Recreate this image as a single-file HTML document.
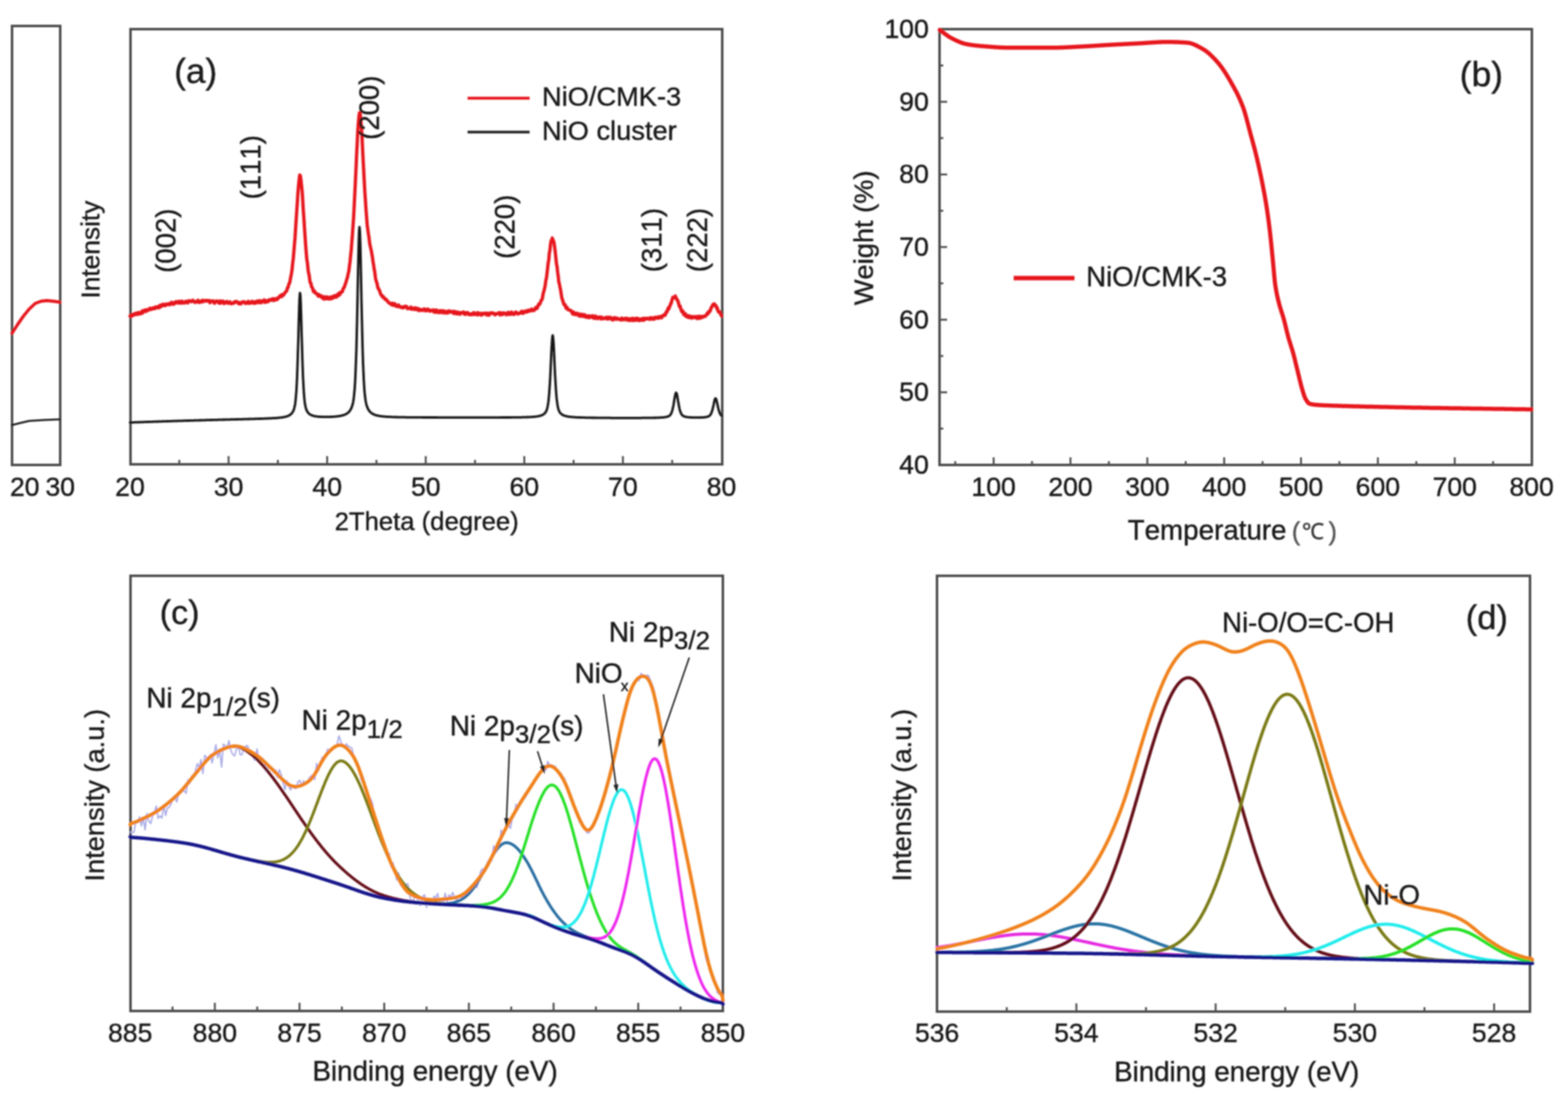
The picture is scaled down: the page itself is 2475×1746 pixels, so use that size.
<!DOCTYPE html>
<html><head><meta charset="utf-8"><style>
html,body{margin:0;padding:0;background:#fff;}
svg{display:block;}
text{font-family:"Liberation Sans", Arial, sans-serif;font-kerning:none;}
</style></head><body>
<svg width="2475" height="1746" viewBox="0 0 2475 1746">
<defs><filter id="soft" filterUnits="userSpaceOnUse" x="0" y="0" width="2475" height="1746"><feGaussianBlur stdDeviation="0.8"/></filter></defs>
<rect width="2475" height="1746" fill="#fff"/>
<g filter="url(#soft)">
<rect x="19" y="41" width="76" height="693" fill="none" stroke="#4e4e4e" stroke-width="4"/>
<path d="M19.0,526.0L28.0,512.0L37.0,499.0L46.0,488.0L55.6,479.0L65.0,475.5L74.0,474.5L84.0,475.5L94.5,477.0" fill="none" stroke="#e6141e" stroke-width="5" stroke-linejoin="round" stroke-linecap="round"/>
<path d="M19.0,671.0L33.0,667.5L46.0,664.5L70.0,663.0L94.5,662.0" fill="none" stroke="#1a1a1a" stroke-width="3.2" stroke-linejoin="round" stroke-linecap="round"/>
<text x="39.0" y="783.0" font-size="42" text-anchor="middle" fill="#1a1a1a" stroke="#1a1a1a" stroke-width="0.6">20</text>
<text x="95.0" y="783.0" font-size="42" text-anchor="middle" fill="#1a1a1a" stroke="#1a1a1a" stroke-width="0.6">30</text>
<rect x="206" y="46" width="934" height="687" fill="none" stroke="#4e4e4e" stroke-width="4"/>
<line x1="283.0" y1="733.0" x2="283.0" y2="726.0" stroke="#4e4e4e" stroke-width="3"/>
<line x1="360.8" y1="733.0" x2="360.8" y2="720.0" stroke="#4e4e4e" stroke-width="3"/>
<line x1="438.6" y1="733.0" x2="438.6" y2="726.0" stroke="#4e4e4e" stroke-width="3"/>
<line x1="516.4" y1="733.0" x2="516.4" y2="720.0" stroke="#4e4e4e" stroke-width="3"/>
<line x1="594.2" y1="733.0" x2="594.2" y2="726.0" stroke="#4e4e4e" stroke-width="3"/>
<line x1="672.0" y1="733.0" x2="672.0" y2="720.0" stroke="#4e4e4e" stroke-width="3"/>
<line x1="749.8" y1="733.0" x2="749.8" y2="726.0" stroke="#4e4e4e" stroke-width="3"/>
<line x1="827.6" y1="733.0" x2="827.6" y2="720.0" stroke="#4e4e4e" stroke-width="3"/>
<line x1="905.4" y1="733.0" x2="905.4" y2="726.0" stroke="#4e4e4e" stroke-width="3"/>
<line x1="983.2" y1="733.0" x2="983.2" y2="720.0" stroke="#4e4e4e" stroke-width="3"/>
<line x1="1061.0" y1="733.0" x2="1061.0" y2="726.0" stroke="#4e4e4e" stroke-width="3"/>
<text x="205.2" y="783.0" font-size="42" text-anchor="middle" fill="#1a1a1a" stroke="#1a1a1a" stroke-width="0.6">20</text>
<text x="360.8" y="783.0" font-size="42" text-anchor="middle" fill="#1a1a1a" stroke="#1a1a1a" stroke-width="0.6">30</text>
<text x="516.4" y="783.0" font-size="42" text-anchor="middle" fill="#1a1a1a" stroke="#1a1a1a" stroke-width="0.6">40</text>
<text x="672.0" y="783.0" font-size="42" text-anchor="middle" fill="#1a1a1a" stroke="#1a1a1a" stroke-width="0.6">50</text>
<text x="827.6" y="783.0" font-size="42" text-anchor="middle" fill="#1a1a1a" stroke="#1a1a1a" stroke-width="0.6">60</text>
<text x="983.2" y="783.0" font-size="42" text-anchor="middle" fill="#1a1a1a" stroke="#1a1a1a" stroke-width="0.6">70</text>
<text x="1138.8" y="783.0" font-size="42" text-anchor="middle" fill="#1a1a1a" stroke="#1a1a1a" stroke-width="0.6">80</text>
<text x="673.5" y="837.0" font-size="40.5" text-anchor="middle" fill="#1a1a1a" stroke="#1a1a1a" stroke-width="0.6">2Theta (degree)</text>
<text x="157.0" y="394.0" font-size="41.5" text-anchor="middle" fill="#1a1a1a" stroke="#1a1a1a" stroke-width="0.6" transform="rotate(-90 157 394)">Intensity</text>
<path d="M205.2,667.0L205.8,666.9L206.4,666.9L207.1,666.9L207.7,666.9L208.3,666.9L208.9,666.8L209.6,666.8L210.2,666.8L210.8,666.8L211.4,666.8L212.0,666.7L212.7,666.7L213.3,666.7L213.9,666.7L214.5,666.6L215.2,666.6L215.8,666.6L216.4,666.6L217.0,666.6L217.6,666.5L218.3,666.5L218.9,666.5L219.5,666.5L220.1,666.5L220.8,666.4L221.4,666.4L222.0,666.4L222.6,666.4L223.2,666.4L223.9,666.3L224.5,666.3L225.1,666.3L225.7,666.3L226.4,666.3L227.0,666.2L227.6,666.2L228.2,666.2L228.9,666.2L229.5,666.1L230.1,666.1L230.7,666.1L231.3,666.1L232.0,666.1L232.6,666.0L233.2,666.0L233.8,666.0L234.5,666.0L235.1,666.0L235.7,665.9L236.3,665.9L236.9,665.9L237.6,665.9L238.2,665.9L238.8,665.8L239.4,665.8L240.1,665.8L240.7,665.8L241.3,665.8L241.9,665.7L242.5,665.7L243.2,665.7L243.8,665.7L244.4,665.6L245.0,665.6L245.7,665.6L246.3,665.6L246.9,665.6L247.5,665.5L248.1,665.5L248.8,665.5L249.4,665.5L250.0,665.5L250.6,665.4L251.3,665.4L251.9,665.4L252.5,665.4L253.1,665.4L253.7,665.3L254.4,665.3L255.0,665.3L255.6,665.3L256.2,665.3L256.9,665.2L257.5,665.2L258.1,665.2L258.7,665.2L259.3,665.2L260.0,665.1L260.6,665.1L261.2,665.1L261.8,665.1L262.5,665.1L263.1,665.0L263.7,665.0L264.3,665.0L265.0,665.0L265.6,665.0L266.2,664.9L266.8,664.9L267.4,664.9L268.1,664.9L268.7,664.9L269.3,664.8L269.9,664.8L270.6,664.8L271.2,664.8L271.8,664.8L272.4,664.7L273.0,664.7L273.7,664.7L274.3,664.7L274.9,664.7L275.5,664.6L276.2,664.6L276.8,664.6L277.4,664.6L278.0,664.6L278.6,664.6L279.3,664.5L279.9,664.5L280.5,664.5L281.1,664.5L281.8,664.5L282.4,664.4L283.0,664.4L283.6,664.4L284.2,664.4L284.9,664.4L285.5,664.3L286.1,664.3L286.7,664.3L287.4,664.3L288.0,664.3L288.6,664.3L289.2,664.2L289.8,664.2L290.5,664.2L291.1,664.2L291.7,664.2L292.3,664.2L293.0,664.1L293.6,664.1L294.2,664.1L294.8,664.1L295.4,664.1L296.1,664.0L296.7,664.0L297.3,664.0L297.9,664.0L298.6,664.0L299.2,664.0L299.8,663.9L300.4,663.9L301.0,663.9L301.7,663.9L302.3,663.9L302.9,663.8L303.5,663.8L304.2,663.8L304.8,663.8L305.4,663.8L306.0,663.8L306.7,663.7L307.3,663.7L307.9,663.7L308.5,663.7L309.1,663.7L309.8,663.7L310.4,663.6L311.0,663.6L311.6,663.6L312.3,663.6L312.9,663.6L313.5,663.6L314.1,663.5L314.7,663.5L315.4,663.5L316.0,663.5L316.6,663.5L317.2,663.5L317.9,663.4L318.5,663.4L319.1,663.4L319.7,663.4L320.3,663.4L321.0,663.3L321.6,663.3L322.2,663.3L322.8,663.3L323.5,663.3L324.1,663.3L324.7,663.2L325.3,663.2L325.9,663.2L326.6,663.2L327.2,663.2L327.8,663.2L328.4,663.1L329.1,663.1L329.7,663.1L330.3,663.1L330.9,663.1L331.5,663.1L332.2,663.0L332.8,663.0L333.4,663.0L334.0,663.0L334.7,663.0L335.3,663.0L335.9,662.9L336.5,662.9L337.1,662.9L337.8,662.9L338.4,662.9L339.0,662.9L339.6,662.9L340.3,662.8L340.9,662.8L341.5,662.8L342.1,662.8L342.8,662.8L343.4,662.8L344.0,662.7L344.6,662.7L345.2,662.7L345.9,662.7L346.5,662.7L347.1,662.7L347.7,662.6L348.4,662.6L349.0,662.6L349.6,662.6L350.2,662.6L350.8,662.6L351.5,662.5L352.1,662.5L352.7,662.5L353.3,662.5L354.0,662.5L354.6,662.5L355.2,662.5L355.8,662.4L356.4,662.4L357.1,662.4L357.7,662.4L358.3,662.4L358.9,662.4L359.6,662.3L360.2,662.3L360.8,662.3L361.4,662.3L362.0,662.3L362.7,662.3L363.3,662.3L363.9,662.2L364.5,662.2L365.2,662.2L365.8,662.2L366.4,662.2L367.0,662.2L367.6,662.1L368.3,662.1L368.9,662.1L369.5,662.1L370.1,662.1L370.8,662.1L371.4,662.1L372.0,662.0L372.6,662.0L373.2,662.0L373.9,662.0L374.5,662.0L375.1,662.0L375.7,661.9L376.4,661.9L377.0,661.9L377.6,661.9L378.2,661.9L378.8,661.9L379.5,661.8L380.1,661.8L380.7,661.8L381.3,661.8L382.0,661.8L382.6,661.8L383.2,661.8L383.8,661.7L384.5,661.7L385.1,661.7L385.7,661.7L386.3,661.7L386.9,661.7L387.6,661.6L388.2,661.6L388.8,661.6L389.4,661.6L390.1,661.6L390.7,661.6L391.3,661.5L391.9,661.5L392.5,661.5L393.2,661.5L393.8,661.5L394.4,661.5L395.0,661.4L395.7,661.4L396.3,661.4L396.9,661.4L397.5,661.4L398.1,661.4L398.8,661.3L399.4,661.3L400.0,661.3L400.6,661.3L401.3,661.3L401.9,661.3L402.5,661.2L403.1,661.2L403.7,661.2L404.4,661.2L405.0,661.2L405.6,661.1L406.2,661.1L406.9,661.1L407.5,661.1L408.1,661.1L408.7,661.1L409.3,661.0L410.0,661.0L410.6,661.0L411.2,661.0L411.8,661.0L412.5,660.9L413.1,660.9L413.7,660.9L414.3,660.9L414.9,660.9L415.6,660.8L416.2,660.8L416.8,660.8L417.4,660.8L418.1,660.7L418.7,660.7L419.3,660.7L419.9,660.7L420.6,660.6L421.2,660.6L421.8,660.6L422.4,660.6L423.0,660.5L423.7,660.5L424.3,660.5L424.9,660.5L425.5,660.4L426.2,660.4L426.8,660.4L427.4,660.4L428.0,660.3L428.6,660.3L429.3,660.3L429.9,660.2L430.5,660.2L431.1,660.2L431.8,660.1L432.4,660.1L433.0,660.1L433.6,660.0L434.2,660.0L434.9,659.9L435.5,659.9L436.1,659.8L436.7,659.8L437.4,659.8L438.0,659.7L438.6,659.7L439.2,659.6L439.8,659.5L440.5,659.5L441.1,659.4L441.7,659.4L442.3,659.3L443.0,659.2L443.6,659.1L444.2,659.1L444.8,659.0L445.4,658.9L446.1,658.8L446.7,658.7L447.3,658.6L447.9,658.5L448.6,658.4L449.2,658.2L449.8,658.1L450.4,658.0L451.0,657.8L451.7,657.6L452.3,657.5L452.9,657.3L453.5,657.0L454.2,656.8L454.8,656.6L455.4,656.3L456.0,656.0L456.6,655.6L457.3,655.3L457.9,654.8L458.5,654.4L459.1,653.9L459.8,653.3L460.4,652.6L461.0,651.9L461.6,651.0L462.3,650.0L462.9,648.8L463.5,647.4L464.1,645.6L464.7,643.4L465.4,640.5L466.0,636.7L466.6,631.6L467.2,624.9L467.9,616.0L468.5,604.7L469.1,590.6L469.7,573.4L470.3,553.4L471.0,531.3L471.6,508.3L472.2,486.9L472.8,470.4L473.5,462.5L474.1,465.2L474.7,477.8L475.3,497.1L475.9,519.7L476.6,542.4L477.2,563.6L477.8,582.2L478.4,597.8L479.1,610.5L479.7,620.5L480.3,628.2L480.9,634.0L481.5,638.4L482.2,641.7L482.8,644.2L483.4,646.2L484.0,647.7L484.7,649.0L485.3,650.1L485.9,651.0L486.5,651.7L487.1,652.4L487.8,653.0L488.4,653.5L489.0,654.0L489.6,654.4L490.3,654.8L490.9,655.1L491.5,655.4L492.1,655.6L492.7,655.9L493.4,656.1L494.0,656.3L494.6,656.5L495.2,656.6L495.9,656.8L496.5,656.9L497.1,657.0L497.7,657.1L498.4,657.2L499.0,657.3L499.6,657.4L500.2,657.5L500.8,657.6L501.5,657.6L502.1,657.7L502.7,657.8L503.3,657.8L504.0,657.9L504.6,657.9L505.2,657.9L505.8,658.0L506.4,658.0L507.1,658.0L507.7,658.1L508.3,658.1L508.9,658.1L509.6,658.1L510.2,658.1L510.8,658.1L511.4,658.1L512.0,658.2L512.7,658.2L513.3,658.2L513.9,658.2L514.5,658.2L515.2,658.2L515.8,658.2L516.4,658.2L517.0,658.1L517.6,658.1L518.3,658.1L518.9,658.1L519.5,658.1L520.1,658.1L520.8,658.1L521.4,658.0L522.0,658.0L522.6,658.0L523.2,658.0L523.9,657.9L524.5,657.9L525.1,657.9L525.7,657.8L526.4,657.8L527.0,657.8L527.6,657.7L528.2,657.7L528.8,657.6L529.5,657.6L530.1,657.5L530.7,657.4L531.3,657.4L532.0,657.3L532.6,657.2L533.2,657.2L533.8,657.1L534.4,657.0L535.1,656.9L535.7,656.8L536.3,656.7L536.9,656.6L537.6,656.5L538.2,656.3L538.8,656.2L539.4,656.1L540.1,655.9L540.7,655.8L541.3,655.6L541.9,655.4L542.5,655.2L543.2,655.0L543.8,654.7L544.4,654.5L545.0,654.2L545.7,653.9L546.3,653.6L546.9,653.3L547.5,652.9L548.1,652.5L548.8,652.0L549.4,651.5L550.0,650.9L550.6,650.3L551.3,649.6L551.9,648.9L552.5,648.0L553.1,647.1L553.7,646.0L554.4,644.8L555.0,643.3L555.6,641.7L556.2,639.7L556.9,637.3L557.5,634.3L558.1,630.6L558.7,625.8L559.3,619.6L560.0,611.6L560.6,601.4L561.2,588.3L561.8,572.1L562.5,552.4L563.1,528.9L563.7,501.9L564.3,472.1L564.9,440.7L565.6,410.1L566.2,383.5L566.8,365.1L567.4,358.5L568.1,365.1L568.7,383.5L569.3,410.1L569.9,440.7L570.5,472.1L571.2,501.9L571.8,528.9L572.4,552.3L573.0,572.1L573.7,588.3L574.3,601.3L574.9,611.6L575.5,619.5L576.2,625.7L576.8,630.5L577.4,634.3L578.0,637.2L578.6,639.6L579.3,641.6L579.9,643.3L580.5,644.7L581.1,645.9L581.8,647.0L582.4,648.0L583.0,648.8L583.6,649.6L584.2,650.2L584.9,650.9L585.5,651.4L586.1,651.9L586.7,652.4L587.4,652.8L588.0,653.2L588.6,653.5L589.2,653.8L589.8,654.1L590.5,654.4L591.1,654.6L591.7,654.9L592.3,655.1L593.0,655.3L593.6,655.5L594.2,655.7L594.8,655.8L595.4,656.0L596.1,656.1L596.7,656.2L597.3,656.4L597.9,656.5L598.6,656.6L599.2,656.7L599.8,656.8L600.4,656.9L601.0,657.0L601.7,657.1L602.3,657.1L602.9,657.2L603.5,657.3L604.2,657.4L604.8,657.4L605.4,657.5L606.0,657.5L606.6,657.6L607.3,657.6L607.9,657.7L608.5,657.7L609.1,657.8L609.8,657.8L610.4,657.9L611.0,657.9L611.6,657.9L612.2,658.0L612.9,658.0L613.5,658.1L614.1,658.1L614.7,658.1L615.4,658.1L616.0,658.2L616.6,658.2L617.2,658.2L617.9,658.2L618.5,658.3L619.1,658.3L619.7,658.3L620.3,658.3L621.0,658.4L621.6,658.4L622.2,658.4L622.8,658.4L623.5,658.4L624.1,658.5L624.7,658.5L625.3,658.5L625.9,658.5L626.6,658.5L627.2,658.5L627.8,658.5L628.4,658.6L629.1,658.6L629.7,658.6L630.3,658.6L630.9,658.6L631.5,658.6L632.2,658.6L632.8,658.6L633.4,658.7L634.0,658.7L634.7,658.7L635.3,658.7L635.9,658.7L636.5,658.7L637.1,658.7L637.8,658.7L638.4,658.7L639.0,658.7L639.6,658.7L640.3,658.7L640.9,658.8L641.5,658.8L642.1,658.8L642.7,658.8L643.4,658.8L644.0,658.8L644.6,658.8L645.2,658.8L645.9,658.8L646.5,658.8L647.1,658.8L647.7,658.8L648.3,658.8L649.0,658.8L649.6,658.8L650.2,658.8L650.8,658.9L651.5,658.9L652.1,658.9L652.7,658.9L653.3,658.9L654.0,658.9L654.6,658.9L655.2,658.9L655.8,658.9L656.4,658.9L657.1,658.9L657.7,658.9L658.3,658.9L658.9,658.9L659.6,658.9L660.2,658.9L660.8,658.9L661.4,658.9L662.0,658.9L662.7,658.9L663.3,658.9L663.9,658.9L664.5,658.9L665.2,658.9L665.8,658.9L666.4,659.0L667.0,659.0L667.6,659.0L668.3,659.0L668.9,659.0L669.5,659.0L670.1,659.0L670.8,659.0L671.4,659.0L672.0,659.0L672.6,659.0L673.2,659.0L673.9,659.0L674.5,659.0L675.1,659.0L675.7,659.0L676.4,659.0L677.0,659.0L677.6,659.0L678.2,659.0L678.8,659.0L679.5,659.0L680.1,659.0L680.7,659.0L681.3,659.0L682.0,659.0L682.6,659.0L683.2,659.0L683.8,659.0L684.4,659.0L685.1,659.0L685.7,659.0L686.3,659.0L686.9,659.0L687.6,659.0L688.2,659.0L688.8,659.0L689.4,659.0L690.0,659.0L690.7,659.0L691.3,659.1L691.9,659.1L692.5,659.1L693.2,659.1L693.8,659.1L694.4,659.1L695.0,659.1L695.7,659.1L696.3,659.1L696.9,659.1L697.5,659.1L698.1,659.1L698.8,659.1L699.4,659.1L700.0,659.1L700.6,659.1L701.3,659.1L701.9,659.1L702.5,659.1L703.1,659.1L703.7,659.1L704.4,659.1L705.0,659.1L705.6,659.1L706.2,659.1L706.9,659.1L707.5,659.1L708.1,659.1L708.7,659.1L709.3,659.1L710.0,659.1L710.6,659.1L711.2,659.1L711.8,659.1L712.5,659.1L713.1,659.1L713.7,659.1L714.3,659.1L714.9,659.1L715.6,659.1L716.2,659.1L716.8,659.1L717.4,659.1L718.1,659.1L718.7,659.1L719.3,659.1L719.9,659.1L720.5,659.1L721.2,659.1L721.8,659.1L722.4,659.1L723.0,659.1L723.7,659.1L724.3,659.1L724.9,659.1L725.5,659.1L726.1,659.1L726.8,659.1L727.4,659.1L728.0,659.1L728.6,659.1L729.3,659.1L729.9,659.1L730.5,659.1L731.1,659.1L731.8,659.1L732.4,659.1L733.0,659.1L733.6,659.1L734.2,659.1L734.9,659.1L735.5,659.1L736.1,659.1L736.7,659.1L737.4,659.1L738.0,659.1L738.6,659.1L739.2,659.1L739.8,659.1L740.5,659.1L741.1,659.1L741.7,659.1L742.3,659.1L743.0,659.1L743.6,659.1L744.2,659.1L744.8,659.1L745.4,659.1L746.1,659.1L746.7,659.1L747.3,659.1L747.9,659.1L748.6,659.1L749.2,659.1L749.8,659.1L750.4,659.1L751.0,659.1L751.7,659.1L752.3,659.1L752.9,659.1L753.5,659.1L754.2,659.1L754.8,659.1L755.4,659.1L756.0,659.1L756.6,659.1L757.3,659.1L757.9,659.1L758.5,659.1L759.1,659.1L759.8,659.1L760.4,659.1L761.0,659.1L761.6,659.1L762.2,659.1L762.9,659.1L763.5,659.1L764.1,659.1L764.7,659.1L765.4,659.1L766.0,659.1L766.6,659.1L767.2,659.1L767.8,659.1L768.5,659.1L769.1,659.1L769.7,659.1L770.3,659.1L771.0,659.1L771.6,659.1L772.2,659.1L772.8,659.1L773.5,659.1L774.1,659.1L774.7,659.1L775.3,659.1L775.9,659.1L776.6,659.1L777.2,659.1L777.8,659.1L778.4,659.1L779.1,659.1L779.7,659.1L780.3,659.1L780.9,659.1L781.5,659.1L782.2,659.1L782.8,659.1L783.4,659.1L784.0,659.1L784.7,659.1L785.3,659.1L785.9,659.1L786.5,659.1L787.1,659.1L787.8,659.1L788.4,659.1L789.0,659.1L789.6,659.0L790.3,659.0L790.9,659.0L791.5,659.0L792.1,659.0L792.7,659.0L793.4,659.0L794.0,659.0L794.6,659.0L795.2,659.0L795.9,659.0L796.5,659.0L797.1,659.0L797.7,659.0L798.3,659.0L799.0,659.0L799.6,659.0L800.2,659.0L800.8,659.0L801.5,659.0L802.1,659.0L802.7,659.0L803.3,659.0L803.9,659.0L804.6,659.0L805.2,659.0L805.8,659.0L806.4,659.0L807.1,659.0L807.7,658.9L808.3,658.9L808.9,658.9L809.6,658.9L810.2,658.9L810.8,658.9L811.4,658.9L812.0,658.9L812.7,658.9L813.3,658.9L813.9,658.9L814.5,658.9L815.2,658.9L815.8,658.9L816.4,658.9L817.0,658.9L817.6,658.8L818.3,658.8L818.9,658.8L819.5,658.8L820.1,658.8L820.8,658.8L821.4,658.8L822.0,658.8L822.6,658.8L823.2,658.8L823.9,658.7L824.5,658.7L825.1,658.7L825.7,658.7L826.4,658.7L827.0,658.7L827.6,658.7L828.2,658.6L828.8,658.6L829.5,658.6L830.1,658.6L830.7,658.6L831.3,658.5L832.0,658.5L832.6,658.5L833.2,658.5L833.8,658.5L834.4,658.4L835.1,658.4L835.7,658.4L836.3,658.3L836.9,658.3L837.6,658.3L838.2,658.3L838.8,658.2L839.4,658.2L840.0,658.1L840.7,658.1L841.3,658.1L841.9,658.0L842.5,658.0L843.2,657.9L843.8,657.8L844.4,657.8L845.0,657.7L845.6,657.7L846.3,657.6L846.9,657.5L847.5,657.4L848.1,657.3L848.8,657.2L849.4,657.1L850.0,657.0L850.6,656.9L851.3,656.7L851.9,656.6L852.5,656.4L853.1,656.2L853.7,656.1L854.4,655.8L855.0,655.6L855.6,655.3L856.2,655.0L856.9,654.7L857.5,654.4L858.1,653.9L858.7,653.5L859.3,653.0L860.0,652.3L860.6,651.6L861.2,650.8L861.8,649.7L862.5,648.5L863.1,646.8L863.7,644.8L864.3,642.1L864.9,638.7L865.6,634.2L866.2,628.6L866.8,621.6L867.4,613.1L868.1,603.0L868.7,591.3L869.3,578.4L869.9,564.9L870.5,551.7L871.2,540.2L871.8,532.2L872.4,529.4L873.0,532.3L873.7,540.2L874.3,551.7L874.9,564.9L875.5,578.5L876.1,591.4L876.8,603.0L877.4,613.1L878.0,621.7L878.6,628.7L879.3,634.3L879.9,638.7L880.5,642.2L881.1,644.9L881.7,646.9L882.4,648.6L883.0,649.9L883.6,650.9L884.2,651.8L884.9,652.5L885.5,653.1L886.1,653.6L886.7,654.1L887.4,654.5L888.0,654.9L888.6,655.2L889.2,655.5L889.8,655.8L890.5,656.0L891.1,656.3L891.7,656.5L892.3,656.6L893.0,656.8L893.6,657.0L894.2,657.1L894.8,657.2L895.4,657.4L896.1,657.5L896.7,657.6L897.3,657.7L897.9,657.8L898.6,657.9L899.2,657.9L899.8,658.0L900.4,658.1L901.0,658.2L901.7,658.2L902.3,658.3L902.9,658.3L903.5,658.4L904.2,658.4L904.8,658.5L905.4,658.5L906.0,658.6L906.6,658.6L907.3,658.6L907.9,658.7L908.5,658.7L909.1,658.8L909.8,658.8L910.4,658.8L911.0,658.8L911.6,658.9L912.2,658.9L912.9,658.9L913.5,659.0L914.1,659.0L914.7,659.0L915.4,659.0L916.0,659.0L916.6,659.1L917.2,659.1L917.8,659.1L918.5,659.1L919.1,659.1L919.7,659.2L920.3,659.2L921.0,659.2L921.6,659.2L922.2,659.2L922.8,659.2L923.4,659.3L924.1,659.3L924.7,659.3L925.3,659.3L925.9,659.3L926.6,659.3L927.2,659.3L927.8,659.4L928.4,659.4L929.1,659.4L929.7,659.4L930.3,659.4L930.9,659.4L931.5,659.4L932.2,659.4L932.8,659.4L933.4,659.5L934.0,659.5L934.7,659.5L935.3,659.5L935.9,659.5L936.5,659.5L937.1,659.5L937.8,659.5L938.4,659.5L939.0,659.5L939.6,659.5L940.3,659.6L940.9,659.6L941.5,659.6L942.1,659.6L942.7,659.6L943.4,659.6L944.0,659.6L944.6,659.6L945.2,659.6L945.9,659.6L946.5,659.6L947.1,659.6L947.7,659.6L948.3,659.6L949.0,659.6L949.6,659.7L950.2,659.7L950.8,659.7L951.5,659.7L952.1,659.7L952.7,659.7L953.3,659.7L953.9,659.7L954.6,659.7L955.2,659.7L955.8,659.7L956.4,659.7L957.1,659.7L957.7,659.7L958.3,659.7L958.9,659.7L959.5,659.7L960.2,659.7L960.8,659.7L961.4,659.7L962.0,659.7L962.7,659.7L963.3,659.7L963.9,659.8L964.5,659.8L965.2,659.8L965.8,659.8L966.4,659.8L967.0,659.8L967.6,659.8L968.3,659.8L968.9,659.8L969.5,659.8L970.1,659.8L970.8,659.8L971.4,659.8L972.0,659.8L972.6,659.8L973.2,659.8L973.9,659.8L974.5,659.8L975.1,659.8L975.7,659.8L976.4,659.8L977.0,659.8L977.6,659.8L978.2,659.8L978.8,659.8L979.5,659.8L980.1,659.8L980.7,659.8L981.3,659.8L982.0,659.8L982.6,659.8L983.2,659.8L983.8,659.8L984.4,659.8L985.1,659.8L985.7,659.8L986.3,659.8L986.9,659.8L987.6,659.8L988.2,659.8L988.8,659.8L989.4,659.8L990.0,659.8L990.7,659.8L991.3,659.8L991.9,659.8L992.5,659.8L993.2,659.8L993.8,659.8L994.4,659.8L995.0,659.8L995.6,659.8L996.3,659.8L996.9,659.8L997.5,659.8L998.1,659.8L998.8,659.8L999.4,659.8L1000.0,659.8L1000.6,659.8L1001.2,659.8L1001.9,659.8L1002.5,659.8L1003.1,659.8L1003.7,659.8L1004.4,659.8L1005.0,659.8L1005.6,659.8L1006.2,659.8L1006.9,659.8L1007.5,659.8L1008.1,659.8L1008.7,659.8L1009.3,659.8L1010.0,659.8L1010.6,659.8L1011.2,659.8L1011.8,659.8L1012.5,659.8L1013.1,659.7L1013.7,659.7L1014.3,659.7L1014.9,659.7L1015.6,659.7L1016.2,659.7L1016.8,659.7L1017.4,659.7L1018.1,659.7L1018.7,659.7L1019.3,659.7L1019.9,659.7L1020.5,659.7L1021.2,659.7L1021.8,659.7L1022.4,659.7L1023.0,659.7L1023.7,659.7L1024.3,659.7L1024.9,659.7L1025.5,659.7L1026.1,659.6L1026.8,659.6L1027.4,659.6L1028.0,659.6L1028.6,659.6L1029.3,659.6L1029.9,659.6L1030.5,659.6L1031.1,659.6L1031.7,659.6L1032.4,659.5L1033.0,659.5L1033.6,659.5L1034.2,659.5L1034.9,659.5L1035.5,659.5L1036.1,659.5L1036.7,659.4L1037.3,659.4L1038.0,659.4L1038.6,659.4L1039.2,659.4L1039.8,659.3L1040.5,659.3L1041.1,659.3L1041.7,659.2L1042.3,659.2L1043.0,659.2L1043.6,659.1L1044.2,659.1L1044.8,659.1L1045.4,659.0L1046.1,659.0L1046.7,658.9L1047.3,658.8L1047.9,658.8L1048.6,658.7L1049.2,658.6L1049.8,658.5L1050.4,658.4L1051.0,658.3L1051.7,658.2L1052.3,658.1L1052.9,657.9L1053.5,657.7L1054.2,657.5L1054.8,657.3L1055.4,657.0L1056.0,656.7L1056.6,656.3L1057.3,655.8L1057.9,655.1L1058.5,654.3L1059.1,653.3L1059.8,652.0L1060.4,650.4L1061.0,648.5L1061.6,646.2L1062.2,643.4L1062.9,640.3L1063.5,636.8L1064.1,633.1L1064.7,629.3L1065.4,625.7L1066.0,622.7L1066.6,620.6L1067.2,619.9L1067.8,620.6L1068.5,622.6L1069.1,625.7L1069.7,629.3L1070.3,633.1L1071.0,636.8L1071.6,640.3L1072.2,643.4L1072.8,646.1L1073.4,648.5L1074.1,650.4L1074.7,652.0L1075.3,653.3L1075.9,654.3L1076.6,655.1L1077.2,655.7L1077.8,656.2L1078.4,656.6L1079.0,657.0L1079.7,657.2L1080.3,657.5L1080.9,657.7L1081.5,657.8L1082.2,658.0L1082.8,658.1L1083.4,658.2L1084.0,658.3L1084.7,658.4L1085.3,658.5L1085.9,658.6L1086.5,658.7L1087.1,658.7L1087.8,658.8L1088.4,658.8L1089.0,658.9L1089.6,658.9L1090.3,658.9L1090.9,659.0L1091.5,659.0L1092.1,659.0L1092.7,659.1L1093.4,659.1L1094.0,659.1L1094.6,659.1L1095.2,659.1L1095.9,659.1L1096.5,659.2L1097.1,659.2L1097.7,659.2L1098.3,659.2L1099.0,659.2L1099.6,659.2L1100.2,659.2L1100.8,659.2L1101.5,659.2L1102.1,659.2L1102.7,659.2L1103.3,659.1L1103.9,659.1L1104.6,659.1L1105.2,659.1L1105.8,659.1L1106.4,659.1L1107.1,659.0L1107.7,659.0L1108.3,659.0L1108.9,658.9L1109.5,658.9L1110.2,658.9L1110.8,658.8L1111.4,658.8L1112.0,658.7L1112.7,658.6L1113.3,658.5L1113.9,658.5L1114.5,658.4L1115.1,658.2L1115.8,658.1L1116.4,658.0L1117.0,657.8L1117.6,657.6L1118.3,657.3L1118.9,657.0L1119.5,656.6L1120.1,656.1L1120.8,655.5L1121.4,654.7L1122.0,653.7L1122.6,652.5L1123.2,651.0L1123.9,649.2L1124.5,647.1L1125.1,644.7L1125.7,642.0L1126.4,639.1L1127.0,636.1L1127.6,633.4L1128.2,631.0L1128.8,629.4L1129.5,628.9L1130.1,629.4L1130.7,631.0L1131.3,633.4L1132.0,636.2L1132.6,639.1L1133.2,642.0L1133.8,644.7L1134.4,647.1L1135.1,649.2L1135.7,651.0L1136.3,652.6L1136.9,653.8L1137.6,654.8L1138.2,655.6L1138.8,656.2" fill="none" stroke="#151515" stroke-width="3.8" stroke-linejoin="round" stroke-linecap="round"/>
<path d="M205.2,499.0L206.1,498.0L207.1,499.6L208.0,497.0L208.9,498.5L209.9,497.5L210.8,495.9L211.7,497.3L212.7,495.1L213.6,496.4L214.5,494.6L215.5,494.3L216.4,495.3L217.3,496.5L218.3,493.4L219.2,493.4L220.1,494.7L221.1,495.6L222.0,493.8L222.9,492.8L223.9,494.7L224.8,490.7L225.7,493.6L226.7,491.0L227.6,490.1L228.5,489.6L229.5,490.1L230.4,491.8L231.3,488.9L232.3,490.2L233.2,490.2L234.1,488.8L235.1,489.2L236.0,487.0L236.9,486.7L237.9,487.0L238.8,488.6L239.7,487.2L240.7,486.5L241.6,487.3L242.5,486.4L243.5,485.5L244.4,487.2L245.3,486.5L246.3,484.4L247.2,485.4L248.1,484.9L249.1,486.0L250.0,485.1L250.9,483.1L251.9,485.5L252.8,481.8L253.7,482.7L254.7,483.8L255.6,481.1L256.5,482.1L257.5,480.1L258.4,482.3L259.3,482.5L260.3,481.4L261.2,482.4L262.1,479.9L263.1,481.2L264.0,480.6L265.0,480.3L265.9,479.6L266.8,481.0L267.8,481.2L268.7,479.1L269.6,479.7L270.6,477.2L271.5,479.6L272.4,479.2L273.4,480.5L274.3,479.7L275.2,477.5L276.2,477.8L277.1,478.8L278.0,476.1L279.0,477.7L279.9,476.5L280.8,476.2L281.8,475.8L282.7,478.6L283.6,475.9L284.6,476.3L285.5,476.8L286.4,478.6L287.4,475.4L288.3,476.7L289.2,477.1L290.2,478.3L291.1,478.0L292.0,478.1L293.0,475.7L293.9,476.1L294.8,475.8L295.8,477.9L296.7,478.1L297.6,474.8L298.6,474.9L299.5,475.0L300.4,475.0L301.4,476.0L302.3,476.3L303.2,475.0L304.2,473.9L305.1,475.6L306.0,475.3L307.0,476.1L307.9,477.6L308.8,476.6L309.8,475.9L310.7,476.3L311.6,476.5L312.6,474.0L313.5,477.4L314.4,476.9L315.4,477.3L316.3,477.0L317.2,475.4L318.2,475.5L319.1,474.3L320.0,476.5L321.0,474.2L321.9,474.3L322.8,474.9L323.8,474.7L324.7,475.5L325.6,474.4L326.6,474.2L327.5,474.8L328.4,474.7L329.4,475.8L330.3,474.5L331.2,477.9L332.2,476.9L333.1,475.1L334.0,475.5L335.0,476.0L335.9,476.1L336.8,475.1L337.8,478.1L338.7,478.7L339.6,476.6L340.6,476.7L341.5,475.2L342.4,475.3L343.4,476.3L344.3,476.0L345.2,478.3L346.2,475.6L347.1,475.1L348.0,478.8L349.0,477.2L349.9,475.7L350.8,477.3L351.8,475.3L352.7,477.3L353.6,479.2L354.6,478.7L355.5,478.1L356.4,476.4L357.4,476.8L358.3,476.1L359.2,478.5L360.2,477.6L361.1,478.6L362.0,476.9L363.0,476.5L363.9,478.8L364.8,479.6L365.8,479.1L366.7,478.9L367.6,479.0L368.6,478.7L369.5,476.6L370.4,477.8L371.4,477.2L372.3,475.9L373.2,475.9L374.2,476.9L375.1,476.8L376.0,478.6L377.0,479.6L377.9,477.6L378.8,479.5L379.8,479.7L380.7,479.5L381.7,477.2L382.6,476.6L383.5,476.6L384.5,476.4L385.4,476.4L386.3,478.0L387.3,479.1L388.2,478.8L389.1,477.4L390.1,478.0L391.0,478.6L391.9,475.7L392.9,477.9L393.8,478.9L394.7,478.3L395.7,478.2L396.6,477.0L397.5,475.8L398.5,478.2L399.4,476.3L400.3,478.1L401.3,478.7L402.2,476.4L403.1,476.3L404.1,478.5L405.0,477.5L405.9,475.2L406.9,475.0L407.8,475.0L408.7,477.9L409.7,477.5L410.6,474.7L411.5,477.4L412.5,477.9L413.4,476.5L414.3,475.2L415.3,475.9L416.2,474.1L417.1,473.5L418.1,477.3L419.0,475.9L419.9,475.2L420.9,476.7L421.8,474.6L422.7,476.2L423.7,475.9L424.6,473.3L425.5,473.2L426.5,473.2L427.4,472.8L428.3,474.0L429.3,472.5L430.2,473.0L431.1,471.6L432.1,474.5L433.0,472.0L433.9,472.1L434.9,472.3L435.8,473.3L436.7,471.0L437.7,472.7L438.6,470.6L439.5,470.3L440.5,469.9L441.4,467.4L442.3,468.5L443.3,467.0L444.2,465.6L445.1,468.1L446.1,464.9L447.0,465.3L447.9,465.4L448.9,463.7L449.8,461.7L450.7,461.2L451.7,460.0L452.6,459.2L453.5,454.7L454.5,454.3L455.4,450.5L456.3,447.7L457.3,446.2L458.2,441.1L459.1,436.5L460.1,431.7L461.0,425.7L461.9,416.3L462.9,408.3L463.8,397.9L464.7,386.8L465.7,375.2L466.6,360.8L467.5,346.7L468.5,331.6L469.4,318.6L470.3,303.7L471.3,292.4L472.2,283.8L473.1,276.3L474.1,277.5L475.0,283.8L475.9,292.3L476.9,301.4L477.8,315.3L478.7,331.4L479.7,344.9L480.6,359.9L481.5,372.7L482.5,387.5L483.4,399.1L484.3,409.4L485.3,415.1L486.2,424.9L487.1,431.2L488.1,434.8L489.0,442.5L489.9,446.9L490.9,447.4L491.8,453.2L492.7,453.5L493.7,456.0L494.6,459.9L495.5,460.8L496.5,459.5L497.4,461.8L498.4,463.2L499.3,463.4L500.2,463.7L501.2,464.9L502.1,467.2L503.0,465.0L504.0,467.7L504.9,467.7L505.8,466.4L506.8,468.1L507.7,469.6L508.6,469.4L509.6,467.9L510.5,471.8L511.4,471.2L512.4,472.1L513.3,468.8L514.2,469.5L515.2,468.7L516.1,471.7L517.0,469.6L518.0,469.1L518.9,470.2L519.8,472.1L520.8,471.6L521.7,469.3L522.6,468.7L523.6,471.6L524.5,470.0L525.4,470.3L526.4,467.6L527.3,467.1L528.2,469.3L529.2,467.9L530.1,466.1L531.0,469.1L532.0,467.3L532.9,467.4L533.8,464.0L534.8,466.4L535.7,462.4L536.6,464.8L537.6,462.2L538.5,460.8L539.4,460.5L540.4,460.7L541.3,456.7L542.2,454.6L543.2,454.4L544.1,451.3L545.0,448.5L546.0,446.1L546.9,442.7L547.8,439.8L548.8,436.3L549.7,431.6L550.6,428.1L551.6,419.9L552.5,413.6L553.4,404.0L554.4,395.1L555.3,382.9L556.2,371.5L557.2,356.7L558.1,344.2L559.0,326.5L560.0,306.7L560.9,288.4L561.8,269.9L562.8,246.0L563.7,229.0L564.6,209.4L565.6,194.6L566.5,185.3L567.4,178.2L568.4,179.1L569.3,186.1L570.2,198.6L571.2,211.1L572.1,230.6L573.0,248.9L574.0,267.6L574.9,285.0L575.8,301.9L576.8,316.3L577.7,330.4L578.6,342.2L579.6,355.2L580.5,361.9L581.4,368.7L582.4,374.5L583.3,382.8L584.2,387.9L585.2,392.0L586.1,395.7L587.0,401.1L588.0,407.2L588.9,413.9L589.8,418.8L590.8,425.8L591.7,430.6L592.6,438.5L593.6,443.2L594.5,445.7L595.4,448.3L596.4,454.6L597.3,454.9L598.2,457.7L599.2,458.6L600.1,462.2L601.0,464.4L602.0,466.1L602.9,466.4L603.8,468.9L604.8,468.0L605.7,470.1L606.6,470.3L607.6,472.4L608.5,471.8L609.4,472.5L610.4,474.3L611.3,474.6L612.2,476.6L613.2,477.0L614.1,478.4L615.1,478.5L616.0,479.2L616.9,480.3L617.9,478.8L618.8,478.9L619.7,481.9L620.7,479.0L621.6,481.6L622.5,481.6L623.5,479.5L624.4,483.0L625.3,483.5L626.3,482.7L627.2,483.4L628.1,484.0L629.1,481.5L630.0,483.3L630.9,483.5L631.9,485.0L632.8,485.1L633.7,485.4L634.7,484.6L635.6,486.1L636.5,485.4L637.5,485.6L638.4,484.0L639.3,483.3L640.3,483.9L641.2,485.0L642.1,484.1L643.1,487.2L644.0,486.3L644.9,486.7L645.9,486.9L646.8,487.2L647.7,486.6L648.7,484.8L649.6,488.1L650.5,488.1L651.5,487.2L652.4,487.5L653.3,488.1L654.3,485.9L655.2,488.7L656.1,486.8L657.1,486.3L658.0,487.1L658.9,489.1L659.9,487.1L660.8,489.4L661.7,490.4L662.7,488.6L663.6,488.3L664.5,488.8L665.5,489.7L666.4,490.2L667.3,489.7L668.3,489.9L669.2,487.7L670.1,488.1L671.1,488.6L672.0,490.7L672.9,489.0L673.9,490.2L674.8,488.0L675.7,488.3L676.7,489.2L677.6,490.9L678.5,491.1L679.5,491.1L680.4,489.7L681.3,490.7L682.3,490.6L683.2,490.7L684.1,489.3L685.1,492.5L686.0,489.8L686.9,493.0L687.9,492.9L688.8,489.3L689.7,491.2L690.7,492.7L691.6,493.4L692.5,491.4L693.5,490.7L694.4,490.6L695.3,493.6L696.3,490.7L697.2,492.3L698.1,490.6L699.1,492.2L700.0,494.0L700.9,490.8L701.9,493.6L702.8,492.4L703.7,494.0L704.7,493.3L705.6,491.5L706.5,494.2L707.5,492.6L708.4,490.9L709.3,490.8L710.3,492.9L711.2,492.8L712.1,492.2L713.1,491.7L714.0,492.6L714.9,492.5L715.9,494.7L716.8,491.4L717.7,494.5L718.7,494.9L719.6,492.1L720.5,495.4L721.5,494.6L722.4,495.4L723.3,493.0L724.3,493.4L725.2,493.6L726.1,496.1L727.1,494.5L728.0,493.6L728.9,494.0L729.9,493.4L730.8,492.6L731.8,492.8L732.7,495.8L733.6,493.7L734.6,496.4L735.5,493.7L736.4,493.8L737.4,494.8L738.3,493.6L739.2,494.4L740.2,496.8L741.1,496.5L742.0,496.3L743.0,495.6L743.9,496.8L744.8,496.9L745.8,495.4L746.7,496.1L747.6,493.5L748.6,496.3L749.5,495.2L750.4,496.4L751.4,496.0L752.3,494.6L753.2,493.7L754.2,497.2L755.1,494.0L756.0,495.4L757.0,495.0L757.9,494.8L758.8,496.6L759.8,497.5L760.7,494.7L761.6,496.3L762.6,494.8L763.5,495.9L764.4,495.2L765.4,494.3L766.3,494.3L767.2,494.4L768.2,497.2L769.1,495.6L770.0,494.5L771.0,497.2L771.9,497.6L772.8,495.4L773.8,494.1L774.7,494.3L775.6,493.9L776.6,494.9L777.5,493.9L778.4,494.5L779.4,494.5L780.3,495.7L781.2,497.0L782.2,496.4L783.1,495.1L784.0,495.1L785.0,495.5L785.9,494.9L786.8,494.7L787.8,493.6L788.7,494.4L789.6,497.2L790.6,493.8L791.5,495.3L792.4,495.7L793.4,496.6L794.3,494.0L795.2,494.2L796.2,494.1L797.1,494.7L798.0,494.8L799.0,496.8L799.9,496.4L800.8,496.4L801.8,493.0L802.7,493.0L803.6,495.7L804.6,496.4L805.5,494.6L806.4,495.0L807.4,492.6L808.3,494.2L809.2,496.2L810.2,495.8L811.1,495.8L812.0,496.2L813.0,493.3L813.9,492.7L814.8,492.8L815.8,494.2L816.7,494.7L817.6,495.7L818.6,494.7L819.5,494.3L820.4,494.7L821.4,493.4L822.3,493.6L823.2,491.5L824.2,494.3L825.1,492.0L826.0,494.6L827.0,493.4L827.9,491.8L828.8,491.0L829.8,491.3L830.7,492.7L831.6,492.7L832.6,490.2L833.5,489.8L834.4,491.4L835.4,491.4L836.3,490.3L837.2,489.4L838.2,490.6L839.1,487.9L840.0,488.7L841.0,489.0L841.9,490.6L842.8,488.9L843.8,489.3L844.7,487.1L845.6,485.5L846.6,484.9L847.5,487.0L848.5,485.0L849.4,482.4L850.3,480.1L851.3,480.7L852.2,479.9L853.1,477.1L854.1,474.4L855.0,473.7L855.9,472.0L856.9,466.1L857.8,461.8L858.7,458.9L859.7,454.7L860.6,450.6L861.5,443.0L862.5,439.1L863.4,432.1L864.3,423.9L865.3,415.0L866.2,410.2L867.1,399.8L868.1,394.5L869.0,385.6L869.9,380.3L870.9,378.9L871.8,375.7L872.7,379.1L873.7,380.2L874.6,383.8L875.5,390.3L876.5,398.3L877.4,407.1L878.3,416.3L879.3,420.9L880.2,429.5L881.1,435.8L882.1,445.5L883.0,448.1L883.9,453.2L884.9,458.1L885.8,463.8L886.7,469.7L887.7,473.0L888.6,475.3L889.5,479.0L890.5,481.0L891.4,480.5L892.3,481.7L893.3,486.2L894.2,486.8L895.1,485.1L896.1,488.6L897.0,488.4L897.9,489.2L898.9,489.8L899.8,489.8L900.7,489.8L901.7,491.4L902.6,492.3L903.5,495.2L904.5,492.3L905.4,496.1L906.3,493.4L907.3,494.4L908.2,496.6L909.1,496.9L910.1,495.6L911.0,494.4L911.9,496.4L912.9,496.2L913.8,498.6L914.7,496.0L915.7,496.9L916.6,499.2L917.5,495.9L918.5,497.6L919.4,499.4L920.3,499.4L921.3,496.7L922.2,496.8L923.1,497.1L924.1,500.6L925.0,498.1L925.9,500.2L926.9,500.9L927.8,498.8L928.7,498.7L929.7,501.5L930.6,500.3L931.5,499.0L932.5,500.9L933.4,499.4L934.3,499.4L935.3,498.4L936.2,501.5L937.1,502.2L938.1,501.2L939.0,502.5L939.9,498.9L940.9,499.9L941.8,500.9L942.7,502.9L943.7,503.0L944.6,500.8L945.5,500.4L946.5,501.2L947.4,501.5L948.3,503.3L949.3,500.4L950.2,503.0L951.1,502.8L952.1,503.2L953.0,503.1L953.9,502.5L954.9,501.4L955.8,501.5L956.7,501.7L957.7,503.4L958.6,500.7L959.5,501.2L960.5,503.5L961.4,501.6L962.3,500.9L963.3,500.8L964.2,503.0L965.2,502.1L966.1,504.8L967.0,504.4L968.0,504.9L968.9,502.1L969.8,501.4L970.8,501.5L971.7,503.2L972.6,504.1L973.6,503.1L974.5,502.3L975.4,503.0L976.4,503.9L977.3,504.2L978.2,504.5L979.2,504.9L980.1,504.2L981.0,502.1L982.0,505.0L982.9,502.9L983.8,504.0L984.8,503.3L985.7,504.7L986.6,502.6L987.6,502.8L988.5,502.9L989.4,502.5L990.4,505.5L991.3,504.3L992.2,503.3L993.2,503.6L994.1,506.0L995.0,504.1L996.0,503.0L996.9,505.3L997.8,504.7L998.8,506.1L999.7,502.5L1000.6,504.0L1001.6,505.4L1002.5,505.5L1003.4,505.8L1004.4,502.3L1005.3,503.3L1006.2,502.6L1007.2,502.9L1008.1,506.0L1009.0,504.4L1010.0,505.8L1010.9,503.6L1011.8,505.5L1012.8,503.8L1013.7,503.1L1014.6,505.1L1015.6,505.7L1016.5,502.4L1017.4,504.3L1018.4,504.3L1019.3,502.7L1020.2,503.3L1021.2,502.3L1022.1,502.5L1023.0,502.7L1024.0,504.0L1024.9,504.1L1025.8,502.3L1026.8,501.4L1027.7,502.6L1028.6,503.9L1029.6,501.9L1030.5,502.3L1031.4,501.8L1032.4,504.0L1033.3,502.9L1034.2,500.8L1035.2,500.9L1036.1,501.9L1037.0,502.3L1038.0,502.5L1038.9,500.1L1039.8,500.1L1040.8,502.0L1041.7,500.6L1042.6,499.7L1043.6,499.5L1044.5,501.6L1045.4,498.6L1046.4,499.0L1047.3,497.5L1048.2,497.0L1049.2,497.9L1050.1,497.5L1051.0,493.8L1052.0,491.9L1052.9,492.6L1053.8,488.9L1054.8,486.3L1055.7,488.0L1056.6,484.0L1057.6,483.3L1058.5,479.4L1059.4,478.9L1060.4,474.9L1061.3,471.6L1062.2,469.1L1063.2,469.9L1064.1,469.4L1065.0,470.2L1066.0,467.3L1066.9,470.5L1067.8,471.0L1068.8,473.5L1069.7,474.3L1070.6,477.1L1071.6,480.4L1072.5,484.2L1073.4,483.1L1074.4,486.7L1075.3,489.8L1076.2,492.1L1077.2,490.5L1078.1,491.6L1079.0,496.0L1080.0,497.2L1080.9,496.1L1081.9,495.2L1082.8,499.4L1083.7,497.8L1084.7,500.4L1085.6,499.7L1086.5,500.9L1087.5,498.5L1088.4,501.3L1089.3,499.3L1090.3,500.2L1091.2,502.1L1092.1,502.2L1093.1,499.7L1094.0,500.0L1094.9,500.8L1095.9,501.3L1096.8,500.9L1097.7,499.8L1098.7,500.4L1099.6,502.3L1100.5,503.0L1101.5,499.5L1102.4,501.6L1103.3,502.3L1104.3,499.3L1105.2,502.5L1106.1,499.5L1107.1,501.2L1108.0,500.9L1108.9,501.0L1109.9,499.4L1110.8,499.6L1111.7,499.8L1112.7,498.7L1113.6,499.1L1114.5,497.6L1115.5,496.8L1116.4,494.2L1117.3,495.6L1118.3,493.9L1119.2,491.5L1120.1,492.2L1121.1,490.6L1122.0,487.6L1122.9,484.8L1123.9,484.4L1124.8,481.5L1125.7,480.5L1126.7,481.2L1127.6,479.8L1128.5,481.8L1129.5,483.1L1130.4,482.7L1131.3,486.7L1132.3,486.2L1133.2,490.5L1134.1,492.3L1135.1,492.7L1136.0,492.2L1136.9,495.2L1137.9,495.7L1138.8,498.9" fill="none" stroke="#e6141e" stroke-width="5.2" stroke-linejoin="round" stroke-linecap="round"/>
<line x1="738.0" y1="155.0" x2="836.0" y2="155.0" stroke="#e6141e" stroke-width="4.5"/>
<line x1="738.0" y1="208.5" x2="836.0" y2="208.5" stroke="#1a1a1a" stroke-width="3.8"/>
<text x="855.5" y="167.0" font-size="43" text-anchor="start" fill="#1a1a1a" stroke="#1a1a1a" stroke-width="0.6">NiO/CMK-3</text>
<text x="855.5" y="221.0" font-size="43" text-anchor="start" fill="#1a1a1a" stroke="#1a1a1a" stroke-width="0.6">NiO cluster</text>
<text x="275.0" y="131.0" font-size="55.5" text-anchor="start" fill="#1a1a1a" stroke="#1a1a1a" stroke-width="0.6">(a)</text>
<text x="277.0" y="380.0" font-size="43.5" text-anchor="middle" fill="#1a1a1a" stroke="#1a1a1a" stroke-width="0.6" transform="rotate(-90 277 380)">(002)</text>
<text x="411.0" y="264.0" font-size="43.5" text-anchor="middle" fill="#1a1a1a" stroke="#1a1a1a" stroke-width="0.6" transform="rotate(-90 411 264)">(111)</text>
<text x="598.0" y="170.0" font-size="43.5" text-anchor="middle" fill="#1a1a1a" stroke="#1a1a1a" stroke-width="0.6" transform="rotate(-90 598 170)">(200)</text>
<text x="812.0" y="358.0" font-size="43.5" text-anchor="middle" fill="#1a1a1a" stroke="#1a1a1a" stroke-width="0.6" transform="rotate(-90 812 358)">(220)</text>
<text x="1044.0" y="379.0" font-size="43.5" text-anchor="middle" fill="#1a1a1a" stroke="#1a1a1a" stroke-width="0.6" transform="rotate(-90 1044 379)">(311)</text>
<text x="1116.0" y="379.0" font-size="43.5" text-anchor="middle" fill="#1a1a1a" stroke="#1a1a1a" stroke-width="0.6" transform="rotate(-90 1116 379)">(222)</text>
<rect x="1483" y="46" width="935" height="688" fill="none" stroke="#4e4e4e" stroke-width="4"/>
<line x1="1507.8" y1="734.0" x2="1507.8" y2="728.0" stroke="#4e4e4e" stroke-width="3"/>
<line x1="1568.4" y1="734.0" x2="1568.4" y2="722.0" stroke="#4e4e4e" stroke-width="3"/>
<line x1="1629.0" y1="734.0" x2="1629.0" y2="728.0" stroke="#4e4e4e" stroke-width="3"/>
<line x1="1689.7" y1="734.0" x2="1689.7" y2="722.0" stroke="#4e4e4e" stroke-width="3"/>
<line x1="1750.3" y1="734.0" x2="1750.3" y2="728.0" stroke="#4e4e4e" stroke-width="3"/>
<line x1="1811.0" y1="734.0" x2="1811.0" y2="722.0" stroke="#4e4e4e" stroke-width="3"/>
<line x1="1871.6" y1="734.0" x2="1871.6" y2="728.0" stroke="#4e4e4e" stroke-width="3"/>
<line x1="1932.3" y1="734.0" x2="1932.3" y2="722.0" stroke="#4e4e4e" stroke-width="3"/>
<line x1="1992.9" y1="734.0" x2="1992.9" y2="728.0" stroke="#4e4e4e" stroke-width="3"/>
<line x1="2053.6" y1="734.0" x2="2053.6" y2="722.0" stroke="#4e4e4e" stroke-width="3"/>
<line x1="2114.2" y1="734.0" x2="2114.2" y2="728.0" stroke="#4e4e4e" stroke-width="3"/>
<line x1="2174.9" y1="734.0" x2="2174.9" y2="722.0" stroke="#4e4e4e" stroke-width="3"/>
<line x1="2235.6" y1="734.0" x2="2235.6" y2="728.0" stroke="#4e4e4e" stroke-width="3"/>
<line x1="2296.2" y1="734.0" x2="2296.2" y2="722.0" stroke="#4e4e4e" stroke-width="3"/>
<line x1="2356.8" y1="734.0" x2="2356.8" y2="728.0" stroke="#4e4e4e" stroke-width="3"/>
<line x1="1483.0" y1="676.6" x2="1489.0" y2="676.6" stroke="#4e4e4e" stroke-width="3"/>
<line x1="1483.0" y1="619.3" x2="1495.0" y2="619.3" stroke="#4e4e4e" stroke-width="3"/>
<line x1="1483.0" y1="562.0" x2="1489.0" y2="562.0" stroke="#4e4e4e" stroke-width="3"/>
<line x1="1483.0" y1="504.7" x2="1495.0" y2="504.7" stroke="#4e4e4e" stroke-width="3"/>
<line x1="1483.0" y1="447.3" x2="1489.0" y2="447.3" stroke="#4e4e4e" stroke-width="3"/>
<line x1="1483.0" y1="390.0" x2="1495.0" y2="390.0" stroke="#4e4e4e" stroke-width="3"/>
<line x1="1483.0" y1="332.7" x2="1489.0" y2="332.7" stroke="#4e4e4e" stroke-width="3"/>
<line x1="1483.0" y1="275.4" x2="1495.0" y2="275.4" stroke="#4e4e4e" stroke-width="3"/>
<line x1="1483.0" y1="218.0" x2="1489.0" y2="218.0" stroke="#4e4e4e" stroke-width="3"/>
<line x1="1483.0" y1="160.7" x2="1495.0" y2="160.7" stroke="#4e4e4e" stroke-width="3"/>
<line x1="1483.0" y1="103.4" x2="1489.0" y2="103.4" stroke="#4e4e4e" stroke-width="3"/>
<text x="1568.4" y="783.0" font-size="42" text-anchor="middle" fill="#1a1a1a" stroke="#1a1a1a" stroke-width="0.6">100</text>
<text x="1689.7" y="783.0" font-size="42" text-anchor="middle" fill="#1a1a1a" stroke="#1a1a1a" stroke-width="0.6">200</text>
<text x="1811.0" y="783.0" font-size="42" text-anchor="middle" fill="#1a1a1a" stroke="#1a1a1a" stroke-width="0.6">300</text>
<text x="1932.3" y="783.0" font-size="42" text-anchor="middle" fill="#1a1a1a" stroke="#1a1a1a" stroke-width="0.6">400</text>
<text x="2053.6" y="783.0" font-size="42" text-anchor="middle" fill="#1a1a1a" stroke="#1a1a1a" stroke-width="0.6">500</text>
<text x="2174.9" y="783.0" font-size="42" text-anchor="middle" fill="#1a1a1a" stroke="#1a1a1a" stroke-width="0.6">600</text>
<text x="2296.2" y="783.0" font-size="42" text-anchor="middle" fill="#1a1a1a" stroke="#1a1a1a" stroke-width="0.6">700</text>
<text x="2417.5" y="783.0" font-size="42" text-anchor="middle" fill="#1a1a1a" stroke="#1a1a1a" stroke-width="0.6">800</text>
<text x="1466.0" y="747.9" font-size="42" text-anchor="end" fill="#1a1a1a" stroke="#1a1a1a" stroke-width="0.6">40</text>
<text x="1466.0" y="633.3" font-size="42" text-anchor="end" fill="#1a1a1a" stroke="#1a1a1a" stroke-width="0.6">50</text>
<text x="1466.0" y="518.7" font-size="42" text-anchor="end" fill="#1a1a1a" stroke="#1a1a1a" stroke-width="0.6">60</text>
<text x="1466.0" y="404.0" font-size="42" text-anchor="end" fill="#1a1a1a" stroke="#1a1a1a" stroke-width="0.6">70</text>
<text x="1466.0" y="289.4" font-size="42" text-anchor="end" fill="#1a1a1a" stroke="#1a1a1a" stroke-width="0.6">80</text>
<text x="1466.0" y="174.7" font-size="42" text-anchor="end" fill="#1a1a1a" stroke="#1a1a1a" stroke-width="0.6">90</text>
<text x="1466.0" y="60.0" font-size="42" text-anchor="end" fill="#1a1a1a" stroke="#1a1a1a" stroke-width="0.6">100</text>
<text x="1780.0" y="851.5" font-size="43.8" text-anchor="start" fill="#1a1a1a" stroke="#1a1a1a" stroke-width="0.6">Temperature</text>
<text x="2039.0" y="853.0" font-size="40" text-anchor="start" fill="#555555" stroke="#555555" stroke-width="0.6" font-weight="300">(</text>
<text x="2055.0" y="851.0" font-size="35" text-anchor="start" fill="#3a3a3a" stroke="#3a3a3a" stroke-width="0.6" style="font-family:"Liberation Sans", "Noto Sans CJK SC", sans-serif">℃</text>
<text x="2097.0" y="853.0" font-size="40" text-anchor="start" fill="#555555" stroke="#555555" stroke-width="0.6" font-weight="300">)</text>
<text x="1378.0" y="375.5" font-size="43" text-anchor="middle" fill="#1a1a1a" stroke="#1a1a1a" stroke-width="0.6" transform="rotate(-90 1378 375.5)">Weight (%)</text>
<text x="2304.0" y="136.0" font-size="56" text-anchor="start" fill="#1a1a1a" stroke="#1a1a1a" stroke-width="0.6">(b)</text>
<line x1="1600.0" y1="439.0" x2="1696.0" y2="439.0" stroke="#e6141e" stroke-width="7"/>
<text x="1714.5" y="452.0" font-size="43.5" text-anchor="start" fill="#1a1a1a" stroke="#1a1a1a" stroke-width="0.6">NiO/CMK-3</text>
<path d="M1483.4,47.5L1483.9,47.8L1484.4,48.2L1484.9,48.5L1485.4,48.9L1485.9,49.3L1486.4,49.6L1486.9,50.0L1487.4,50.3L1487.9,50.7L1488.4,51.1L1488.9,51.5L1489.4,51.8L1489.9,52.2L1490.4,52.6L1490.9,52.9L1491.4,53.3L1491.9,53.7L1492.4,54.0L1492.9,54.4L1493.4,54.8L1493.9,55.1L1494.4,55.5L1494.9,55.8L1495.4,56.2L1495.9,56.5L1496.4,56.9L1496.9,57.2L1497.4,57.5L1497.9,57.9L1498.4,58.2L1498.9,58.5L1499.4,58.8L1499.9,59.1L1500.4,59.4L1500.9,59.7L1501.4,60.0L1501.9,60.2L1502.4,60.5L1502.9,60.8L1503.4,61.0L1503.9,61.3L1504.4,61.5L1504.9,61.8L1505.4,62.0L1505.9,62.3L1506.4,62.5L1506.9,62.7L1507.4,63.0L1507.9,63.2L1508.4,63.5L1508.9,63.7L1509.4,64.0L1509.9,64.2L1510.4,64.4L1510.9,64.6L1511.4,64.9L1511.9,65.1L1512.4,65.3L1512.9,65.5L1513.4,65.8L1513.9,66.0L1514.4,66.2L1514.9,66.4L1515.4,66.6L1515.9,66.8L1516.4,67.0L1516.9,67.2L1517.4,67.3L1517.9,67.5L1518.4,67.7L1518.9,67.9L1519.4,68.0L1519.9,68.2L1520.4,68.4L1520.9,68.5L1521.4,68.7L1521.9,68.8L1522.4,68.9L1522.9,69.1L1523.4,69.2L1523.9,69.3L1524.4,69.4L1524.9,69.5L1525.4,69.6L1525.9,69.7L1526.4,69.8L1526.9,69.9L1527.4,70.0L1527.9,70.1L1528.4,70.2L1528.9,70.3L1529.4,70.3L1529.9,70.4L1530.4,70.5L1530.9,70.6L1531.4,70.7L1531.9,70.7L1532.4,70.8L1532.9,70.9L1533.4,71.0L1533.9,71.0L1534.4,71.1L1534.9,71.2L1535.4,71.2L1535.9,71.3L1536.4,71.4L1536.9,71.4L1537.4,71.5L1537.9,71.6L1538.4,71.6L1538.9,71.7L1539.4,71.7L1539.9,71.8L1540.4,71.9L1540.9,71.9L1541.4,72.0L1541.9,72.0L1542.4,72.1L1542.9,72.1L1543.4,72.2L1543.9,72.2L1544.4,72.3L1544.9,72.3L1545.4,72.4L1545.9,72.4L1546.4,72.5L1546.9,72.5L1547.4,72.6L1547.9,72.6L1548.4,72.7L1548.9,72.7L1549.4,72.7L1549.9,72.8L1550.4,72.8L1550.9,72.9L1551.4,72.9L1551.9,73.0L1552.4,73.0L1552.9,73.0L1553.4,73.1L1553.9,73.1L1554.4,73.2L1554.9,73.2L1555.4,73.2L1555.9,73.3L1556.4,73.3L1556.9,73.4L1557.4,73.4L1557.9,73.4L1558.4,73.5L1558.9,73.5L1559.4,73.6L1559.9,73.6L1560.4,73.6L1560.9,73.7L1561.4,73.7L1561.9,73.8L1562.4,73.8L1562.9,73.8L1563.4,73.9L1563.9,73.9L1564.4,74.0L1564.9,74.0L1565.4,74.0L1565.9,74.1L1566.4,74.1L1566.9,74.1L1567.4,74.2L1567.9,74.2L1568.4,74.3L1568.9,74.3L1569.4,74.3L1569.9,74.4L1570.4,74.4L1570.9,74.4L1571.4,74.5L1571.9,74.5L1572.4,74.5L1572.9,74.6L1573.4,74.6L1573.9,74.6L1574.4,74.7L1574.9,74.7L1575.4,74.7L1575.9,74.7L1576.4,74.8L1576.9,74.8L1577.4,74.8L1577.9,74.9L1578.4,74.9L1578.9,74.9L1579.4,74.9L1579.9,75.0L1580.4,75.0L1580.9,75.0L1581.4,75.0L1581.9,75.0L1582.4,75.1L1582.9,75.1L1583.4,75.1L1583.9,75.1L1584.4,75.1L1584.9,75.2L1585.4,75.2L1585.9,75.2L1586.4,75.2L1586.9,75.2L1587.4,75.2L1587.9,75.2L1588.4,75.3L1588.9,75.3L1589.4,75.3L1589.9,75.3L1590.4,75.3L1590.9,75.3L1591.4,75.3L1591.9,75.3L1592.4,75.3L1592.9,75.3L1593.4,75.3L1593.9,75.3L1594.4,75.3L1594.9,75.3L1595.4,75.3L1595.9,75.3L1596.4,75.3L1596.9,75.3L1597.4,75.3L1597.9,75.3L1598.4,75.3L1598.9,75.3L1599.4,75.3L1599.9,75.3L1600.4,75.3L1600.9,75.3L1601.4,75.3L1601.9,75.3L1602.4,75.3L1602.9,75.3L1603.4,75.3L1603.9,75.3L1604.4,75.3L1604.9,75.3L1605.4,75.3L1605.9,75.3L1606.4,75.3L1606.9,75.3L1607.4,75.3L1607.9,75.3L1608.4,75.3L1608.9,75.3L1609.4,75.3L1609.9,75.3L1610.4,75.3L1610.9,75.3L1611.4,75.3L1611.9,75.3L1612.4,75.3L1612.9,75.3L1613.4,75.3L1613.9,75.3L1614.4,75.3L1614.9,75.3L1615.4,75.3L1615.9,75.3L1616.4,75.3L1616.9,75.3L1617.4,75.3L1617.9,75.3L1618.4,75.3L1618.9,75.3L1619.4,75.3L1619.9,75.3L1620.4,75.3L1620.9,75.3L1621.4,75.3L1621.9,75.3L1622.4,75.3L1622.9,75.3L1623.4,75.3L1623.9,75.3L1624.4,75.3L1624.9,75.3L1625.4,75.3L1625.9,75.3L1626.4,75.3L1626.9,75.3L1627.4,75.3L1627.9,75.3L1628.4,75.3L1628.9,75.3L1629.4,75.3L1629.9,75.3L1630.4,75.3L1630.9,75.3L1631.4,75.3L1631.9,75.3L1632.4,75.3L1632.9,75.3L1633.4,75.3L1633.9,75.3L1634.4,75.3L1634.9,75.3L1635.4,75.3L1635.9,75.3L1636.4,75.3L1636.9,75.3L1637.4,75.3L1637.9,75.3L1638.4,75.3L1638.9,75.3L1639.4,75.3L1639.9,75.3L1640.4,75.3L1640.9,75.3L1641.4,75.3L1641.9,75.3L1642.4,75.3L1642.9,75.3L1643.4,75.3L1643.9,75.3L1644.4,75.3L1644.9,75.3L1645.4,75.3L1645.9,75.3L1646.4,75.3L1646.9,75.3L1647.4,75.3L1647.9,75.3L1648.4,75.3L1648.9,75.3L1649.4,75.3L1649.9,75.3L1650.4,75.3L1650.9,75.3L1651.4,75.3L1651.9,75.3L1652.4,75.3L1652.9,75.3L1653.4,75.3L1653.9,75.3L1654.4,75.3L1654.9,75.3L1655.4,75.3L1655.9,75.3L1656.4,75.3L1656.9,75.3L1657.4,75.3L1657.9,75.3L1658.4,75.3L1658.9,75.3L1659.4,75.3L1659.9,75.3L1660.4,75.3L1660.9,75.3L1661.4,75.3L1661.9,75.3L1662.4,75.3L1662.9,75.3L1663.4,75.3L1663.9,75.3L1664.4,75.3L1664.9,75.3L1665.4,75.3L1665.9,75.3L1666.4,75.3L1666.9,75.3L1667.4,75.2L1667.9,75.2L1668.4,75.2L1668.9,75.2L1669.4,75.2L1669.9,75.2L1670.4,75.2L1670.9,75.2L1671.4,75.2L1671.9,75.1L1672.4,75.1L1672.9,75.1L1673.4,75.1L1673.9,75.1L1674.4,75.1L1674.9,75.0L1675.4,75.0L1675.9,75.0L1676.4,75.0L1676.9,75.0L1677.4,75.0L1677.9,74.9L1678.4,74.9L1678.9,74.9L1679.4,74.9L1679.9,74.8L1680.4,74.8L1680.9,74.8L1681.4,74.8L1681.9,74.8L1682.4,74.7L1682.9,74.7L1683.4,74.7L1683.9,74.7L1684.4,74.6L1684.9,74.6L1685.4,74.6L1685.9,74.6L1686.4,74.5L1686.9,74.5L1687.4,74.5L1687.9,74.5L1688.4,74.4L1688.9,74.4L1689.4,74.4L1689.9,74.4L1690.4,74.3L1690.9,74.3L1691.4,74.3L1691.9,74.3L1692.4,74.2L1692.9,74.2L1693.4,74.2L1693.9,74.2L1694.4,74.1L1694.9,74.1L1695.4,74.1L1695.9,74.0L1696.4,74.0L1696.9,74.0L1697.4,74.0L1697.9,73.9L1698.4,73.9L1698.9,73.9L1699.4,73.9L1699.9,73.8L1700.4,73.8L1700.9,73.8L1701.4,73.8L1701.9,73.7L1702.4,73.7L1702.9,73.7L1703.4,73.7L1703.9,73.6L1704.4,73.6L1704.9,73.6L1705.4,73.6L1705.9,73.5L1706.4,73.5L1706.9,73.5L1707.4,73.5L1707.9,73.4L1708.4,73.4L1708.9,73.4L1709.4,73.4L1709.9,73.3L1710.4,73.3L1710.9,73.3L1711.4,73.3L1711.9,73.2L1712.4,73.2L1712.9,73.2L1713.4,73.1L1713.9,73.1L1714.4,73.1L1714.9,73.1L1715.4,73.0L1715.9,73.0L1716.4,73.0L1716.9,72.9L1717.4,72.9L1717.9,72.9L1718.4,72.9L1718.9,72.8L1719.4,72.8L1719.9,72.8L1720.4,72.7L1720.9,72.7L1721.4,72.7L1721.9,72.6L1722.4,72.6L1722.9,72.6L1723.4,72.6L1723.9,72.5L1724.4,72.5L1724.9,72.5L1725.4,72.4L1725.9,72.4L1726.4,72.4L1726.9,72.3L1727.4,72.3L1727.9,72.3L1728.4,72.2L1728.9,72.2L1729.4,72.2L1729.9,72.1L1730.4,72.1L1730.9,72.1L1731.4,72.0L1731.9,72.0L1732.4,72.0L1732.9,71.9L1733.4,71.9L1733.9,71.9L1734.4,71.9L1734.9,71.8L1735.4,71.8L1735.9,71.8L1736.4,71.7L1736.9,71.7L1737.4,71.7L1737.9,71.6L1738.4,71.6L1738.9,71.6L1739.4,71.5L1739.9,71.5L1740.4,71.5L1740.9,71.4L1741.4,71.4L1741.9,71.4L1742.4,71.3L1742.9,71.3L1743.4,71.3L1743.9,71.3L1744.4,71.2L1744.9,71.2L1745.4,71.2L1745.9,71.1L1746.4,71.1L1746.9,71.1L1747.4,71.0L1747.9,71.0L1748.4,71.0L1748.9,71.0L1749.4,70.9L1749.9,70.9L1750.4,70.9L1750.9,70.8L1751.4,70.8L1751.9,70.8L1752.4,70.8L1752.9,70.7L1753.4,70.7L1753.9,70.7L1754.4,70.7L1754.9,70.6L1755.4,70.6L1755.9,70.6L1756.4,70.5L1756.9,70.5L1757.4,70.5L1757.9,70.5L1758.4,70.4L1758.9,70.4L1759.4,70.4L1759.9,70.4L1760.4,70.3L1760.9,70.3L1761.4,70.3L1761.9,70.3L1762.4,70.2L1762.9,70.2L1763.4,70.2L1763.9,70.2L1764.4,70.1L1764.9,70.1L1765.4,70.1L1765.9,70.1L1766.4,70.0L1766.9,70.0L1767.4,70.0L1767.9,70.0L1768.4,69.9L1768.9,69.9L1769.4,69.9L1769.9,69.9L1770.4,69.8L1770.9,69.8L1771.4,69.8L1771.9,69.8L1772.4,69.7L1772.9,69.7L1773.4,69.7L1773.9,69.7L1774.4,69.6L1774.9,69.6L1775.4,69.6L1775.9,69.6L1776.4,69.5L1776.9,69.5L1777.4,69.5L1777.9,69.5L1778.4,69.4L1778.9,69.4L1779.4,69.4L1779.9,69.4L1780.4,69.3L1780.9,69.3L1781.4,69.3L1781.9,69.3L1782.4,69.2L1782.9,69.2L1783.4,69.2L1783.9,69.2L1784.4,69.1L1784.9,69.1L1785.4,69.1L1785.9,69.1L1786.4,69.0L1786.9,69.0L1787.4,69.0L1787.9,69.0L1788.4,68.9L1788.9,68.9L1789.4,68.9L1789.9,68.9L1790.4,68.8L1790.9,68.8L1791.4,68.8L1791.9,68.8L1792.4,68.7L1792.9,68.7L1793.4,68.7L1793.9,68.7L1794.4,68.6L1794.9,68.6L1795.4,68.6L1795.9,68.6L1796.4,68.5L1796.9,68.5L1797.4,68.5L1797.9,68.5L1798.4,68.4L1798.9,68.4L1799.4,68.4L1799.9,68.3L1800.4,68.3L1800.9,68.3L1801.4,68.3L1801.9,68.2L1802.4,68.2L1802.9,68.2L1803.4,68.1L1803.9,68.1L1804.4,68.1L1804.9,68.0L1805.4,68.0L1805.9,68.0L1806.4,67.9L1806.9,67.9L1807.4,67.9L1807.9,67.8L1808.4,67.8L1808.9,67.8L1809.4,67.7L1809.9,67.7L1810.4,67.7L1810.9,67.6L1811.4,67.6L1811.9,67.6L1812.4,67.5L1812.9,67.5L1813.4,67.5L1813.9,67.4L1814.4,67.4L1814.9,67.4L1815.4,67.3L1815.9,67.3L1816.4,67.3L1816.9,67.2L1817.4,67.2L1817.9,67.2L1818.4,67.1L1818.9,67.1L1819.4,67.1L1819.9,67.1L1820.4,67.0L1820.9,67.0L1821.4,67.0L1821.9,66.9L1822.4,66.9L1822.9,66.9L1823.4,66.8L1823.9,66.8L1824.4,66.8L1824.9,66.8L1825.4,66.7L1825.9,66.7L1826.4,66.7L1826.9,66.6L1827.4,66.6L1827.9,66.6L1828.4,66.6L1828.9,66.5L1829.4,66.5L1829.9,66.5L1830.4,66.5L1830.9,66.5L1831.4,66.4L1831.9,66.4L1832.4,66.4L1832.9,66.4L1833.4,66.4L1833.9,66.3L1834.4,66.3L1834.9,66.3L1835.4,66.3L1835.9,66.3L1836.4,66.3L1836.9,66.3L1837.4,66.3L1837.9,66.2L1838.4,66.2L1838.9,66.2L1839.4,66.2L1839.9,66.2L1840.4,66.2L1840.9,66.2L1841.4,66.2L1841.9,66.2L1842.4,66.2L1842.9,66.2L1843.4,66.2L1843.9,66.2L1844.4,66.2L1844.9,66.2L1845.4,66.2L1845.9,66.2L1846.4,66.2L1846.9,66.2L1847.4,66.2L1847.9,66.2L1848.4,66.2L1848.9,66.3L1849.4,66.3L1849.9,66.3L1850.4,66.3L1850.9,66.3L1851.4,66.3L1851.9,66.3L1852.4,66.3L1852.9,66.3L1853.4,66.4L1853.9,66.4L1854.4,66.4L1854.9,66.4L1855.4,66.4L1855.9,66.4L1856.4,66.4L1856.9,66.5L1857.4,66.5L1857.9,66.5L1858.4,66.5L1858.9,66.5L1859.4,66.6L1859.9,66.6L1860.4,66.6L1860.9,66.6L1861.4,66.7L1861.9,66.7L1862.4,66.7L1862.9,66.7L1863.4,66.7L1863.9,66.8L1864.4,66.8L1864.9,66.8L1865.4,66.9L1865.9,66.9L1866.4,66.9L1866.9,66.9L1867.4,67.0L1867.9,67.0L1868.4,67.0L1868.9,67.1L1869.4,67.1L1869.9,67.1L1870.4,67.2L1870.9,67.2L1871.4,67.2L1871.9,67.2L1872.4,67.3L1872.9,67.3L1873.4,67.4L1873.9,67.4L1874.4,67.4L1874.9,67.5L1875.4,67.5L1875.9,67.6L1876.4,67.7L1876.9,67.8L1877.4,67.9L1877.9,68.0L1878.4,68.1L1878.9,68.2L1879.4,68.3L1879.9,68.5L1880.4,68.6L1880.9,68.8L1881.4,68.9L1881.9,69.1L1882.4,69.3L1882.9,69.5L1883.4,69.7L1883.9,69.8L1884.4,70.0L1884.9,70.3L1885.4,70.5L1885.9,70.7L1886.4,70.9L1886.9,71.1L1887.4,71.4L1887.9,71.6L1888.4,71.9L1888.9,72.1L1889.4,72.4L1889.9,72.6L1890.4,72.9L1890.9,73.1L1891.4,73.4L1891.9,73.7L1892.4,73.9L1892.9,74.2L1893.4,74.5L1893.9,74.8L1894.4,75.0L1894.9,75.3L1895.4,75.6L1895.9,75.9L1896.4,76.2L1896.9,76.4L1897.4,76.7L1897.9,77.0L1898.4,77.3L1898.9,77.6L1899.4,77.9L1899.9,78.2L1900.4,78.5L1900.9,78.8L1901.4,79.1L1901.9,79.4L1902.4,79.8L1902.9,80.1L1903.4,80.5L1903.9,80.8L1904.4,81.2L1904.9,81.6L1905.4,82.0L1905.9,82.4L1906.4,82.8L1906.9,83.2L1907.4,83.6L1907.9,84.1L1908.4,84.5L1908.9,84.9L1909.4,85.4L1909.9,85.8L1910.4,86.3L1910.9,86.8L1911.4,87.2L1911.9,87.7L1912.4,88.2L1912.9,88.7L1913.4,89.2L1913.9,89.7L1914.4,90.2L1914.9,90.7L1915.4,91.2L1915.9,91.7L1916.4,92.3L1916.9,92.8L1917.4,93.3L1917.9,93.9L1918.4,94.4L1918.9,94.9L1919.4,95.5L1919.9,96.0L1920.4,96.6L1920.9,97.2L1921.4,97.7L1921.9,98.3L1922.4,98.9L1922.9,99.4L1923.4,100.0L1923.9,100.6L1924.4,101.3L1924.9,101.9L1925.4,102.5L1925.9,103.2L1926.4,103.8L1926.9,104.5L1927.4,105.1L1927.9,105.8L1928.4,106.5L1928.9,107.2L1929.4,107.9L1929.9,108.6L1930.4,109.4L1930.9,110.1L1931.4,110.8L1931.9,111.6L1932.4,112.3L1932.9,113.1L1933.4,113.9L1933.9,114.6L1934.4,115.4L1934.9,116.2L1935.4,117.0L1935.9,117.8L1936.4,118.6L1936.9,119.4L1937.4,120.3L1937.9,121.1L1938.4,121.9L1938.9,122.8L1939.4,123.6L1939.9,124.4L1940.4,125.3L1940.9,126.1L1941.4,127.0L1941.9,127.9L1942.4,128.7L1942.9,129.6L1943.4,130.5L1943.9,131.4L1944.4,132.3L1944.9,133.2L1945.4,134.0L1945.9,134.9L1946.4,135.8L1946.9,136.7L1947.4,137.7L1947.9,138.6L1948.4,139.5L1948.9,140.4L1949.4,141.4L1949.9,142.3L1950.5,143.3L1951.0,144.3L1951.5,145.2L1952.0,146.2L1952.5,147.2L1953.0,148.2L1953.5,149.3L1954.0,150.3L1954.5,151.4L1955.0,152.4L1955.5,153.5L1956.0,154.6L1956.5,155.7L1957.0,156.9L1957.5,158.0L1958.0,159.2L1958.5,160.3L1959.0,161.6L1959.5,162.8L1960.0,164.0L1960.5,165.3L1961.0,166.6L1961.5,167.9L1962.0,169.2L1962.5,170.5L1963.0,171.9L1963.5,173.4L1964.0,174.9L1964.5,176.5L1965.0,178.2L1965.5,179.9L1966.0,181.6L1966.5,183.4L1967.0,185.2L1967.5,187.0L1968.0,188.9L1968.5,190.8L1969.0,192.7L1969.5,194.6L1970.0,196.5L1970.5,198.5L1971.0,200.4L1971.5,202.3L1972.0,204.2L1972.5,206.2L1973.0,208.0L1973.5,209.9L1974.0,211.8L1974.5,213.6L1975.0,215.4L1975.5,217.2L1976.0,219.1L1976.5,220.9L1977.0,222.7L1977.5,224.6L1978.0,226.4L1978.5,228.3L1979.0,230.1L1979.5,232.0L1980.0,233.9L1980.5,235.8L1981.0,237.8L1981.5,239.8L1982.0,241.8L1982.5,243.8L1983.0,245.8L1983.5,247.9L1984.0,250.0L1984.5,252.1L1985.0,254.3L1985.5,256.4L1986.0,258.6L1986.5,260.8L1987.0,263.0L1987.5,265.3L1988.0,267.6L1988.5,269.9L1989.0,272.2L1989.5,274.5L1990.0,276.9L1990.5,279.3L1991.0,281.7L1991.5,284.2L1992.0,286.7L1992.5,289.2L1993.0,291.7L1993.5,294.2L1994.0,296.8L1994.5,299.4L1995.0,302.1L1995.5,304.7L1996.0,307.5L1996.5,310.2L1997.0,313.1L1997.5,316.0L1998.0,318.9L1998.5,322.0L1999.0,325.1L1999.5,328.3L2000.0,331.5L2000.5,334.9L2001.0,338.4L2001.5,342.0L2002.0,345.7L2002.5,349.5L2003.0,353.4L2003.5,357.4L2004.0,361.5L2004.5,365.7L2005.0,370.0L2005.5,374.5L2006.0,379.3L2006.5,384.2L2007.0,389.3L2007.5,394.5L2008.0,399.6L2008.5,404.8L2009.0,409.9L2009.5,415.1L2010.0,420.7L2010.5,426.3L2011.0,431.9L2011.5,437.3L2012.0,442.3L2012.5,446.7L2013.0,450.4L2013.5,453.6L2014.0,456.6L2014.5,459.5L2015.0,462.1L2015.5,464.6L2016.0,466.9L2016.5,469.1L2017.0,471.3L2017.5,473.4L2018.0,475.4L2018.5,477.4L2019.0,479.4L2019.5,481.3L2020.0,483.1L2020.5,484.8L2021.0,486.5L2021.5,488.1L2022.0,489.7L2022.5,491.2L2023.0,492.8L2023.5,494.3L2024.0,495.9L2024.5,497.5L2025.0,499.1L2025.5,500.7L2026.0,502.5L2026.5,504.2L2027.0,506.1L2027.5,508.0L2028.0,510.0L2028.5,512.0L2029.0,514.1L2029.5,516.1L2030.0,518.2L2030.5,520.3L2031.0,522.4L2031.5,524.4L2032.0,526.4L2032.5,528.3L2033.0,530.2L2033.5,532.1L2034.0,533.8L2034.5,535.6L2035.0,537.2L2035.5,538.9L2036.0,540.5L2036.5,542.1L2037.0,543.7L2037.5,545.3L2038.0,546.8L2038.5,548.4L2039.0,550.0L2039.5,551.7L2040.0,553.3L2040.5,555.0L2041.0,556.8L2041.5,558.6L2042.0,560.4L2042.5,562.3L2043.0,564.3L2043.5,566.3L2044.0,568.3L2044.5,570.3L2045.0,572.4L2045.5,574.5L2046.0,576.6L2046.5,578.7L2047.0,580.7L2047.5,582.8L2048.0,584.8L2048.5,586.9L2049.0,588.9L2049.5,591.0L2050.0,593.1L2050.5,595.2L2051.0,597.3L2051.5,599.4L2052.0,601.4L2052.5,603.5L2053.0,605.5L2053.5,607.4L2054.0,609.3L2054.5,611.1L2055.0,612.9L2055.5,614.6L2056.0,616.3L2056.5,618.0L2057.0,619.7L2057.5,621.4L2058.0,622.9L2058.5,624.4L2059.0,625.8L2059.5,627.1L2060.0,628.3L2060.5,629.2L2061.0,630.1L2061.5,630.9L2062.0,631.8L2062.5,632.6L2063.0,633.3L2063.5,634.0L2064.0,634.7L2064.5,635.3L2065.0,635.9L2065.5,636.4L2066.0,636.8L2066.5,637.1L2067.0,637.3L2067.5,637.5L2068.0,637.6L2068.5,637.7L2069.0,637.9L2069.5,638.0L2070.0,638.1L2070.5,638.2L2071.0,638.3L2071.5,638.4L2072.0,638.4L2072.5,638.5L2073.0,638.6L2073.5,638.7L2074.0,638.7L2074.5,638.8L2075.0,638.9L2075.5,638.9L2076.0,639.0L2076.5,639.0L2077.0,639.1L2077.5,639.1L2078.0,639.1L2078.5,639.2L2079.0,639.2L2079.5,639.3L2080.0,639.3L2080.5,639.3L2081.0,639.4L2081.5,639.4L2082.0,639.4L2082.5,639.5L2083.0,639.5L2083.5,639.5L2084.0,639.6L2084.5,639.6L2085.0,639.6L2085.5,639.7L2086.0,639.7L2086.5,639.7L2087.0,639.7L2087.5,639.8L2088.0,639.8L2088.5,639.8L2089.0,639.8L2089.5,639.8L2090.0,639.9L2090.5,639.9L2091.0,639.9L2091.5,639.9L2092.0,640.0L2092.5,640.0L2093.0,640.0L2093.5,640.0L2094.0,640.0L2094.5,640.0L2095.0,640.1L2095.5,640.1L2096.0,640.1L2096.5,640.1L2097.0,640.1L2097.5,640.2L2098.0,640.2L2098.5,640.2L2099.0,640.2L2099.5,640.2L2100.0,640.3L2100.5,640.3L2101.0,640.3L2101.5,640.3L2102.0,640.3L2102.5,640.3L2103.0,640.4L2103.5,640.4L2104.0,640.4L2104.5,640.4L2105.0,640.4L2105.5,640.4L2106.0,640.5L2106.5,640.5L2107.0,640.5L2107.5,640.5L2108.0,640.5L2108.5,640.5L2109.0,640.6L2109.5,640.6L2110.0,640.6L2110.5,640.6L2111.0,640.6L2111.5,640.6L2112.0,640.7L2112.5,640.7L2113.0,640.7L2113.5,640.7L2114.0,640.7L2114.5,640.7L2115.0,640.8L2115.5,640.8L2116.0,640.8L2116.5,640.8L2117.0,640.8L2117.5,640.8L2118.0,640.9L2118.5,640.9L2119.0,640.9L2119.5,640.9L2120.0,640.9L2120.5,640.9L2121.0,640.9L2121.5,641.0L2122.0,641.0L2122.5,641.0L2123.0,641.0L2123.5,641.0L2124.0,641.0L2124.5,641.1L2125.0,641.1L2125.5,641.1L2126.0,641.1L2126.5,641.1L2127.0,641.1L2127.5,641.1L2128.0,641.2L2128.5,641.2L2129.0,641.2L2129.5,641.2L2130.0,641.2L2130.5,641.2L2131.0,641.2L2131.5,641.3L2132.0,641.3L2132.5,641.3L2133.0,641.3L2133.5,641.3L2134.0,641.3L2134.5,641.3L2135.0,641.3L2135.5,641.4L2136.0,641.4L2136.5,641.4L2137.0,641.4L2137.5,641.4L2138.0,641.4L2138.5,641.4L2139.0,641.5L2139.5,641.5L2140.0,641.5L2140.5,641.5L2141.0,641.5L2141.5,641.5L2142.0,641.5L2142.5,641.5L2143.0,641.6L2143.5,641.6L2144.0,641.6L2144.5,641.6L2145.0,641.6L2145.5,641.6L2146.0,641.6L2146.5,641.6L2147.0,641.7L2147.5,641.7L2148.0,641.7L2148.5,641.7L2149.0,641.7L2149.5,641.7L2150.0,641.7L2150.5,641.7L2151.0,641.8L2151.5,641.8L2152.0,641.8L2152.5,641.8L2153.0,641.8L2153.5,641.8L2154.0,641.8L2154.5,641.8L2155.0,641.9L2155.5,641.9L2156.0,641.9L2156.5,641.9L2157.0,641.9L2157.5,641.9L2158.0,641.9L2158.5,641.9L2159.0,641.9L2159.5,642.0L2160.0,642.0L2160.5,642.0L2161.0,642.0L2161.5,642.0L2162.0,642.0L2162.5,642.0L2163.0,642.0L2163.5,642.0L2164.0,642.1L2164.5,642.1L2165.0,642.1L2165.5,642.1L2166.0,642.1L2166.5,642.1L2167.0,642.1L2167.5,642.1L2168.0,642.1L2168.5,642.2L2169.0,642.2L2169.5,642.2L2170.0,642.2L2170.5,642.2L2171.0,642.2L2171.5,642.2L2172.0,642.2L2172.5,642.2L2173.0,642.3L2173.5,642.3L2174.0,642.3L2174.5,642.3L2175.0,642.3L2175.5,642.3L2176.0,642.3L2176.5,642.3L2177.0,642.3L2177.5,642.4L2178.0,642.4L2178.5,642.4L2179.0,642.4L2179.5,642.4L2180.0,642.4L2180.5,642.4L2181.0,642.4L2181.5,642.4L2182.0,642.4L2182.5,642.5L2183.0,642.5L2183.5,642.5L2184.0,642.5L2184.5,642.5L2185.0,642.5L2185.5,642.5L2186.0,642.5L2186.5,642.5L2187.0,642.6L2187.5,642.6L2188.0,642.6L2188.5,642.6L2189.0,642.6L2189.5,642.6L2190.0,642.6L2190.5,642.6L2191.0,642.6L2191.5,642.6L2192.0,642.7L2192.5,642.7L2193.0,642.7L2193.5,642.7L2194.0,642.7L2194.5,642.7L2195.0,642.7L2195.5,642.7L2196.0,642.7L2196.5,642.7L2197.0,642.8L2197.5,642.8L2198.0,642.8L2198.5,642.8L2199.0,642.8L2199.5,642.8L2200.0,642.8L2200.5,642.8L2201.0,642.8L2201.5,642.9L2202.0,642.9L2202.5,642.9L2203.0,642.9L2203.5,642.9L2204.0,642.9L2204.5,642.9L2205.0,642.9L2205.5,642.9L2206.0,642.9L2206.5,643.0L2207.0,643.0L2207.5,643.0L2208.0,643.0L2208.5,643.0L2209.0,643.0L2209.5,643.0L2210.0,643.0L2210.5,643.0L2211.0,643.0L2211.5,643.0L2212.0,643.1L2212.5,643.1L2213.0,643.1L2213.5,643.1L2214.0,643.1L2214.5,643.1L2215.0,643.1L2215.5,643.1L2216.0,643.1L2216.5,643.1L2217.0,643.2L2217.5,643.2L2218.0,643.2L2218.5,643.2L2219.0,643.2L2219.5,643.2L2220.0,643.2L2220.5,643.2L2221.0,643.2L2221.5,643.2L2222.0,643.3L2222.5,643.3L2223.0,643.3L2223.5,643.3L2224.0,643.3L2224.5,643.3L2225.0,643.3L2225.5,643.3L2226.0,643.3L2226.5,643.3L2227.0,643.3L2227.5,643.4L2228.0,643.4L2228.5,643.4L2229.0,643.4L2229.5,643.4L2230.0,643.4L2230.5,643.4L2231.0,643.4L2231.5,643.4L2232.0,643.4L2232.5,643.4L2233.0,643.5L2233.5,643.5L2234.0,643.5L2234.5,643.5L2235.0,643.5L2235.5,643.5L2236.0,643.5L2236.5,643.5L2237.0,643.5L2237.5,643.5L2238.0,643.5L2238.5,643.6L2239.0,643.6L2239.5,643.6L2240.0,643.6L2240.5,643.6L2241.0,643.6L2241.5,643.6L2242.0,643.6L2242.5,643.6L2243.0,643.6L2243.5,643.6L2244.0,643.6L2244.5,643.7L2245.0,643.7L2245.5,643.7L2246.0,643.7L2246.5,643.7L2247.0,643.7L2247.5,643.7L2248.0,643.7L2248.5,643.7L2249.0,643.7L2249.5,643.7L2250.0,643.8L2250.5,643.8L2251.0,643.8L2251.5,643.8L2252.0,643.8L2252.5,643.8L2253.0,643.8L2253.5,643.8L2254.0,643.8L2254.5,643.8L2255.0,643.8L2255.5,643.8L2256.0,643.9L2256.5,643.9L2257.0,643.9L2257.5,643.9L2258.0,643.9L2258.5,643.9L2259.0,643.9L2259.5,643.9L2260.0,643.9L2260.5,643.9L2261.0,643.9L2261.5,643.9L2262.0,644.0L2262.5,644.0L2263.0,644.0L2263.5,644.0L2264.0,644.0L2264.5,644.0L2265.0,644.0L2265.5,644.0L2266.0,644.0L2266.5,644.0L2267.0,644.0L2267.5,644.0L2268.0,644.1L2268.5,644.1L2269.0,644.1L2269.5,644.1L2270.0,644.1L2270.5,644.1L2271.0,644.1L2271.5,644.1L2272.0,644.1L2272.5,644.1L2273.0,644.1L2273.5,644.1L2274.0,644.1L2274.5,644.2L2275.0,644.2L2275.5,644.2L2276.0,644.2L2276.5,644.2L2277.0,644.2L2277.5,644.2L2278.0,644.2L2278.5,644.2L2279.0,644.2L2279.5,644.2L2280.0,644.2L2280.5,644.2L2281.0,644.3L2281.5,644.3L2282.0,644.3L2282.5,644.3L2283.0,644.3L2283.5,644.3L2284.0,644.3L2284.5,644.3L2285.0,644.3L2285.5,644.3L2286.0,644.3L2286.5,644.3L2287.0,644.4L2287.5,644.4L2288.0,644.4L2288.5,644.4L2289.0,644.4L2289.5,644.4L2290.0,644.4L2290.5,644.4L2291.0,644.4L2291.5,644.4L2292.0,644.4L2292.5,644.4L2293.0,644.4L2293.5,644.5L2294.0,644.5L2294.5,644.5L2295.0,644.5L2295.5,644.5L2296.0,644.5L2296.5,644.5L2297.0,644.5L2297.5,644.5L2298.0,644.5L2298.5,644.5L2299.0,644.5L2299.5,644.5L2300.0,644.6L2300.5,644.6L2301.0,644.6L2301.5,644.6L2302.0,644.6L2302.5,644.6L2303.0,644.6L2303.5,644.6L2304.0,644.6L2304.5,644.6L2305.0,644.6L2305.5,644.6L2306.0,644.6L2306.5,644.6L2307.0,644.7L2307.5,644.7L2308.0,644.7L2308.5,644.7L2309.0,644.7L2309.5,644.7L2310.0,644.7L2310.5,644.7L2311.0,644.7L2311.5,644.7L2312.0,644.7L2312.5,644.7L2313.0,644.7L2313.5,644.8L2314.0,644.8L2314.5,644.8L2315.0,644.8L2315.5,644.8L2316.0,644.8L2316.5,644.8L2317.0,644.8L2317.5,644.8L2318.0,644.8L2318.5,644.8L2319.0,644.8L2319.5,644.8L2320.0,644.8L2320.5,644.9L2321.0,644.9L2321.5,644.9L2322.0,644.9L2322.5,644.9L2323.0,644.9L2323.5,644.9L2324.0,644.9L2324.5,644.9L2325.0,644.9L2325.5,644.9L2326.0,644.9L2326.5,644.9L2327.0,645.0L2327.5,645.0L2328.0,645.0L2328.5,645.0L2329.0,645.0L2329.5,645.0L2330.0,645.0L2330.5,645.0L2331.0,645.0L2331.5,645.0L2332.0,645.0L2332.5,645.0L2333.0,645.0L2333.5,645.0L2334.0,645.1L2334.5,645.1L2335.0,645.1L2335.5,645.1L2336.0,645.1L2336.5,645.1L2337.0,645.1L2337.5,645.1L2338.0,645.1L2338.5,645.1L2339.0,645.1L2339.5,645.1L2340.0,645.1L2340.5,645.1L2341.0,645.2L2341.5,645.2L2342.0,645.2L2342.5,645.2L2343.0,645.2L2343.5,645.2L2344.0,645.2L2344.5,645.2L2345.0,645.2L2345.5,645.2L2346.0,645.2L2346.5,645.2L2347.0,645.2L2347.5,645.3L2348.0,645.3L2348.5,645.3L2349.0,645.3L2349.5,645.3L2350.0,645.3L2350.5,645.3L2351.0,645.3L2351.5,645.3L2352.0,645.3L2352.5,645.3L2353.0,645.3L2353.5,645.3L2354.0,645.3L2354.5,645.4L2355.0,645.4L2355.5,645.4L2356.0,645.4L2356.5,645.4L2357.0,645.4L2357.5,645.4L2358.0,645.4L2358.5,645.4L2359.0,645.4L2359.5,645.4L2360.0,645.4L2360.5,645.4L2361.0,645.4L2361.5,645.5L2362.0,645.5L2362.5,645.5L2363.0,645.5L2363.5,645.5L2364.0,645.5L2364.5,645.5L2365.0,645.5L2365.5,645.5L2366.0,645.5L2366.5,645.5L2367.0,645.5L2367.5,645.5L2368.0,645.6L2368.5,645.6L2369.0,645.6L2369.5,645.6L2370.0,645.6L2370.5,645.6L2371.0,645.6L2371.5,645.6L2372.0,645.6L2372.5,645.6L2373.0,645.6L2373.5,645.6L2374.0,645.6L2374.5,645.6L2375.0,645.7L2375.5,645.7L2376.0,645.7L2376.5,645.7L2377.0,645.7L2377.5,645.7L2378.0,645.7L2378.5,645.7L2379.0,645.7L2379.5,645.7L2380.0,645.7L2380.5,645.7L2381.0,645.7L2381.5,645.8L2382.0,645.8L2382.5,645.8L2383.0,645.8L2383.5,645.8L2384.0,645.8L2384.5,645.8L2385.0,645.8L2385.5,645.8L2386.0,645.8L2386.5,645.8L2387.0,645.8L2387.5,645.8L2388.0,645.8L2388.5,645.9L2389.0,645.9L2389.5,645.9L2390.0,645.9L2390.5,645.9L2391.0,645.9L2391.5,645.9L2392.0,645.9L2392.5,645.9L2393.0,645.9L2393.5,645.9L2394.0,645.9L2394.5,645.9L2395.0,646.0L2395.5,646.0L2396.0,646.0L2396.5,646.0L2397.0,646.0L2397.5,646.0L2398.0,646.0L2398.5,646.0L2399.0,646.0L2399.5,646.0L2400.0,646.0L2400.5,646.0L2401.0,646.0L2401.5,646.1L2402.0,646.1L2402.5,646.1L2403.0,646.1L2403.5,646.1L2404.0,646.1L2404.5,646.1L2405.0,646.1L2405.5,646.1L2406.0,646.1L2406.5,646.1L2407.0,646.1L2407.5,646.1L2408.0,646.2L2408.5,646.2L2409.0,646.2L2409.5,646.2L2410.0,646.2L2410.5,646.2L2411.0,646.2L2411.5,646.2L2412.0,646.2L2412.5,646.2L2413.0,646.2L2413.5,646.2L2414.0,646.3L2414.5,646.3L2415.0,646.3L2415.5,646.3L2416.0,646.3L2416.5,646.3L2417.0,646.3" fill="none" stroke="#e6141e" stroke-width="6.5" stroke-linejoin="round" stroke-linecap="round"/>
<rect x="206" y="909" width="935" height="687" fill="none" stroke="#4e4e4e" stroke-width="4"/>
<line x1="272.3" y1="1596.0" x2="272.3" y2="1589.0" stroke="#4e4e4e" stroke-width="3"/>
<line x1="339.1" y1="1596.0" x2="339.1" y2="1583.0" stroke="#4e4e4e" stroke-width="3"/>
<line x1="406.0" y1="1596.0" x2="406.0" y2="1589.0" stroke="#4e4e4e" stroke-width="3"/>
<line x1="472.8" y1="1596.0" x2="472.8" y2="1583.0" stroke="#4e4e4e" stroke-width="3"/>
<line x1="539.6" y1="1596.0" x2="539.6" y2="1589.0" stroke="#4e4e4e" stroke-width="3"/>
<line x1="606.5" y1="1596.0" x2="606.5" y2="1583.0" stroke="#4e4e4e" stroke-width="3"/>
<line x1="673.3" y1="1596.0" x2="673.3" y2="1589.0" stroke="#4e4e4e" stroke-width="3"/>
<line x1="740.1" y1="1596.0" x2="740.1" y2="1583.0" stroke="#4e4e4e" stroke-width="3"/>
<line x1="806.9" y1="1596.0" x2="806.9" y2="1589.0" stroke="#4e4e4e" stroke-width="3"/>
<line x1="873.8" y1="1596.0" x2="873.8" y2="1583.0" stroke="#4e4e4e" stroke-width="3"/>
<line x1="940.6" y1="1596.0" x2="940.6" y2="1589.0" stroke="#4e4e4e" stroke-width="3"/>
<line x1="1007.4" y1="1596.0" x2="1007.4" y2="1583.0" stroke="#4e4e4e" stroke-width="3"/>
<line x1="1074.2" y1="1596.0" x2="1074.2" y2="1589.0" stroke="#4e4e4e" stroke-width="3"/>
<text x="1141.1" y="1645.0" font-size="42" text-anchor="middle" fill="#1a1a1a" stroke="#1a1a1a" stroke-width="0.6">850</text>
<text x="1007.4" y="1645.0" font-size="42" text-anchor="middle" fill="#1a1a1a" stroke="#1a1a1a" stroke-width="0.6">855</text>
<text x="873.8" y="1645.0" font-size="42" text-anchor="middle" fill="#1a1a1a" stroke="#1a1a1a" stroke-width="0.6">860</text>
<text x="740.1" y="1645.0" font-size="42" text-anchor="middle" fill="#1a1a1a" stroke="#1a1a1a" stroke-width="0.6">865</text>
<text x="606.5" y="1645.0" font-size="42" text-anchor="middle" fill="#1a1a1a" stroke="#1a1a1a" stroke-width="0.6">870</text>
<text x="472.8" y="1645.0" font-size="42" text-anchor="middle" fill="#1a1a1a" stroke="#1a1a1a" stroke-width="0.6">875</text>
<text x="339.1" y="1645.0" font-size="42" text-anchor="middle" fill="#1a1a1a" stroke="#1a1a1a" stroke-width="0.6">880</text>
<text x="205.5" y="1645.0" font-size="42" text-anchor="middle" fill="#1a1a1a" stroke="#1a1a1a" stroke-width="0.6">885</text>
<text x="686.7" y="1705.5" font-size="43.8" text-anchor="middle" fill="#1a1a1a" stroke="#1a1a1a" stroke-width="0.6">Binding energy (eV)</text>
<text x="163.5" y="1255.5" font-size="43" text-anchor="middle" fill="#1a1a1a" stroke="#1a1a1a" stroke-width="0.6" transform="rotate(-90 163.5 1255.5)">Intensity (a.u.)</text>
<text x="252.0" y="985.0" font-size="54" text-anchor="start" fill="#1a1a1a" stroke="#1a1a1a" stroke-width="0.6">(c)</text>
<path d="M205.5,1313.6L208.4,1314.0L211.4,1313.8L214.3,1297.4L217.3,1298.7L220.2,1289.5L223.2,1303.9L226.1,1290.9L229.0,1310.0L232.0,1284.0L234.9,1296.1L237.9,1300.2L240.8,1288.0L243.7,1281.9L246.7,1272.5L249.6,1291.8L252.6,1288.0L255.5,1291.6L258.5,1270.7L261.4,1287.4L264.3,1275.3L267.3,1274.6L270.2,1269.1L273.2,1258.2L276.1,1257.6L279.0,1266.4L282.0,1252.0L284.9,1252.3L287.9,1249.1L290.8,1248.3L293.8,1252.4L296.7,1230.9L299.6,1236.8L302.6,1225.3L305.5,1226.0L308.5,1217.1L311.4,1205.5L314.4,1212.0L317.3,1199.1L320.2,1221.2L323.2,1192.3L326.1,1196.0L329.1,1200.0L332.0,1191.2L334.9,1204.4L337.9,1189.4L340.8,1175.6L343.8,1196.6L346.7,1182.5L349.7,1210.9L352.6,1174.7L355.5,1177.0L358.5,1180.7L361.4,1169.2L364.4,1184.8L367.3,1191.0L370.3,1193.4L373.2,1182.6L376.1,1177.7L379.1,1191.5L382.0,1191.5L385.0,1179.6L387.9,1178.1L390.8,1177.0L393.8,1187.6L396.7,1187.0L399.7,1196.1L402.6,1200.4L405.6,1182.4L408.5,1198.9L411.4,1200.7L414.4,1196.7L417.3,1204.3L420.3,1218.4L423.2,1209.0L426.1,1211.3L429.1,1211.3L432.0,1219.8L435.0,1215.3L437.9,1227.4L440.9,1215.1L443.8,1222.6L446.7,1235.2L449.7,1246.6L452.6,1232.3L455.6,1240.0L458.5,1247.2L461.5,1240.4L464.4,1244.2L467.3,1244.6L470.3,1234.1L473.2,1231.8L476.2,1241.2L479.1,1232.6L482.0,1236.9L485.0,1236.1L487.9,1228.5L490.9,1225.1L493.8,1223.3L496.8,1230.9L499.7,1205.1L502.6,1217.0L505.6,1205.3L508.5,1195.5L511.5,1196.7L514.4,1190.8L517.3,1182.6L520.3,1184.3L523.2,1182.7L526.2,1182.0L529.1,1177.8L532.1,1175.1L535.0,1161.5L537.9,1170.5L540.9,1178.3L543.8,1180.5L546.8,1174.2L549.7,1178.3L552.7,1179.2L555.6,1181.3L558.5,1196.1L561.5,1203.7L564.4,1205.7L567.4,1216.5L570.3,1231.8L573.2,1226.0L576.2,1241.1L579.1,1249.5L582.1,1265.0L585.0,1260.6L588.0,1268.6L590.9,1289.8L593.8,1292.6L596.8,1306.7L599.7,1317.7L602.7,1325.8L605.6,1337.2L608.6,1341.8L611.5,1348.7L614.4,1347.2L617.4,1368.9L620.3,1362.0L623.3,1375.1L626.2,1389.5L629.1,1378.0L632.1,1397.4L635.0,1393.0L638.0,1402.1L640.9,1395.3L643.9,1395.5L646.8,1414.4L649.7,1426.9L652.7,1419.4L655.6,1415.7L658.6,1417.3L661.5,1428.7L664.4,1429.0L667.4,1414.9L670.3,1412.7L673.3,1432.7L676.2,1417.8L679.2,1425.0L682.1,1428.8L685.0,1415.0L688.0,1416.7L690.9,1410.5L693.9,1427.9L696.8,1418.8L699.8,1425.4L702.7,1410.1L705.6,1423.7L708.6,1412.7L711.5,1416.7L714.5,1408.8L717.4,1415.6L720.3,1421.3L723.3,1414.1L726.2,1413.1L729.2,1416.9L732.1,1409.6L735.1,1412.7L738.0,1407.4L740.9,1409.8L743.9,1398.2L746.8,1398.7L749.8,1395.6L752.7,1401.1L755.7,1389.9L758.6,1376.2L761.5,1371.6L764.5,1375.2L767.4,1368.0L770.4,1359.6L773.3,1355.8L776.2,1358.7L779.2,1335.3L782.1,1342.7L785.1,1332.6L788.0,1338.4L791.0,1310.3L793.9,1319.0L796.8,1309.2L799.8,1306.0L802.7,1303.0L805.7,1307.7L808.6,1292.1L811.5,1287.8L814.5,1269.7L817.4,1278.3L820.4,1265.1L823.3,1263.8L826.3,1260.8L829.2,1259.0L832.1,1253.5L835.1,1247.1L838.0,1244.4L841.0,1236.6L843.9,1232.7L846.9,1227.5L849.8,1225.5L852.7,1218.2L855.7,1212.2L858.6,1208.6L861.6,1216.4L864.5,1202.1L867.4,1207.3L870.4,1207.5L873.3,1209.1L876.3,1209.4L879.2,1217.0L882.2,1219.5L885.1,1220.4L888.0,1226.4L891.0,1228.5L893.9,1239.8L896.9,1252.4L899.8,1260.1L902.7,1267.2L905.7,1272.5L908.6,1279.4L911.6,1287.6L914.5,1298.0L917.5,1300.3L920.4,1306.1L923.3,1307.5L926.3,1314.2L929.2,1315.3L932.2,1310.4L935.1,1304.5L938.1,1300.8L941.0,1294.5L943.9,1284.3L946.9,1280.9L949.8,1269.0L952.8,1261.2L955.7,1254.7L958.6,1238.4L961.6,1228.9L964.5,1216.5L967.5,1204.3L970.4,1193.6L973.4,1174.5L976.3,1165.0L979.2,1146.5L982.2,1136.7L985.1,1129.3L988.1,1110.4L991.0,1106.3L994.0,1095.9L996.9,1086.8L999.8,1080.3L1002.8,1074.7L1005.7,1070.6L1008.7,1074.6L1011.6,1063.2L1014.5,1065.7L1017.5,1068.0L1020.4,1066.2L1023.4,1066.1L1026.3,1073.1L1029.3,1080.2L1032.2,1088.3L1035.1,1105.1L1038.1,1118.6L1041.0,1135.3L1044.0,1155.2L1046.9,1174.4L1049.8,1184.7L1052.8,1203.1L1055.7,1215.4L1058.7,1226.1L1061.6,1246.7L1064.6,1257.6L1067.5,1272.3L1070.4,1281.1L1073.4,1302.7L1076.3,1315.5L1079.3,1331.5L1082.2,1342.2L1085.2,1362.3L1088.1,1373.2L1091.0,1385.3L1094.0,1402.8L1096.9,1418.4L1099.9,1429.9L1102.8,1449.7L1105.7,1463.0L1108.7,1479.7L1111.6,1496.3L1114.6,1515.4L1117.5,1520.1L1120.5,1528.9L1123.4,1540.4L1126.3,1546.6L1129.3,1547.8L1132.2,1566.9L1135.2,1569.5L1138.1,1570.7L1141.1,1577.7" fill="none" stroke="#a9abe6" stroke-width="2.2" stroke-linejoin="round" stroke-linecap="round"/>
<path d="M205.5,1302.0L206.8,1299.9L208.2,1299.6L209.5,1299.2L210.8,1298.8L212.2,1298.4L213.5,1297.9L214.9,1297.3L216.2,1296.8L217.5,1296.2L218.9,1295.6L220.2,1294.9L221.5,1294.3L222.9,1293.7L224.2,1293.0L225.5,1292.4L226.9,1291.8L228.2,1291.1L229.6,1290.5L230.9,1289.9L232.2,1289.2L233.6,1288.6L234.9,1287.9L236.2,1287.2L237.6,1286.5L238.9,1285.8L240.2,1285.1L241.6,1284.4L242.9,1283.6L244.3,1282.8L245.6,1282.0L246.9,1281.2L248.3,1280.3L249.6,1279.4L250.9,1278.6L252.3,1277.6L253.6,1276.7L255.0,1275.7L256.3,1274.8L257.6,1273.8L259.0,1272.8L260.3,1271.8L261.6,1270.7L263.0,1269.7L264.3,1268.6L265.6,1267.5L267.0,1266.4L268.3,1265.3L269.7,1264.1L271.0,1263.0L272.3,1261.8L273.7,1260.6L275.0,1259.4L276.3,1258.2L277.7,1256.9L279.0,1255.7L280.3,1254.4L281.7,1253.1L283.0,1251.7L284.4,1250.3L285.7,1248.9L287.0,1247.5L288.4,1246.0L289.7,1244.5L291.0,1242.9L292.4,1241.4L293.7,1239.8L295.0,1238.1L296.4,1236.5L297.7,1234.8L299.1,1233.2L300.4,1231.5L301.7,1229.8L303.1,1228.2L304.4,1226.5L305.7,1224.9L307.1,1223.3L308.4,1221.6L309.7,1220.0L311.1,1218.4L312.4,1216.7L313.8,1215.1L315.1,1213.5L316.4,1211.8L317.8,1210.2L319.1,1208.6L320.4,1207.0L321.8,1205.4L323.1,1203.8L324.4,1202.3L325.8,1200.8L327.1,1199.4L328.5,1198.0L329.8,1196.7L331.1,1195.5L332.5,1194.3L333.8,1193.2L335.1,1192.2L336.5,1191.3L337.8,1190.4L339.1,1189.5L340.5,1188.7L341.8,1187.9L343.2,1187.1L344.5,1186.4L345.8,1185.7L347.2,1185.0L348.5,1184.3L349.8,1183.7L351.2,1183.0L352.5,1182.4L353.9,1181.9L355.2,1181.3L356.5,1180.8L357.9,1180.3L359.2,1179.9L360.5,1179.5L361.9,1179.1L363.2,1178.8L364.5,1178.6L365.9,1178.3L367.2,1178.2L368.6,1178.1L369.9,1178.0L371.2,1178.0L372.6,1177.9L373.9,1178.3L375.2,1178.7L376.6,1179.2L377.9,1179.7L379.2,1180.3L380.6,1180.9L381.9,1181.5L383.3,1182.2L384.6,1182.9L385.9,1183.6L387.3,1184.4L388.6,1185.2L389.9,1186.1L391.3,1187.0L392.6,1187.9L393.9,1188.9L395.3,1189.9L396.6,1191.0L398.0,1192.0L399.3,1193.1L400.6,1194.3L402.0,1195.5L403.3,1196.7L404.6,1197.9L406.0,1199.2L407.3,1200.5L408.6,1201.9L410.0,1203.2L411.3,1204.6L412.7,1206.1L414.0,1207.5L415.3,1209.0L416.7,1210.5L418.0,1212.1L419.3,1213.7L420.7,1215.2L422.0,1216.9L423.3,1218.5L424.7,1220.2L426.0,1221.9L427.4,1223.6L428.7,1225.3L430.0,1227.1L431.4,1228.8L432.7,1230.6L434.0,1232.4L435.4,1234.2L436.7,1236.1L438.1,1237.9L439.4,1239.8L440.7,1241.7L442.1,1243.6L443.4,1245.5L444.7,1247.4L446.1,1249.3L447.4,1251.3L448.7,1253.2L450.1,1255.2L451.4,1257.1L452.8,1259.1L454.1,1261.1L455.4,1263.1L456.8,1265.0L458.1,1267.0L459.4,1269.0L460.8,1271.0L462.1,1273.0L463.4,1275.0L464.8,1277.0L466.1,1279.0L467.5,1281.0L468.8,1283.0L470.1,1285.0L471.5,1287.0L472.8,1289.0L474.1,1290.9L475.5,1292.9L476.8,1294.9L478.1,1296.8L479.5,1298.8L480.8,1300.7L482.2,1302.7L483.5,1304.6L484.8,1306.5L486.2,1308.4L487.5,1310.3L488.8,1312.1L490.2,1314.0L491.5,1315.9L492.8,1317.7L494.2,1319.5L495.5,1321.3L496.9,1323.1L498.2,1324.9L499.5,1326.6L500.9,1328.4L502.2,1330.1L503.5,1331.8L504.9,1333.5L506.2,1335.2L507.5,1336.9L508.9,1338.5L510.2,1340.1L511.6,1341.8L512.9,1343.3L514.2,1344.9L515.6,1346.5L516.9,1348.0L518.2,1349.5L519.6,1351.0L520.9,1352.5L522.3,1354.0L523.6,1355.4L524.9,1356.8L526.3,1358.2L527.6,1359.6L528.9,1361.0L530.3,1362.3L531.6,1363.6L532.9,1364.9L534.3,1366.2L535.6,1367.5L537.0,1368.8L538.3,1370.0L539.6,1371.2L541.0,1372.5L542.3,1373.7L543.6,1374.9L545.0,1376.1L546.3,1377.2L547.6,1378.4L549.0,1379.6L550.3,1380.7L551.7,1381.8L553.0,1382.9L554.3,1384.0L555.7,1385.1L557.0,1386.2L558.3,1387.2L559.7,1388.2L561.0,1389.3L562.3,1390.3L563.7,1391.2L565.0,1392.2L566.4,1393.2L567.7,1394.1L569.0,1395.0L570.4,1396.0L571.7,1396.8L573.0,1397.7L574.4,1398.6L575.7,1399.4L577.0,1400.3L578.4,1401.1L579.7,1401.8L581.1,1402.6L582.4,1403.4L583.7,1404.1L585.1,1404.8L586.4,1405.5L587.7,1406.2L589.1,1406.9L590.4,1407.5L591.7,1408.2L593.1,1408.8L594.4,1409.4L595.8,1409.9L597.1,1410.5L598.4,1411.0L599.8,1411.5L601.1,1412.0L602.4,1412.5L603.8,1412.9L605.1,1413.4L606.5,1413.8L607.8,1414.3L609.1,1414.7L610.5,1415.1L611.8,1415.5L613.1,1415.9L614.5,1416.3L615.8,1416.6L617.1,1417.0L618.5,1417.4L619.8,1417.7L621.2,1418.1L622.5,1418.4L623.8,1418.7L625.2,1419.0L626.5,1419.3L627.8,1419.6L629.2,1419.9L630.5,1420.2L631.8,1420.5L633.2,1420.7L634.5,1421.0L635.9,1421.2L637.2,1421.5L638.5,1421.7L639.9,1421.9L641.2,1422.1L642.5,1422.3L643.9,1422.5L645.2,1422.7L646.5,1422.9L647.9,1423.1L649.2,1423.3L650.6,1423.5L651.9,1423.6L653.2,1423.8L654.6,1424.0L655.9,1424.1L657.2,1424.3L658.6,1424.4L659.9,1424.5L661.2,1424.7L662.6,1424.8L663.9,1424.9L665.3,1425.1L666.6,1425.2L667.9,1425.3L669.3,1425.4L670.6,1425.6L671.9,1425.7L673.3,1425.8L674.6,1425.9L675.9,1426.0L677.3,1426.1L678.6,1426.2L680.0,1426.3L681.3,1426.4L682.6,1426.5L684.0,1426.6L685.3,1426.7L686.6,1426.8L688.0,1426.9L689.3,1427.0L690.6,1427.1L692.0,1427.2L693.3,1427.3L694.7,1427.3L696.0,1427.4L697.3,1427.5L698.7,1427.6L700.0,1427.7L701.3,1427.8L702.7,1427.8L704.0,1427.9L705.4,1428.0L706.7,1428.1L708.0,1428.1L709.4,1428.2L710.7,1428.3L712.0,1428.3L713.4,1428.4L714.7,1428.5L716.0,1428.5L717.4,1428.6L718.7,1428.6L720.1,1428.7L721.4,1428.8L722.7,1428.8L724.1,1428.9L725.4,1428.9L726.7,1429.0L728.1,1429.0L729.4,1429.1L730.7,1429.2L732.1,1429.2L733.4,1429.3L734.8,1429.4L736.1,1429.4L737.4,1429.5L738.8,1429.6L740.1,1429.6L741.4,1429.7L742.8,1429.8L744.1,1429.9L745.4,1429.9L746.8,1430.0L748.1,1430.1L749.5,1430.2L750.8,1430.3L752.1,1430.4L753.5,1430.5L754.8,1430.6L756.1,1430.7" fill="none" stroke="#650c18" stroke-width="4.5" stroke-linejoin="round" stroke-linecap="round"/>
<path d="M323.1,1337.6L324.4,1338.0L325.8,1338.3L327.1,1338.7L328.5,1339.1L329.8,1339.5L331.1,1339.8L332.5,1340.2L333.8,1340.6L335.1,1341.0L336.5,1341.4L337.8,1341.8L339.1,1342.2L340.5,1342.6L341.8,1343.0L343.2,1343.4L344.5,1343.8L345.8,1344.2L347.2,1344.6L348.5,1345.0L349.8,1345.4L351.2,1345.8L352.5,1346.2L353.9,1346.6L355.2,1347.0L356.5,1347.4L357.9,1347.8L359.2,1348.2L360.5,1348.6L361.9,1348.9L363.2,1349.3L364.5,1349.7L365.9,1350.1L367.2,1350.4L368.6,1350.8L369.9,1351.2L371.2,1351.5L372.6,1351.9L373.9,1352.2L375.2,1352.5L376.6,1352.9L377.9,1353.2L379.2,1353.5L380.6,1353.8L381.9,1354.1L383.3,1354.4L384.6,1354.8L385.9,1355.1L387.3,1355.4L388.6,1355.7L389.9,1355.9L391.3,1356.2L392.6,1356.5L393.9,1356.8L395.3,1357.1L396.6,1357.3L398.0,1357.6L399.3,1357.9L400.6,1358.1L402.0,1358.4L403.3,1358.6L404.6,1358.8L406.0,1359.1L407.3,1359.3L408.6,1359.5L410.0,1359.7L411.3,1359.9L412.7,1360.1L414.0,1360.3L415.3,1360.4L416.7,1360.6L418.0,1360.7L419.3,1360.8L420.7,1360.9L422.0,1361.0L423.3,1361.1L424.7,1361.1L426.0,1361.1L427.4,1361.1L428.7,1361.1L430.0,1361.0L431.4,1360.9L432.7,1360.8L434.0,1360.7L435.4,1360.5L436.7,1360.3L438.1,1360.0L439.4,1359.7L440.7,1359.4L442.1,1359.0L443.4,1358.5L444.7,1358.0L446.1,1357.5L447.4,1356.9L448.7,1356.2L450.1,1355.5L451.4,1354.7L452.8,1353.8L454.1,1352.9L455.4,1351.8L456.8,1350.8L458.1,1349.6L459.4,1348.3L460.8,1347.0L462.1,1345.6L463.4,1344.1L464.8,1342.5L466.1,1340.8L467.5,1339.1L468.8,1337.2L470.1,1335.2L471.5,1333.2L472.8,1331.0L474.1,1328.7L475.5,1326.4L476.8,1324.0L478.1,1321.4L479.5,1318.8L480.8,1316.1L482.2,1313.2L483.5,1310.4L484.8,1307.4L486.2,1304.3L487.5,1301.2L488.8,1298.0L490.2,1294.7L491.5,1291.4L492.8,1288.0L494.2,1284.5L495.5,1281.1L496.9,1277.5L498.2,1274.0L499.5,1270.4L500.9,1266.9L502.2,1263.3L503.5,1259.7L504.9,1256.2L506.2,1252.7L507.5,1249.2L508.9,1245.8L510.2,1242.4L511.6,1239.1L512.9,1235.8L514.2,1232.7L515.6,1229.6L516.9,1226.7L518.2,1223.8L519.6,1221.1L520.9,1218.6L522.3,1216.1L523.6,1213.9L524.9,1211.8L526.3,1209.8L527.6,1208.1L528.9,1206.5L530.3,1205.1L531.6,1203.9L532.9,1202.9L534.3,1202.2L535.6,1201.6L537.0,1201.3L538.3,1201.1L539.6,1201.3L541.0,1201.6L542.3,1202.1L543.6,1202.8L545.0,1203.6L546.3,1204.6L547.6,1205.7L549.0,1207.0L550.3,1208.4L551.7,1210.0L553.0,1211.7L554.3,1213.5L555.7,1215.5L557.0,1217.6L558.3,1219.8L559.7,1222.1L561.0,1224.6L562.3,1227.2L563.7,1229.8L565.0,1232.6L566.4,1235.5L567.7,1238.4L569.0,1241.5L570.4,1244.6L571.7,1247.8L573.0,1251.1L574.4,1254.4L575.7,1257.8L577.0,1261.2L578.4,1264.7L579.7,1268.2L581.1,1271.8L582.4,1275.4L583.7,1279.0L585.1,1282.6L586.4,1286.2L587.7,1289.9L589.1,1293.5L590.4,1297.1L591.7,1300.7L593.1,1304.3L594.4,1307.9L595.8,1311.4L597.1,1315.0L598.4,1318.4L599.8,1321.9L601.1,1325.3L602.4,1328.6L603.8,1331.9L605.1,1335.2L606.5,1338.4L607.8,1341.5L609.1,1344.6L610.5,1347.7L611.8,1350.7L613.1,1353.6L614.5,1356.5L615.8,1359.3L617.1,1362.0L618.5,1364.7L619.8,1367.3L621.2,1369.8L622.5,1372.3L623.8,1374.7L625.2,1377.0L626.5,1379.3L627.8,1381.5L629.2,1383.6L630.5,1385.7L631.8,1387.6L633.2,1389.6L634.5,1391.4L635.9,1393.2L637.2,1394.9L638.5,1396.5L639.9,1398.1L641.2,1399.6L642.5,1401.1L643.9,1402.5L645.2,1403.8L646.5,1405.1L647.9,1406.3L649.2,1407.5L650.6,1408.6L651.9,1409.7L653.2,1410.7L654.6,1411.7L655.9,1412.6L657.2,1413.5L658.6,1414.3L659.9,1415.1L661.2,1415.9L662.6,1416.6L663.9,1417.3L665.3,1417.9L666.6,1418.6L667.9,1419.1L669.3,1419.7L670.6,1420.2L671.9,1420.7L673.3,1421.2L674.6,1421.6L675.9,1422.1L677.3,1422.5L678.6,1422.8L680.0,1423.2L681.3,1423.5L682.6,1423.9L684.0,1424.2L685.3,1424.4L686.6,1424.7L688.0,1425.0L689.3,1425.2L690.6,1425.5L692.0,1425.7L693.3,1425.9L694.7,1426.1L696.0,1426.3L697.3,1426.5L698.7,1426.7L700.0,1426.8L701.3,1427.0L702.7,1427.1L704.0,1427.3L705.4,1427.4L706.7,1427.5L708.0,1427.7L709.4,1427.8L710.7,1427.9L712.0,1428.0L713.4,1428.1L714.7,1428.2L716.0,1428.3L717.4,1428.3L718.7,1428.4L720.1,1428.5L721.4,1428.6L722.7,1428.7L724.1,1428.7L725.4,1428.8L726.7,1428.9L728.1,1429.0L729.4,1429.0L730.7,1429.1L732.1,1429.2L733.4,1429.2L734.8,1429.3L736.1,1429.4L737.4,1429.5L738.8,1429.5L740.1,1429.6L741.4,1429.7L742.8,1429.8L744.1,1429.8L745.4,1429.9L746.8,1430.0L748.1,1430.1L749.5,1430.2L750.8,1430.3L752.1,1430.4L753.5,1430.5L754.8,1430.6L756.1,1430.7L757.5,1430.8L758.8,1430.9" fill="none" stroke="#7a7a16" stroke-width="4.5" stroke-linejoin="round" stroke-linecap="round"/>
<path d="M614.5,1419.5L615.8,1419.8L617.1,1420.0L618.5,1420.2L619.8,1420.5L621.2,1420.7L622.5,1420.9L623.8,1421.1L625.2,1421.3L626.5,1421.5L627.8,1421.7L629.2,1421.9L630.5,1422.1L631.8,1422.3L633.2,1422.4L634.5,1422.6L635.9,1422.8L637.2,1423.0L638.5,1423.1L639.9,1423.3L641.2,1423.4L642.5,1423.6L643.9,1423.7L645.2,1423.9L646.5,1424.0L647.9,1424.1L649.2,1424.3L650.6,1424.4L651.9,1424.5L653.2,1424.6L654.6,1424.7L655.9,1424.9L657.2,1425.0L658.6,1425.1L659.9,1425.2L661.2,1425.3L662.6,1425.4L663.9,1425.5L665.3,1425.6L666.6,1425.7L667.9,1425.8L669.3,1425.8L670.6,1425.9L671.9,1426.0L673.3,1426.1L674.6,1426.2L675.9,1426.3L677.3,1426.3L678.6,1426.4L680.0,1426.5L681.3,1426.5L682.6,1426.6L684.0,1426.7L685.3,1426.7L686.6,1426.8L688.0,1426.8L689.3,1426.8L690.6,1426.9L692.0,1426.9L693.3,1426.9L694.7,1426.9L696.0,1427.0L697.3,1426.9L698.7,1426.9L700.0,1426.9L701.3,1426.8L702.7,1426.8L704.0,1426.7L705.4,1426.6L706.7,1426.5L708.0,1426.3L709.4,1426.1L710.7,1425.9L712.0,1425.7L713.4,1425.5L714.7,1425.2L716.0,1424.9L717.4,1424.5L718.7,1424.1L720.1,1423.7L721.4,1423.2L722.7,1422.7L724.1,1422.2L725.4,1421.5L726.7,1420.9L728.1,1420.2L729.4,1419.4L730.7,1418.5L732.1,1417.6L733.4,1416.7L734.8,1415.6L736.1,1414.5L737.4,1413.3L738.8,1412.1L740.1,1410.8L741.4,1409.4L742.8,1407.9L744.1,1406.3L745.4,1404.7L746.8,1403.0L748.1,1401.2L749.5,1399.4L750.8,1397.4L752.1,1395.4L753.5,1393.4L754.8,1391.2L756.1,1389.0L757.5,1386.8L758.8,1384.4L760.1,1382.1L761.5,1379.7L762.8,1377.3L764.2,1374.8L765.5,1372.4L766.8,1369.9L768.2,1367.4L769.5,1365.0L770.8,1362.6L772.2,1360.2L773.5,1357.8L774.8,1355.4L776.2,1353.2L777.5,1350.9L778.9,1348.8L780.2,1346.7L781.5,1344.7L782.9,1342.8L784.2,1341.0L785.5,1339.4L786.9,1337.8L788.2,1336.4L789.6,1335.1L790.9,1334.0L792.2,1333.0L793.6,1332.1L794.9,1331.4L796.2,1330.9L797.6,1330.5L798.9,1330.4L800.2,1330.3L801.6,1330.5L802.9,1330.8L804.3,1331.1L805.6,1331.6L806.9,1332.2L808.3,1332.9L809.6,1333.7L810.9,1334.6L812.3,1335.6L813.6,1336.7L814.9,1337.9L816.3,1339.2L817.6,1340.6L819.0,1342.1L820.3,1343.7L821.6,1345.4L823.0,1347.1L824.3,1349.0L825.6,1350.9L827.0,1352.9L828.3,1354.9L829.6,1357.0L831.0,1359.2L832.3,1361.4L833.7,1363.7L835.0,1366.1L836.3,1368.6L837.7,1371.1L839.0,1373.7L840.3,1376.3L841.7,1379.0L843.0,1381.8L844.3,1384.5L845.7,1387.3L847.0,1390.1L848.4,1392.9L849.7,1395.7L851.0,1398.5L852.4,1401.2L853.7,1403.9L855.0,1406.5L856.4,1409.1L857.7,1411.7L859.0,1414.2L860.4,1416.6L861.7,1418.9L863.1,1421.3L864.4,1423.5L865.7,1425.8L867.1,1428.0L868.4,1430.1L869.7,1432.2L871.1,1434.2L872.4,1436.2L873.8,1438.1L875.1,1440.0L876.4,1441.8L877.8,1443.6L879.1,1445.3L880.4,1447.0L881.8,1448.6L883.1,1450.2L884.4,1451.7L885.8,1453.1L887.1,1454.6L888.5,1455.9L889.8,1457.2L891.1,1458.5L892.5,1459.7L893.8,1460.9L895.1,1462.1L896.5,1463.1L897.8,1464.2L899.1,1465.2L900.5,1466.2L901.8,1467.1L903.2,1468.0L904.5,1468.8L905.8,1469.6L907.2,1470.4L908.5,1471.2L909.8,1471.9L911.2,1472.6L912.5,1473.2L913.8,1473.9L915.2,1474.5L916.5,1475.1L917.9,1475.7L919.2,1476.2L920.5,1476.8L921.9,1477.3L923.2,1477.9L924.5,1478.4L925.9,1478.9L927.2,1479.4L928.5,1479.9L929.9,1480.4L931.2,1480.9L932.6,1481.4L933.9,1481.9L935.2,1482.4L936.6,1482.9L937.9,1483.4L939.2,1484.0L940.6,1484.5L941.9,1485.1L943.2,1485.6L944.6,1486.2L945.9,1486.8L947.3,1487.3L948.6,1487.9L949.9,1488.5L951.3,1489.1L952.6,1489.7L953.9,1490.3L955.3,1490.9L956.6,1491.5L957.9,1492.0L959.3,1492.6L960.6,1493.2L962.0,1493.7L963.3,1494.3L964.6,1494.8L966.0,1495.3L967.3,1495.9L968.6,1496.3L970.0,1496.8L971.3,1497.3L972.7,1497.7L974.0,1498.2L975.3,1498.6L976.7,1499.0L978.0,1499.4L979.3,1499.8L980.7,1500.2L982.0,1500.6L983.3,1501.1L984.7,1501.5L986.0,1501.9L987.4,1502.4L988.7,1502.9" fill="none" stroke="#2a6ea2" stroke-width="4.5" stroke-linejoin="round" stroke-linecap="round"/>
<path d="M704.0,1428.0L705.4,1428.1L706.7,1428.1L708.0,1428.2L709.4,1428.3L710.7,1428.3L712.0,1428.4L713.4,1428.4L714.7,1428.5L716.0,1428.5L717.4,1428.6L718.7,1428.6L720.1,1428.7L721.4,1428.7L722.7,1428.8L724.1,1428.8L725.4,1428.9L726.7,1428.9L728.1,1428.9L729.4,1429.0L730.7,1429.0L732.1,1429.0L733.4,1429.1L734.8,1429.1L736.1,1429.1L737.4,1429.1L738.8,1429.2L740.1,1429.2L741.4,1429.2L742.8,1429.2L744.1,1429.2L745.4,1429.2L746.8,1429.2L748.1,1429.2L749.5,1429.1L750.8,1429.1L752.1,1429.0L753.5,1429.0L754.8,1428.9L756.1,1428.8L757.5,1428.7L758.8,1428.6L760.1,1428.4L761.5,1428.3L762.8,1428.1L764.2,1427.9L765.5,1427.7L766.8,1427.5L768.2,1427.2L769.5,1427.0L770.8,1426.7L772.2,1426.3L773.5,1426.0L774.8,1425.5L776.2,1425.1L777.5,1424.6L778.9,1424.0L780.2,1423.4L781.5,1422.7L782.9,1421.9L784.2,1421.1L785.5,1420.2L786.9,1419.2L788.2,1418.1L789.6,1416.9L790.9,1415.7L792.2,1414.3L793.6,1412.8L794.9,1411.3L796.2,1409.6L797.6,1407.8L798.9,1405.9L800.2,1403.8L801.6,1401.7L802.9,1399.4L804.3,1396.9L805.6,1394.4L806.9,1391.7L808.3,1388.9L809.6,1386.0L810.9,1383.0L812.3,1379.8L813.6,1376.6L814.9,1373.2L816.3,1369.7L817.6,1366.0L819.0,1362.3L820.3,1358.5L821.6,1354.6L823.0,1350.6L824.3,1346.5L825.6,1342.4L827.0,1338.2L828.3,1333.9L829.6,1329.6L831.0,1325.3L832.3,1320.9L833.7,1316.5L835.0,1312.2L836.3,1307.9L837.7,1303.6L839.0,1299.4L840.3,1295.3L841.7,1291.3L843.0,1287.3L844.3,1283.5L845.7,1279.7L847.0,1276.1L848.4,1272.6L849.7,1269.2L851.0,1265.9L852.4,1262.8L853.7,1259.8L855.0,1257.0L856.4,1254.4L857.7,1251.9L859.0,1249.6L860.4,1247.4L861.7,1245.5L863.1,1243.9L864.4,1242.5L865.7,1241.3L867.1,1240.4L868.4,1239.7L869.7,1239.3L871.1,1239.2L872.4,1239.4L873.8,1239.8L875.1,1240.5L876.4,1241.4L877.8,1242.7L879.1,1244.2L880.4,1245.9L881.8,1248.0L883.1,1250.2L884.4,1252.8L885.8,1255.5L887.1,1258.5L888.5,1261.7L889.8,1265.1L891.1,1268.7L892.5,1272.6L893.8,1276.5L895.1,1280.7L896.5,1285.0L897.8,1289.5L899.1,1294.1L900.5,1298.7L901.8,1303.5L903.2,1308.4L904.5,1313.4L905.8,1318.4L907.2,1323.4L908.5,1328.5L909.8,1333.6L911.2,1338.8L912.5,1343.9L913.8,1349.0L915.2,1354.1L916.5,1359.2L917.9,1364.2L919.2,1369.2L920.5,1374.1L921.9,1379.0L923.2,1383.8L924.5,1388.5L925.9,1393.1L927.2,1397.6L928.5,1402.1L929.9,1406.4L931.2,1410.7L932.6,1414.8L933.9,1418.8L935.2,1422.7L936.6,1426.6L937.9,1430.3L939.2,1433.9L940.6,1437.3L941.9,1440.7L943.2,1444.0L944.6,1447.2L945.9,1450.2L947.3,1453.2L948.6,1456.0L949.9,1458.7L951.3,1461.4L952.6,1463.9L953.9,1466.3L955.3,1468.6L956.6,1470.8L957.9,1472.9L959.3,1474.9L960.6,1476.9L962.0,1478.7L963.3,1480.4L964.6,1482.1L966.0,1483.6L967.3,1485.1L968.6,1486.5L970.0,1487.8L971.3,1489.0L972.7,1490.2L974.0,1491.3L975.3,1492.3L976.7,1493.3L978.0,1494.2L979.3,1495.1L980.7,1496.0L982.0,1496.8L983.3,1497.6L984.7,1498.3L986.0,1499.1L987.4,1499.8L988.7,1500.6L990.0,1501.3L991.4,1502.0L992.7,1502.8L994.0,1503.5L995.4,1504.3L996.7,1505.0L998.0,1505.8L999.4,1506.7L1000.7,1507.5L1002.1,1508.3L1003.4,1509.2L1004.7,1510.1L1006.1,1511.0L1007.4,1511.9L1008.7,1512.8L1010.1,1513.8L1011.4,1514.7L1012.7,1515.7L1014.1,1516.6L1015.4,1517.6L1016.8,1518.6L1018.1,1519.6L1019.4,1520.6L1020.8,1521.6L1022.1,1522.6L1023.4,1523.6L1024.8,1524.6L1026.1,1525.6L1027.4,1526.6L1028.8,1527.6L1030.1,1528.6L1031.5,1529.5L1032.8,1530.5L1034.1,1531.4L1035.5,1532.4L1036.8,1533.3L1038.1,1534.2L1039.5,1535.1L1040.8,1536.0L1042.1,1536.8L1043.5,1537.7" fill="none" stroke="#26e026" stroke-width="4.5" stroke-linejoin="round" stroke-linecap="round"/>
<path d="M833.7,1444.4L835.0,1444.8L836.3,1445.2L837.7,1445.7L839.0,1446.3L840.3,1446.9L841.7,1447.5L843.0,1448.1L844.3,1448.8L845.7,1449.5L847.0,1450.2L848.4,1450.9L849.7,1451.6L851.0,1452.3L852.4,1453.1L853.7,1453.7L855.0,1454.4L856.4,1455.0L857.7,1455.7L859.0,1456.2L860.4,1456.8L861.7,1457.3L863.1,1457.8L864.4,1458.3L865.7,1458.8L867.1,1459.3L868.4,1459.8L869.7,1460.2L871.1,1460.7L872.4,1461.1L873.8,1461.5L875.1,1461.9L876.4,1462.2L877.8,1462.5L879.1,1462.8L880.4,1463.1L881.8,1463.3L883.1,1463.5L884.4,1463.6L885.8,1463.7L887.1,1463.8L888.5,1463.7L889.8,1463.7L891.1,1463.5L892.5,1463.3L893.8,1463.0L895.1,1462.7L896.5,1462.2L897.8,1461.7L899.1,1461.1L900.5,1460.3L901.8,1459.5L903.2,1458.5L904.5,1457.4L905.8,1456.2L907.2,1454.8L908.5,1453.4L909.8,1451.7L911.2,1450.0L912.5,1448.0L913.8,1445.9L915.2,1443.7L916.5,1441.3L917.9,1438.7L919.2,1436.0L920.5,1433.0L921.9,1429.9L923.2,1426.7L924.5,1423.2L925.9,1419.6L927.2,1415.8L928.5,1411.8L929.9,1407.7L931.2,1403.4L932.6,1398.9L933.9,1394.3L935.2,1389.5L936.6,1384.6L937.9,1379.5L939.2,1374.4L940.6,1369.1L941.9,1363.8L943.2,1358.4L944.6,1352.9L945.9,1347.4L947.3,1341.8L948.6,1336.2L949.9,1330.6L951.3,1325.1L952.6,1319.5L953.9,1314.1L955.3,1308.7L956.6,1303.4L957.9,1298.2L959.3,1293.1L960.6,1288.2L962.0,1283.5L963.3,1279.0L964.6,1274.7L966.0,1270.7L967.3,1266.9L968.6,1263.4L970.0,1260.1L971.3,1257.2L972.7,1254.6L974.0,1252.3L975.3,1250.4L976.7,1248.9L978.0,1247.7L979.3,1247.0L980.7,1246.6L982.0,1246.7L983.3,1247.1L984.7,1248.0L986.0,1249.3L987.4,1251.0L988.7,1253.1L990.0,1255.6L991.4,1258.6L992.7,1261.9L994.0,1265.5L995.4,1269.6L996.7,1274.0L998.0,1278.7L999.4,1283.8L1000.7,1289.1L1002.1,1294.8L1003.4,1300.6L1004.7,1306.7L1006.1,1313.0L1007.4,1319.5L1008.7,1326.2L1010.1,1333.0L1011.4,1339.9L1012.7,1346.9L1014.1,1353.9L1015.4,1361.0L1016.8,1368.1L1018.1,1375.2L1019.4,1382.3L1020.8,1389.3L1022.1,1396.3L1023.4,1403.2L1024.8,1410.0L1026.1,1416.7L1027.4,1423.3L1028.8,1429.7L1030.1,1436.0L1031.5,1442.2L1032.8,1448.2L1034.1,1454.0L1035.5,1459.6L1036.8,1465.0L1038.1,1470.2L1039.5,1475.3L1040.8,1480.1L1042.1,1484.8L1043.5,1489.2L1044.8,1493.5L1046.2,1497.6L1047.5,1501.6L1048.8,1505.4L1050.2,1508.9L1051.5,1512.4L1052.8,1515.7L1054.2,1518.8L1055.5,1521.8L1056.9,1524.6L1058.2,1527.3L1059.5,1529.8L1060.9,1532.3L1062.2,1534.6L1063.5,1536.8L1064.9,1538.9L1066.2,1540.9L1067.5,1542.8L1068.9,1544.6L1070.2,1546.3L1071.6,1548.0L1072.9,1549.5L1074.2,1551.0L1075.6,1552.5L1076.9,1553.8L1078.2,1555.2L1079.6,1556.5L1080.9,1557.7L1082.2,1558.9L1083.6,1560.0L1084.9,1561.1L1086.3,1562.2L1087.6,1563.2L1088.9,1564.2L1090.3,1565.1L1091.6,1566.0L1092.9,1566.9L1094.3,1567.7L1095.6,1568.5L1096.9,1569.3L1098.3,1570.1L1099.6,1570.9L1101.0,1571.6L1102.3,1572.3L1103.6,1573.1L1105.0,1573.7L1106.3,1574.4L1107.6,1575.1L1109.0,1575.7L1110.3,1576.3L1111.6,1576.9L1113.0,1577.5L1114.3,1578.0L1115.7,1578.6L1117.0,1579.0L1118.3,1579.5L1119.7,1579.9L1121.0,1580.3L1122.3,1580.7L1123.7,1581.1L1125.0,1581.4L1126.3,1581.8L1127.7,1582.1L1129.0,1582.4L1130.4,1582.7L1131.7,1583.0" fill="none" stroke="#22ecec" stroke-width="4.5" stroke-linejoin="round" stroke-linecap="round"/>
<path d="M896.5,1471.5L897.8,1472.0L899.1,1472.5L900.5,1472.9L901.8,1473.3L903.2,1473.7L904.5,1474.1L905.8,1474.5L907.2,1474.9L908.5,1475.3L909.8,1475.7L911.2,1476.0L912.5,1476.4L913.8,1476.7L915.2,1477.1L916.5,1477.4L917.9,1477.7L919.2,1478.1L920.5,1478.4L921.9,1478.7L923.2,1479.0L924.5,1479.3L925.9,1479.5L927.2,1479.8L928.5,1480.1L929.9,1480.3L931.2,1480.6L932.6,1480.8L933.9,1481.0L935.2,1481.2L936.6,1481.3L937.9,1481.5L939.2,1481.6L940.6,1481.7L941.9,1481.7L943.2,1481.7L944.6,1481.7L945.9,1481.6L947.3,1481.4L948.6,1481.2L949.9,1480.9L951.3,1480.5L952.6,1480.0L953.9,1479.4L955.3,1478.7L956.6,1477.8L957.9,1476.8L959.3,1475.7L960.6,1474.4L962.0,1472.9L963.3,1471.3L964.6,1469.4L966.0,1467.4L967.3,1465.1L968.6,1462.6L970.0,1459.9L971.3,1456.9L972.7,1453.6L974.0,1450.2L975.3,1446.4L976.7,1442.4L978.0,1438.1L979.3,1433.5L980.7,1428.7L982.0,1423.6L983.3,1418.2L984.7,1412.6L986.0,1406.7L987.4,1400.6L988.7,1394.2L990.0,1387.6L991.4,1380.8L992.7,1373.8L994.0,1366.6L995.4,1359.2L996.7,1351.7L998.0,1344.1L999.4,1336.4L1000.7,1328.6L1002.1,1320.7L1003.4,1312.9L1004.7,1305.0L1006.1,1297.2L1007.4,1289.4L1008.7,1281.8L1010.1,1274.2L1011.4,1266.9L1012.7,1259.7L1014.1,1252.7L1015.4,1246.1L1016.8,1239.7L1018.1,1233.7L1019.4,1228.0L1020.8,1222.8L1022.1,1218.0L1023.4,1213.6L1024.8,1209.7L1026.1,1206.3L1027.4,1203.5L1028.8,1201.2L1030.1,1199.5L1031.5,1198.3L1032.8,1197.8L1034.1,1197.8L1035.5,1198.4L1036.8,1199.6L1038.1,1201.5L1039.5,1203.9L1040.8,1206.9L1042.1,1210.4L1043.5,1214.6L1044.8,1219.2L1046.2,1224.5L1047.5,1230.2L1048.8,1236.4L1050.2,1243.1L1051.5,1250.1L1052.8,1257.6L1054.2,1265.5L1055.5,1273.6L1056.9,1282.1L1058.2,1290.8L1059.5,1299.7L1060.9,1308.9L1062.2,1318.1L1063.5,1327.5L1064.9,1336.9L1066.2,1346.4L1067.5,1355.9L1068.9,1365.4L1070.2,1374.8L1071.6,1384.2L1072.9,1393.4L1074.2,1402.5L1075.6,1411.4L1076.9,1420.2L1078.2,1428.8L1079.6,1437.2L1080.9,1445.3L1082.2,1453.2L1083.6,1460.9L1084.9,1468.3L1086.3,1475.4L1087.6,1482.2L1088.9,1488.8L1090.3,1495.0L1091.6,1501.0L1092.9,1506.7L1094.3,1512.0L1095.6,1517.2L1096.9,1522.0L1098.3,1526.6L1099.6,1531.0L1101.0,1535.1L1102.3,1539.0L1103.6,1542.6L1105.0,1546.0L1106.3,1549.3L1107.6,1552.3L1109.0,1555.0L1110.3,1557.7L1111.6,1560.1L1113.0,1562.3L1114.3,1564.4L1115.7,1566.3L1117.0,1568.1L1118.3,1569.7L1119.7,1571.2L1121.0,1572.6L1122.3,1573.8L1123.7,1575.0L1125.0,1576.0L1126.3,1577.0L1127.7,1577.8L1129.0,1578.7L1130.4,1579.4L1131.7,1580.1L1133.0,1580.7L1134.4,1581.3L1135.7,1581.9L1137.0,1582.4L1138.4,1582.9L1139.7,1583.4L1141.1,1583.9" fill="none" stroke="#ee26ee" stroke-width="4.5" stroke-linejoin="round" stroke-linecap="round"/>
<path d="M205.5,1302.0L206.8,1299.9L208.2,1299.6L209.5,1299.2L210.8,1298.8L212.2,1298.4L213.5,1297.9L214.9,1297.3L216.2,1296.8L217.5,1296.2L218.9,1295.6L220.2,1294.9L221.5,1294.3L222.9,1293.7L224.2,1293.0L225.5,1292.4L226.9,1291.8L228.2,1291.1L229.6,1290.5L230.9,1289.9L232.2,1289.2L233.6,1288.6L234.9,1287.9L236.2,1287.2L237.6,1286.5L238.9,1285.8L240.2,1285.1L241.6,1284.4L242.9,1283.6L244.3,1282.8L245.6,1282.0L246.9,1281.2L248.3,1280.3L249.6,1279.4L250.9,1278.6L252.3,1277.6L253.6,1276.7L255.0,1275.7L256.3,1274.8L257.6,1273.8L259.0,1272.8L260.3,1271.8L261.6,1270.7L263.0,1269.7L264.3,1268.6L265.6,1267.5L267.0,1266.4L268.3,1265.3L269.7,1264.1L271.0,1263.0L272.3,1261.8L273.7,1260.6L275.0,1259.4L276.3,1258.2L277.7,1256.9L279.0,1255.7L280.3,1254.4L281.7,1253.1L283.0,1251.7L284.4,1250.3L285.7,1248.9L287.0,1247.5L288.4,1246.0L289.7,1244.5L291.0,1242.9L292.4,1241.4L293.7,1239.8L295.0,1238.1L296.4,1236.5L297.7,1234.8L299.1,1233.2L300.4,1231.5L301.7,1229.8L303.1,1228.2L304.4,1226.5L305.7,1224.9L307.1,1223.3L308.4,1221.6L309.7,1220.0L311.1,1218.4L312.4,1216.7L313.8,1215.1L315.1,1213.5L316.4,1211.8L317.8,1210.2L319.1,1208.6L320.4,1207.0L321.8,1205.4L323.1,1203.8L324.4,1202.3L325.8,1200.8L327.1,1199.4L328.5,1198.0L329.8,1196.7L331.1,1195.5L332.5,1194.3L333.8,1193.2L335.1,1192.2L336.5,1191.3L337.8,1190.4L339.1,1189.5L340.5,1188.7L341.8,1187.9L343.2,1187.1L344.5,1186.4L345.8,1185.7L347.2,1185.0L348.5,1184.3L349.8,1183.7L351.2,1183.0L352.5,1182.4L353.9,1181.9L355.2,1181.3L356.5,1180.8L357.9,1180.3L359.2,1179.9L360.5,1179.5L361.9,1179.1L363.2,1178.8L364.5,1178.6L365.9,1178.3L367.2,1178.2L368.6,1178.1L369.9,1178.0L371.2,1178.0L372.6,1178.0L373.9,1178.1L375.2,1178.3L376.6,1178.5L377.9,1178.8L379.2,1179.1L380.6,1179.5L381.9,1180.0L383.3,1180.4L384.6,1181.0L385.9,1181.5L387.3,1182.1L388.6,1182.7L389.9,1183.4L391.3,1184.1L392.6,1184.8L393.9,1185.5L395.3,1186.2L396.6,1187.0L398.0,1187.8L399.3,1188.6L400.6,1189.4L402.0,1190.2L403.3,1191.1L404.6,1192.0L406.0,1192.9L407.3,1193.9L408.6,1195.0L410.0,1196.0L411.3,1197.1L412.7,1198.3L414.0,1199.5L415.3,1200.7L416.7,1202.0L418.0,1203.2L419.3,1204.5L420.7,1205.8L422.0,1207.1L423.3,1208.4L424.7,1209.7L426.0,1210.9L427.4,1212.2L428.7,1213.5L430.0,1214.8L431.4,1216.0L432.7,1217.3L434.0,1218.6L435.4,1219.9L436.7,1221.3L438.1,1222.6L439.4,1224.0L440.7,1225.4L442.1,1226.7L443.4,1228.1L444.7,1229.4L446.1,1230.7L447.4,1232.0L448.7,1233.2L450.1,1234.4L451.4,1235.5L452.8,1236.6L454.1,1237.5L455.4,1238.4L456.8,1239.2L458.1,1239.9L459.4,1240.5L460.8,1241.0L462.1,1241.3L463.4,1241.6L464.8,1241.7L466.1,1241.8L467.5,1241.8L468.8,1241.6L470.1,1241.4L471.5,1241.1L472.8,1240.8L474.1,1240.3L475.5,1239.8L476.8,1239.3L478.1,1238.7L479.5,1238.0L480.8,1237.3L482.2,1236.6L483.5,1235.8L484.8,1234.9L486.2,1234.0L487.5,1233.0L488.8,1231.9L490.2,1230.6L491.5,1229.3L492.8,1227.7L494.2,1226.1L495.5,1224.2L496.9,1222.2L498.2,1220.0L499.5,1217.7L500.9,1215.3L502.2,1212.8L503.5,1210.3L504.9,1207.8L506.2,1205.4L507.5,1203.0L508.9,1200.7L510.2,1198.6L511.6,1196.5L512.9,1194.6L514.2,1192.8L515.6,1191.1L516.9,1189.5L518.2,1188.0L519.6,1186.6L520.9,1185.3L522.3,1184.0L523.6,1182.7L524.9,1181.6L526.3,1180.5L527.6,1179.6L528.9,1178.7L530.3,1178.0L531.6,1177.3L532.9,1176.9L534.3,1176.5L535.6,1176.3L537.0,1176.3L538.3,1176.4L539.6,1176.7L541.0,1177.1L542.3,1177.7L543.6,1178.5L545.0,1179.3L546.3,1180.4L547.6,1181.5L549.0,1182.8L550.3,1184.2L551.7,1185.7L553.0,1187.3L554.3,1189.1L555.7,1191.0L557.0,1193.0L558.3,1195.3L559.7,1197.7L561.0,1200.4L562.3,1203.2L563.7,1206.3L565.0,1209.6L566.4,1213.0L567.7,1216.6L569.0,1220.4L570.4,1224.2L571.7,1228.1L573.0,1232.1L574.4,1236.1L575.7,1240.1L577.0,1244.1L578.4,1248.2L579.7,1252.4L581.1,1256.5L582.4,1260.7L583.7,1264.8L585.1,1269.0L586.4,1273.2L587.7,1277.4L589.1,1281.6L590.4,1285.8L591.7,1289.9L593.1,1294.1L594.4,1298.2L595.8,1302.2L597.1,1306.3L598.4,1310.3L599.8,1314.3L601.1,1318.3L602.4,1322.3L603.8,1326.2L605.1,1330.1L606.5,1334.0L607.8,1337.8L609.1,1341.5L610.5,1345.2L611.8,1348.7L613.1,1352.2L614.5,1355.6L615.8,1358.9L617.1,1362.1L618.5,1365.2L619.8,1368.2L621.2,1371.1L622.5,1373.9L623.8,1376.7L625.2,1379.5L626.5,1382.1L627.8,1384.7L629.2,1387.3L630.5,1389.7L631.8,1392.1L633.2,1394.4L634.5,1396.6L635.9,1398.7L637.2,1400.7L638.5,1402.5L639.9,1404.1L641.2,1405.7L642.5,1407.1L643.9,1408.3L645.2,1409.4L646.5,1410.4L647.9,1411.3L649.2,1412.1L650.6,1412.8L651.9,1413.4L653.2,1414.0L654.6,1414.6L655.9,1415.1L657.2,1415.6L658.6,1416.1L659.9,1416.5L661.2,1417.0L662.6,1417.4L663.9,1417.7L665.3,1418.1L666.6,1418.4L667.9,1418.7L669.3,1419.0L670.6,1419.3L671.9,1419.5L673.3,1419.7L674.6,1419.9L675.9,1420.0L677.3,1420.1L678.6,1420.2L680.0,1420.3L681.3,1420.3L682.6,1420.4L684.0,1420.4L685.3,1420.4L686.6,1420.3L688.0,1420.3L689.3,1420.2L690.6,1420.2L692.0,1420.1L693.3,1420.0L694.7,1419.9L696.0,1419.8L697.3,1419.7L698.7,1419.6L700.0,1419.5L701.3,1419.4L702.7,1419.2L704.0,1419.1L705.4,1418.9L706.7,1418.8L708.0,1418.6L709.4,1418.4L710.7,1418.2L712.0,1418.0L713.4,1417.8L714.7,1417.6L716.0,1417.4L717.4,1417.1L718.7,1416.9L720.1,1416.6L721.4,1416.2L722.7,1415.8L724.1,1415.3L725.4,1414.8L726.7,1414.2L728.1,1413.6L729.4,1412.8L730.7,1412.0L732.1,1411.1L733.4,1410.2L734.8,1409.2L736.1,1408.1L737.4,1406.9L738.8,1405.7L740.1,1404.5L741.4,1403.1L742.8,1401.8L744.1,1400.4L745.4,1398.9L746.8,1397.5L748.1,1395.9L749.5,1394.4L750.8,1392.8L752.1,1391.2L753.5,1389.6L754.8,1388.0L756.1,1386.3L757.5,1384.6L758.8,1382.8L760.1,1381.0L761.5,1379.1L762.8,1377.1L764.2,1375.1L765.5,1373.0L766.8,1370.8L768.2,1368.5L769.5,1366.1L770.8,1363.6L772.2,1361.1L773.5,1358.5L774.8,1355.8L776.2,1353.1L777.5,1350.4L778.9,1347.6L780.2,1344.7L781.5,1341.9L782.9,1339.1L784.2,1336.2L785.5,1333.4L786.9,1330.6L788.2,1327.8L789.6,1325.0L790.9,1322.3L792.2,1319.6L793.6,1317.0L794.9,1314.4L796.2,1311.8L797.6,1309.3L798.9,1306.8L800.2,1304.3L801.6,1301.9L802.9,1299.5L804.3,1297.1L805.6,1294.7L806.9,1292.3L808.3,1289.9L809.6,1287.6L810.9,1285.2L812.3,1282.9L813.6,1280.6L814.9,1278.3L816.3,1276.0L817.6,1273.7L819.0,1271.5L820.3,1269.2L821.6,1267.1L823.0,1264.9L824.3,1262.7L825.6,1260.6L827.0,1258.5L828.3,1256.5L829.6,1254.4L831.0,1252.4L832.3,1250.3L833.7,1248.3L835.0,1246.3L836.3,1244.2L837.7,1242.2L839.0,1240.1L840.3,1238.0L841.7,1236.0L843.0,1233.9L844.3,1231.8L845.7,1229.7L847.0,1227.7L848.4,1225.7L849.7,1223.7L851.0,1221.9L852.4,1220.1L853.7,1218.4L855.0,1216.8L856.4,1215.3L857.7,1213.9L859.0,1212.7L860.4,1211.7L861.7,1210.8L863.1,1210.1L864.4,1209.6L865.7,1209.2L867.1,1209.1L868.4,1209.2L869.7,1209.4L871.1,1209.9L872.4,1210.5L873.8,1211.3L875.1,1212.3L876.4,1213.4L877.8,1214.7L879.1,1216.1L880.4,1217.6L881.8,1219.3L883.1,1221.0L884.4,1222.9L885.8,1224.9L887.1,1227.0L888.5,1229.3L889.8,1231.7L891.1,1234.4L892.5,1237.2L893.8,1240.2L895.1,1243.4L896.5,1246.7L897.8,1250.2L899.1,1253.7L900.5,1257.4L901.8,1261.0L903.2,1264.6L904.5,1268.2L905.8,1271.7L907.2,1275.1L908.5,1278.4L909.8,1281.7L911.2,1284.9L912.5,1288.1L913.8,1291.1L915.2,1294.0L916.5,1296.9L917.9,1299.5L919.2,1302.0L920.5,1304.3L921.9,1306.2L923.2,1307.9L924.5,1309.2L925.9,1310.1L927.2,1310.6L928.5,1310.7L929.9,1310.3L931.2,1309.4L932.6,1308.2L933.9,1306.5L935.2,1304.5L936.6,1302.2L937.9,1299.5L939.2,1296.7L940.6,1293.7L941.9,1290.5L943.2,1287.1L944.6,1283.6L945.9,1280.0L947.3,1276.3L948.6,1272.4L949.9,1268.3L951.3,1264.2L952.6,1259.9L953.9,1255.4L955.3,1250.9L956.6,1246.3L957.9,1241.5L959.3,1236.6L960.6,1231.6L962.0,1226.5L963.3,1221.3L964.6,1216.0L966.0,1210.5L967.3,1204.9L968.6,1199.2L970.0,1193.4L971.3,1187.5L972.7,1181.5L974.0,1175.4L975.3,1169.4L976.7,1163.4L978.0,1157.5L979.3,1151.6L980.7,1145.8L982.0,1140.1L983.3,1134.5L984.7,1129.0L986.0,1123.6L987.4,1118.3L988.7,1113.1L990.0,1108.1L991.4,1103.3L992.7,1098.8L994.0,1094.7L995.4,1090.8L996.7,1087.4L998.0,1084.3L999.4,1081.5L1000.7,1079.1L1002.1,1076.9L1003.4,1075.0L1004.7,1073.4L1006.1,1071.9L1007.4,1070.7L1008.7,1069.6L1010.1,1068.8L1011.4,1068.1L1012.7,1067.7L1014.1,1067.5L1015.4,1067.5L1016.8,1067.7L1018.1,1068.1L1019.4,1068.8L1020.8,1069.8L1022.1,1071.1L1023.4,1072.8L1024.8,1074.9L1026.1,1077.6L1027.4,1080.7L1028.8,1084.4L1030.1,1088.6L1031.5,1093.4L1032.8,1098.6L1034.1,1104.2L1035.5,1110.2L1036.8,1116.5L1038.1,1123.1L1039.5,1130.0L1040.8,1137.0L1042.1,1144.3L1043.5,1151.6L1044.8,1159.0L1046.2,1166.4L1047.5,1173.8L1048.8,1181.1L1050.2,1188.2L1051.5,1195.3L1052.8,1202.1L1054.2,1208.9L1055.5,1215.5L1056.9,1222.0L1058.2,1228.5L1059.5,1234.9L1060.9,1241.3L1062.2,1247.7L1063.5,1254.1L1064.9,1260.5L1066.2,1266.9L1067.5,1273.3L1068.9,1279.7L1070.2,1286.1L1071.6,1292.5L1072.9,1298.9L1074.2,1305.3L1075.6,1311.7L1076.9,1318.2L1078.2,1324.6L1079.6,1331.0L1080.9,1337.5L1082.2,1344.0L1083.6,1350.5L1084.9,1357.0L1086.3,1363.5L1087.6,1370.0L1088.9,1376.6L1090.3,1383.3L1091.6,1389.9L1092.9,1396.6L1094.3,1403.3L1095.6,1410.1L1096.9,1416.8L1098.3,1423.6L1099.6,1430.4L1101.0,1437.3L1102.3,1444.1L1103.6,1451.0L1105.0,1457.9L1106.3,1464.8L1107.6,1471.6L1109.0,1478.4L1110.3,1485.0L1111.6,1491.6L1113.0,1497.9L1114.3,1503.9L1115.7,1509.7L1117.0,1515.2L1118.3,1520.4L1119.7,1525.3L1121.0,1529.9L1122.3,1534.2L1123.7,1538.3L1125.0,1542.2L1126.3,1545.9L1127.7,1549.4L1129.0,1552.7L1130.4,1555.8L1131.7,1558.8L1133.0,1561.5L1134.4,1564.0L1135.7,1566.2L1137.0,1568.2L1138.4,1569.9L1139.7,1571.4L1141.1,1579.5" fill="none" stroke="#f0821e" stroke-width="5.5" stroke-linejoin="round" stroke-linecap="round"/>
<path d="M205.5,1321.0L206.8,1322.0L208.2,1322.0L209.5,1322.1L210.8,1322.1L212.2,1322.2L213.5,1322.3L214.9,1322.4L216.2,1322.5L217.5,1322.6L218.9,1322.7L220.2,1322.8L221.5,1322.9L222.9,1323.0L224.2,1323.1L225.5,1323.2L226.9,1323.4L228.2,1323.5L229.6,1323.6L230.9,1323.7L232.2,1323.9L233.6,1324.0L234.9,1324.1L236.2,1324.3L237.6,1324.4L238.9,1324.5L240.2,1324.7L241.6,1324.8L242.9,1325.0L244.3,1325.1L245.6,1325.2L246.9,1325.4L248.3,1325.5L249.6,1325.7L250.9,1325.8L252.3,1325.9L253.6,1326.1L255.0,1326.2L256.3,1326.4L257.6,1326.5L259.0,1326.7L260.3,1326.8L261.6,1327.0L263.0,1327.1L264.3,1327.3L265.6,1327.4L267.0,1327.6L268.3,1327.8L269.7,1327.9L271.0,1328.1L272.3,1328.3L273.7,1328.4L275.0,1328.6L276.3,1328.8L277.7,1328.9L279.0,1329.1L280.3,1329.3L281.7,1329.5L283.0,1329.7L284.4,1329.9L285.7,1330.1L287.0,1330.3L288.4,1330.5L289.7,1330.7L291.0,1330.9L292.4,1331.1L293.7,1331.3L295.0,1331.6L296.4,1331.8L297.7,1332.0L299.1,1332.3L300.4,1332.5L301.7,1332.8L303.1,1333.0L304.4,1333.3L305.7,1333.6L307.1,1333.9L308.4,1334.2L309.7,1334.5L311.1,1334.8L312.4,1335.1L313.8,1335.4L315.1,1335.7L316.4,1336.0L317.8,1336.4L319.1,1336.7L320.4,1337.0L321.8,1337.4L323.1,1337.7L324.4,1338.1L325.8,1338.5L327.1,1338.8L328.5,1339.2L329.8,1339.6L331.1,1339.9L332.5,1340.3L333.8,1340.7L335.1,1341.1L336.5,1341.5L337.8,1341.9L339.1,1342.2L340.5,1342.6L341.8,1343.0L343.2,1343.4L344.5,1343.8L345.8,1344.2L347.2,1344.6L348.5,1345.0L349.8,1345.4L351.2,1345.8L352.5,1346.2L353.9,1346.6L355.2,1346.9L356.5,1347.3L357.9,1347.7L359.2,1348.1L360.5,1348.5L361.9,1348.8L363.2,1349.2L364.5,1349.6L365.9,1350.0L367.2,1350.3L368.6,1350.7L369.9,1351.0L371.2,1351.4L372.6,1351.8L373.9,1352.1L375.2,1352.4L376.6,1352.8L377.9,1353.1L379.2,1353.5L380.6,1353.8L381.9,1354.1L383.3,1354.4L384.6,1354.8L385.9,1355.1L387.3,1355.4L388.6,1355.7L389.9,1356.0L391.3,1356.3L392.6,1356.6L393.9,1357.0L395.3,1357.3L396.6,1357.6L398.0,1357.9L399.3,1358.2L400.6,1358.5L402.0,1358.8L403.3,1359.1L404.6,1359.4L406.0,1359.7L407.3,1360.0L408.6,1360.3L410.0,1360.6L411.3,1360.9L412.7,1361.1L414.0,1361.4L415.3,1361.7L416.7,1362.0L418.0,1362.3L419.3,1362.6L420.7,1362.9L422.0,1363.2L423.3,1363.5L424.7,1363.8L426.0,1364.1L427.4,1364.4L428.7,1364.7L430.0,1365.0L431.4,1365.4L432.7,1365.7L434.0,1366.0L435.4,1366.3L436.7,1366.6L438.1,1366.9L439.4,1367.2L440.7,1367.6L442.1,1367.9L443.4,1368.2L444.7,1368.5L446.1,1368.9L447.4,1369.2L448.7,1369.5L450.1,1369.9L451.4,1370.2L452.8,1370.6L454.1,1370.9L455.4,1371.2L456.8,1371.6L458.1,1372.0L459.4,1372.3L460.8,1372.7L462.1,1373.0L463.4,1373.4L464.8,1373.8L466.1,1374.2L467.5,1374.5L468.8,1374.9L470.1,1375.3L471.5,1375.7L472.8,1376.1L474.1,1376.5L475.5,1376.9L476.8,1377.2L478.1,1377.6L479.5,1378.0L480.8,1378.4L482.2,1378.9L483.5,1379.3L484.8,1379.7L486.2,1380.1L487.5,1380.5L488.8,1380.9L490.2,1381.3L491.5,1381.7L492.8,1382.2L494.2,1382.6L495.5,1383.0L496.9,1383.4L498.2,1383.8L499.5,1384.3L500.9,1384.7L502.2,1385.1L503.5,1385.5L504.9,1386.0L506.2,1386.4L507.5,1386.8L508.9,1387.3L510.2,1387.7L511.6,1388.1L512.9,1388.5L514.2,1389.0L515.6,1389.4L516.9,1389.8L518.2,1390.3L519.6,1390.7L520.9,1391.1L522.3,1391.6L523.6,1392.0L524.9,1392.4L526.3,1392.9L527.6,1393.3L528.9,1393.7L530.3,1394.2L531.6,1394.6L532.9,1395.0L534.3,1395.5L535.6,1395.9L537.0,1396.4L538.3,1396.8L539.6,1397.3L541.0,1397.7L542.3,1398.2L543.6,1398.6L545.0,1399.1L546.3,1399.5L547.6,1400.0L549.0,1400.5L550.3,1400.9L551.7,1401.4L553.0,1401.9L554.3,1402.3L555.7,1402.8L557.0,1403.3L558.3,1403.8L559.7,1404.2L561.0,1404.7L562.3,1405.2L563.7,1405.6L565.0,1406.1L566.4,1406.6L567.7,1407.0L569.0,1407.5L570.4,1408.0L571.7,1408.4L573.0,1408.9L574.4,1409.3L575.7,1409.7L577.0,1410.2L578.4,1410.6L579.7,1411.0L581.1,1411.4L582.4,1411.8L583.7,1412.3L585.1,1412.6L586.4,1413.0L587.7,1413.4L589.1,1413.8L590.4,1414.1L591.7,1414.5L593.1,1414.8L594.4,1415.2L595.8,1415.5L597.1,1415.8L598.4,1416.2L599.8,1416.5L601.1,1416.8L602.4,1417.1L603.8,1417.3L605.1,1417.6L606.5,1417.9L607.8,1418.2L609.1,1418.4L610.5,1418.7L611.8,1418.9L613.1,1419.2L614.5,1419.4L615.8,1419.6L617.1,1419.9L618.5,1420.1L619.8,1420.3L621.2,1420.5L622.5,1420.8L623.8,1421.0L625.2,1421.2L626.5,1421.4L627.8,1421.6L629.2,1421.8L630.5,1421.9L631.8,1422.1L633.2,1422.3L634.5,1422.5L635.9,1422.7L637.2,1422.8L638.5,1423.0L639.9,1423.1L641.2,1423.3L642.5,1423.5L643.9,1423.6L645.2,1423.7L646.5,1423.9L647.9,1424.0L649.2,1424.2L650.6,1424.3L651.9,1424.4L653.2,1424.5L654.6,1424.7L655.9,1424.8L657.2,1424.9L658.6,1425.0L659.9,1425.1L661.2,1425.2L662.6,1425.3L663.9,1425.4L665.3,1425.5L666.6,1425.6L667.9,1425.7L669.3,1425.8L670.6,1425.9L671.9,1426.0L673.3,1426.1L674.6,1426.2L675.9,1426.3L677.3,1426.4L678.6,1426.5L680.0,1426.6L681.3,1426.7L682.6,1426.7L684.0,1426.8L685.3,1426.9L686.6,1427.0L688.0,1427.1L689.3,1427.2L690.6,1427.2L692.0,1427.3L693.3,1427.4L694.7,1427.5L696.0,1427.5L697.3,1427.6L698.7,1427.7L700.0,1427.8L701.3,1427.8L702.7,1427.9L704.0,1428.0L705.4,1428.0L706.7,1428.1L708.0,1428.2L709.4,1428.2L710.7,1428.3L712.0,1428.4L713.4,1428.4L714.7,1428.5L716.0,1428.6L717.4,1428.6L718.7,1428.7L720.1,1428.7L721.4,1428.8L722.7,1428.9L724.1,1428.9L725.4,1429.0L726.7,1429.0L728.1,1429.1L729.4,1429.2L730.7,1429.2L732.1,1429.3L733.4,1429.4L734.8,1429.4L736.1,1429.5L737.4,1429.6L738.8,1429.6L740.1,1429.7L741.4,1429.8L742.8,1429.9L744.1,1429.9L745.4,1430.0L746.8,1430.1L748.1,1430.2L749.5,1430.3L750.8,1430.4L752.1,1430.5L753.5,1430.6L754.8,1430.7L756.1,1430.9L757.5,1431.0L758.8,1431.1L760.1,1431.3L761.5,1431.4L762.8,1431.6L764.2,1431.7L765.5,1431.9L766.8,1432.1L768.2,1432.3L769.5,1432.5L770.8,1432.7L772.2,1432.9L773.5,1433.1L774.8,1433.3L776.2,1433.6L777.5,1433.8L778.9,1434.0L780.2,1434.3L781.5,1434.5L782.9,1434.8L784.2,1435.1L785.5,1435.3L786.9,1435.6L788.2,1435.8L789.6,1436.1L790.9,1436.3L792.2,1436.6L793.6,1436.9L794.9,1437.1L796.2,1437.4L797.6,1437.6L798.9,1437.9L800.2,1438.1L801.6,1438.3L802.9,1438.6L804.3,1438.8L805.6,1439.1L806.9,1439.3L808.3,1439.5L809.6,1439.8L810.9,1440.0L812.3,1440.2L813.6,1440.5L814.9,1440.7L816.3,1441.0L817.6,1441.2L819.0,1441.5L820.3,1441.8L821.6,1442.1L823.0,1442.4L824.3,1442.7L825.6,1443.0L827.0,1443.3L828.3,1443.7L829.6,1444.0L831.0,1444.4L832.3,1444.8L833.7,1445.3L835.0,1445.7L836.3,1446.2L837.7,1446.7L839.0,1447.2L840.3,1447.7L841.7,1448.2L843.0,1448.8L844.3,1449.4L845.7,1450.0L847.0,1450.6L848.4,1451.2L849.7,1451.8L851.0,1452.4L852.4,1453.1L853.7,1453.7L855.0,1454.3L856.4,1454.9L857.7,1455.6L859.0,1456.2L860.4,1456.8L861.7,1457.4L863.1,1458.0L864.4,1458.6L865.7,1459.2L867.1,1459.8L868.4,1460.4L869.7,1461.0L871.1,1461.5L872.4,1462.1L873.8,1462.7L875.1,1463.2L876.4,1463.8L877.8,1464.3L879.1,1464.8L880.4,1465.4L881.8,1465.9L883.1,1466.4L884.4,1466.9L885.8,1467.5L887.1,1468.0L888.5,1468.5L889.8,1469.0L891.1,1469.4L892.5,1469.9L893.8,1470.4L895.1,1470.9L896.5,1471.3L897.8,1471.8L899.1,1472.2L900.5,1472.7L901.8,1473.1L903.2,1473.6L904.5,1474.0L905.8,1474.4L907.2,1474.8L908.5,1475.2L909.8,1475.6L911.2,1476.0L912.5,1476.4L913.8,1476.8L915.2,1477.2L916.5,1477.6L917.9,1478.0L919.2,1478.4L920.5,1478.8L921.9,1479.2L923.2,1479.6L924.5,1480.0L925.9,1480.4L927.2,1480.8L928.5,1481.2L929.9,1481.7L931.2,1482.1L932.6,1482.5L933.9,1483.0L935.2,1483.4L936.6,1483.9L937.9,1484.3L939.2,1484.8L940.6,1485.3L941.9,1485.8L943.2,1486.3L944.6,1486.8L945.9,1487.3L947.3,1487.8L948.6,1488.3L949.9,1488.8L951.3,1489.4L952.6,1489.9L953.9,1490.4L955.3,1491.0L956.6,1491.5L957.9,1492.0L959.3,1492.5L960.6,1493.1L962.0,1493.6L963.3,1494.1L964.6,1494.6L966.0,1495.1L967.3,1495.6L968.6,1496.1L970.0,1496.6L971.3,1497.1L972.7,1497.5L974.0,1498.0L975.3,1498.5L976.7,1499.0L978.0,1499.4L979.3,1499.9L980.7,1500.4L982.0,1500.9L983.3,1501.4L984.7,1501.9L986.0,1502.4L987.4,1502.9L988.7,1503.4L990.0,1504.0L991.4,1504.6L992.7,1505.2L994.0,1505.8L995.4,1506.4L996.7,1507.0L998.0,1507.7L999.4,1508.4L1000.7,1509.1L1002.1,1509.8L1003.4,1510.6L1004.7,1511.4L1006.1,1512.2L1007.4,1513.0L1008.7,1513.8L1010.1,1514.6L1011.4,1515.5L1012.7,1516.4L1014.1,1517.3L1015.4,1518.2L1016.8,1519.1L1018.1,1520.0L1019.4,1520.9L1020.8,1521.9L1022.1,1522.8L1023.4,1523.7L1024.8,1524.7L1026.1,1525.6L1027.4,1526.6L1028.8,1527.5L1030.1,1528.4L1031.5,1529.4L1032.8,1530.3L1034.1,1531.2L1035.5,1532.1L1036.8,1533.1L1038.1,1534.0L1039.5,1534.9L1040.8,1535.8L1042.1,1536.7L1043.5,1537.5L1044.8,1538.4L1046.2,1539.3L1047.5,1540.2L1048.8,1541.0L1050.2,1541.9L1051.5,1542.8L1052.8,1543.6L1054.2,1544.5L1055.5,1545.3L1056.9,1546.2L1058.2,1547.0L1059.5,1547.9L1060.9,1548.7L1062.2,1549.5L1063.5,1550.4L1064.9,1551.2L1066.2,1552.0L1067.5,1552.8L1068.9,1553.7L1070.2,1554.5L1071.6,1555.3L1072.9,1556.1L1074.2,1556.9L1075.6,1557.7L1076.9,1558.5L1078.2,1559.3L1079.6,1560.1L1080.9,1560.9L1082.2,1561.7L1083.6,1562.5L1084.9,1563.2L1086.3,1564.0L1087.6,1564.8L1088.9,1565.5L1090.3,1566.2L1091.6,1567.0L1092.9,1567.7L1094.3,1568.4L1095.6,1569.1L1096.9,1569.8L1098.3,1570.4L1099.6,1571.1L1101.0,1571.8L1102.3,1572.4L1103.6,1573.0L1105.0,1573.6L1106.3,1574.2L1107.6,1574.8L1109.0,1575.4L1110.3,1576.0L1111.6,1576.5L1113.0,1577.0L1114.3,1577.5L1115.7,1578.0L1117.0,1578.4L1118.3,1578.9L1119.7,1579.3L1121.0,1579.7L1122.3,1580.0L1123.7,1580.4L1125.0,1580.7L1126.3,1581.0L1127.7,1581.3L1129.0,1581.6L1130.4,1581.8L1131.7,1582.0L1133.0,1582.2L1134.4,1582.4L1135.7,1582.6L1137.0,1582.8L1138.4,1582.9L1139.7,1583.1L1141.1,1585.0" fill="none" stroke="#16168a" stroke-width="5.5" stroke-linejoin="round" stroke-linecap="round"/>
<text x="231.0" y="1117.0" font-size="44" text-anchor="start" fill="#1a1a1a" stroke="#1a1a1a" stroke-width="0.6">Ni 2p<tspan font-size="41" dy="13">1/2</tspan><tspan dy="-13">(s)</tspan></text>
<text x="476.0" y="1152.0" font-size="44" text-anchor="start" fill="#1a1a1a" stroke="#1a1a1a" stroke-width="0.6">Ni 2p<tspan font-size="41" dy="13">1/2</tspan></text>
<text x="710.0" y="1161.0" font-size="44" text-anchor="start" fill="#1a1a1a" stroke="#1a1a1a" stroke-width="0.6">Ni 2p<tspan font-size="41" dy="12">3/2</tspan><tspan dy="-12">(s)</tspan></text>
<text x="907.0" y="1077.5" font-size="44" text-anchor="start" fill="#1a1a1a" stroke="#1a1a1a" stroke-width="0.6">NiO</text>
<text x="980.0" y="1091.0" font-size="24" text-anchor="start" fill="#1a1a1a" stroke="#1a1a1a" stroke-width="0.6">x</text>
<text x="961.0" y="1013.0" font-size="44" text-anchor="start" fill="#1a1a1a" stroke="#1a1a1a" stroke-width="0.6">Ni 2p<tspan font-size="41" dy="12">3/2</tspan></text>
<line x1="804.0" y1="1184.0" x2="799.5" y2="1293.8" stroke="#222" stroke-width="2.4"/>
<polygon points="799.0,1305.0 795.7,1291.4 803.4,1291.7" fill="#222"/>
<line x1="848.5" y1="1186.0" x2="856.6" y2="1211.3" stroke="#222" stroke-width="2.4"/>
<polygon points="860.0,1222.0 852.2,1210.4 859.6,1208.0" fill="#222"/>
<line x1="952.5" y1="1096.0" x2="972.5" y2="1240.9" stroke="#222" stroke-width="2.4"/>
<polygon points="974.0,1252.0 968.3,1239.2 976.0,1238.1" fill="#222"/>
<line x1="1088.0" y1="1038.0" x2="1042.7" y2="1169.4" stroke="#222" stroke-width="2.4"/>
<polygon points="1039.0,1180.0 1039.7,1166.0 1047.0,1168.5" fill="#222"/>
<rect x="1479" y="909" width="936" height="688" fill="none" stroke="#4e4e4e" stroke-width="4"/>
<line x1="1589.1" y1="1597.0" x2="1589.1" y2="1590.0" stroke="#4e4e4e" stroke-width="3"/>
<line x1="1699.0" y1="1597.0" x2="1699.0" y2="1584.0" stroke="#4e4e4e" stroke-width="3"/>
<line x1="1808.9" y1="1597.0" x2="1808.9" y2="1590.0" stroke="#4e4e4e" stroke-width="3"/>
<line x1="1918.8" y1="1597.0" x2="1918.8" y2="1584.0" stroke="#4e4e4e" stroke-width="3"/>
<line x1="2028.7" y1="1597.0" x2="2028.7" y2="1590.0" stroke="#4e4e4e" stroke-width="3"/>
<line x1="2138.6" y1="1597.0" x2="2138.6" y2="1584.0" stroke="#4e4e4e" stroke-width="3"/>
<line x1="2248.5" y1="1597.0" x2="2248.5" y2="1590.0" stroke="#4e4e4e" stroke-width="3"/>
<line x1="2358.4" y1="1597.0" x2="2358.4" y2="1584.0" stroke="#4e4e4e" stroke-width="3"/>
<text x="2358.4" y="1645.0" font-size="42" text-anchor="middle" fill="#1a1a1a" stroke="#1a1a1a" stroke-width="0.6">528</text>
<text x="2138.6" y="1645.0" font-size="42" text-anchor="middle" fill="#1a1a1a" stroke="#1a1a1a" stroke-width="0.6">530</text>
<text x="1918.8" y="1645.0" font-size="42" text-anchor="middle" fill="#1a1a1a" stroke="#1a1a1a" stroke-width="0.6">532</text>
<text x="1699.0" y="1645.0" font-size="42" text-anchor="middle" fill="#1a1a1a" stroke="#1a1a1a" stroke-width="0.6">534</text>
<text x="1479.2" y="1645.0" font-size="42" text-anchor="middle" fill="#1a1a1a" stroke="#1a1a1a" stroke-width="0.6">536</text>
<text x="1952.0" y="1706.5" font-size="43.8" text-anchor="middle" fill="#1a1a1a" stroke="#1a1a1a" stroke-width="0.6">Binding energy (eV)</text>
<text x="1438.0" y="1255.5" font-size="43" text-anchor="middle" fill="#1a1a1a" stroke="#1a1a1a" stroke-width="0.6" transform="rotate(-90 1438 1255.5)">Intensity (a.u.)</text>
<text x="2313.5" y="993.0" font-size="54.5" text-anchor="start" fill="#1a1a1a" stroke="#1a1a1a" stroke-width="0.6">(d)</text>
<path d="M1479.2,1495.8L1480.3,1495.6L1481.4,1495.5L1482.5,1495.3L1483.6,1495.2L1484.7,1495.0L1485.8,1494.9L1486.9,1494.7L1488.0,1494.5L1489.1,1494.4L1490.2,1494.2L1491.3,1494.0L1492.4,1493.8L1493.5,1493.7L1494.6,1493.5L1495.7,1493.3L1496.8,1493.1L1497.9,1492.9L1499.0,1492.8L1500.1,1492.6L1501.2,1492.4L1502.3,1492.2L1503.4,1492.0L1504.5,1491.8L1505.6,1491.6L1506.7,1491.4L1507.8,1491.2L1508.9,1491.0L1510.0,1490.8L1511.1,1490.6L1512.2,1490.4L1513.3,1490.2L1514.4,1490.0L1515.5,1489.8L1516.6,1489.6L1517.7,1489.4L1518.8,1489.2L1519.9,1489.0L1521.0,1488.8L1522.1,1488.5L1523.2,1488.3L1524.3,1488.1L1525.4,1487.9L1526.5,1487.7L1527.6,1487.5L1528.7,1487.3L1529.8,1487.0L1530.9,1486.8L1532.0,1486.6L1533.1,1486.4L1534.2,1486.2L1535.2,1485.9L1536.3,1485.7L1537.4,1485.5L1538.5,1485.3L1539.6,1485.1L1540.7,1484.8L1541.8,1484.6L1542.9,1484.4L1544.0,1484.2L1545.1,1484.0L1546.2,1483.8L1547.3,1483.5L1548.4,1483.3L1549.5,1483.1L1550.6,1482.9L1551.7,1482.7L1552.8,1482.5L1553.9,1482.3L1555.0,1482.1L1556.1,1481.8L1557.2,1481.6L1558.3,1481.4L1559.4,1481.2L1560.5,1481.0L1561.6,1480.8L1562.7,1480.6L1563.8,1480.4L1564.9,1480.2L1566.0,1480.0L1567.1,1479.8L1568.2,1479.7L1569.3,1479.5L1570.4,1479.3L1571.5,1479.1L1572.6,1478.9L1573.7,1478.7L1574.8,1478.6L1575.9,1478.4L1577.0,1478.2L1578.1,1478.1L1579.2,1477.9L1580.3,1477.7L1581.4,1477.6L1582.5,1477.4L1583.6,1477.3L1584.7,1477.1L1585.8,1477.0L1586.9,1476.8L1588.0,1476.7L1589.1,1476.6L1590.2,1476.4L1591.3,1476.3L1592.4,1476.2L1593.5,1476.1L1594.6,1475.9L1595.7,1475.8L1596.8,1475.7L1597.9,1475.6L1599.0,1475.5L1600.1,1475.4L1601.2,1475.3L1602.3,1475.2L1603.4,1475.1L1604.5,1475.1L1605.6,1475.0L1606.7,1474.9L1607.8,1474.8L1608.9,1474.8L1610.0,1474.7L1611.1,1474.7L1612.2,1474.6L1613.3,1474.6L1614.4,1474.5L1615.5,1474.5L1616.6,1474.5L1617.7,1474.4L1618.8,1474.4L1619.9,1474.4L1621.0,1474.4L1622.1,1474.4L1623.2,1474.4L1624.3,1474.4L1625.4,1474.4L1626.5,1474.4L1627.6,1474.4L1628.7,1474.4L1629.8,1474.4L1630.9,1474.5L1632.0,1474.5L1633.1,1474.5L1634.2,1474.6L1635.3,1474.6L1636.4,1474.7L1637.5,1474.7L1638.6,1474.8L1639.7,1474.9L1640.8,1474.9L1641.9,1475.0L1643.0,1475.1L1644.1,1475.2L1645.1,1475.3L1646.2,1475.3L1647.3,1475.4L1648.4,1475.5L1649.5,1475.6L1650.6,1475.8L1651.7,1475.9L1652.8,1476.0L1653.9,1476.1L1655.0,1476.2L1656.1,1476.4L1657.2,1476.5L1658.3,1476.6L1659.4,1476.8L1660.5,1476.9L1661.6,1477.1L1662.7,1477.2L1663.8,1477.4L1664.9,1477.5L1666.0,1477.7L1667.1,1477.8L1668.2,1478.0L1669.3,1478.2L1670.4,1478.4L1671.5,1478.5L1672.6,1478.7L1673.7,1478.9L1674.8,1479.1L1675.9,1479.3L1677.0,1479.5L1678.1,1479.7L1679.2,1479.9L1680.3,1480.1L1681.4,1480.3L1682.5,1480.5L1683.6,1480.7L1684.7,1480.9L1685.8,1481.1L1686.9,1481.3L1688.0,1481.5L1689.1,1481.7L1690.2,1481.9L1691.3,1482.2L1692.4,1482.4L1693.5,1482.6L1694.6,1482.8L1695.7,1483.1L1696.8,1483.3L1697.9,1483.5L1699.0,1483.7L1700.1,1484.0L1701.2,1484.2L1702.3,1484.4L1703.4,1484.7L1704.5,1484.9L1705.6,1485.2L1706.7,1485.4L1707.8,1485.6L1708.9,1485.9L1710.0,1486.1L1711.1,1486.3L1712.2,1486.6L1713.3,1486.8L1714.4,1487.1L1715.5,1487.3L1716.6,1487.5L1717.7,1487.8L1718.8,1488.0L1719.9,1488.3L1721.0,1488.5L1722.1,1488.8L1723.2,1489.0L1724.3,1489.2L1725.4,1489.5L1726.5,1489.7L1727.6,1490.0L1728.7,1490.2L1729.8,1490.4L1730.9,1490.7L1732.0,1490.9L1733.1,1491.1L1734.2,1491.4L1735.3,1491.6L1736.4,1491.8L1737.5,1492.1L1738.6,1492.3L1739.7,1492.5L1740.8,1492.8L1741.9,1493.0L1743.0,1493.2L1744.1,1493.4L1745.2,1493.7L1746.3,1493.9L1747.4,1494.1L1748.5,1494.3L1749.6,1494.6L1750.7,1494.8L1751.8,1495.0L1752.9,1495.2L1754.0,1495.4L1755.0,1495.6L1756.1,1495.8L1757.2,1496.0L1758.3,1496.2L1759.4,1496.5L1760.5,1496.7L1761.6,1496.9L1762.7,1497.1L1763.8,1497.3L1764.9,1497.4L1766.0,1497.6L1767.1,1497.8L1768.2,1498.0L1769.3,1498.2L1770.4,1498.4L1771.5,1498.6L1772.6,1498.8L1773.7,1498.9L1774.8,1499.1L1775.9,1499.3L1777.0,1499.5L1778.1,1499.6L1779.2,1499.8L1780.3,1500.0L1781.4,1500.2L1782.5,1500.3L1783.6,1500.5L1784.7,1500.6L1785.8,1500.8L1786.9,1501.0L1788.0,1501.1L1789.1,1501.3L1790.2,1501.4L1791.3,1501.6L1792.4,1501.7L1793.5,1501.9L1794.6,1502.0L1795.7,1502.1L1796.8,1502.3L1797.9,1502.4L1799.0,1502.6L1800.1,1502.7L1801.2,1502.8L1802.3,1503.0L1803.4,1503.1L1804.5,1503.2L1805.6,1503.3L1806.7,1503.5L1807.8,1503.6L1808.9,1503.7L1810.0,1503.8L1811.1,1503.9L1812.2,1504.1L1813.3,1504.2L1814.4,1504.3L1815.5,1504.4L1816.6,1504.5L1817.7,1504.6L1818.8,1504.7L1819.9,1504.8L1821.0,1504.9L1822.1,1505.0L1823.2,1505.1L1824.3,1505.2L1825.4,1505.3L1826.5,1505.4L1827.6,1505.5L1828.7,1505.6L1829.8,1505.7L1830.9,1505.8L1832.0,1505.9L1833.1,1506.0L1834.2,1506.0L1835.3,1506.1L1836.4,1506.2L1837.5,1506.3L1838.6,1506.4L1839.7,1506.4L1840.8,1506.5L1841.9,1506.6L1843.0,1506.7L1844.1,1506.7L1845.2,1506.8L1846.3,1506.9L1847.4,1507.0L1848.5,1507.0L1849.6,1507.1L1850.7,1507.2L1851.8,1507.2L1852.9,1507.3L1854.0,1507.4L1855.1,1507.4L1856.2,1507.5L1857.3,1507.5L1858.4,1507.6L1859.5,1507.7L1860.6,1507.7L1861.7,1507.8L1862.8,1507.8L1863.9,1507.9L1864.9,1508.0L1866.0,1508.0L1867.1,1508.1L1868.2,1508.1L1869.3,1508.2L1870.4,1508.2L1871.5,1508.3L1872.6,1508.3L1873.7,1508.4L1874.8,1508.4L1875.9,1508.5L1877.0,1508.5L1878.1,1508.6L1879.2,1508.6L1880.3,1508.6L1881.4,1508.7L1882.5,1508.7L1883.6,1508.8L1884.7,1508.8L1885.8,1508.9L1886.9,1508.9L1888.0,1508.9L1889.1,1509.0L1890.2,1509.0L1891.3,1509.1L1892.4,1509.1L1893.5,1509.1L1894.6,1509.2L1895.7,1509.2L1896.8,1509.2L1897.9,1509.3L1899.0,1509.3L1900.1,1509.3L1901.2,1509.4L1902.3,1509.4L1903.4,1509.5L1904.5,1509.5L1905.6,1509.5L1906.7,1509.5L1907.8,1509.6L1908.9,1509.6L1910.0,1509.6L1911.1,1509.7L1912.2,1509.7L1913.3,1509.7L1914.4,1509.8L1915.5,1509.8L1916.6,1509.8L1917.7,1509.8L1918.8,1509.9L1919.9,1509.9L1921.0,1509.9L1922.1,1510.0L1923.2,1510.0L1924.3,1510.0L1925.4,1510.0L1926.5,1510.1L1927.6,1510.1L1928.7,1510.1L1929.8,1510.1L1930.9,1510.2L1932.0,1510.2L1933.1,1510.2L1934.2,1510.2L1935.3,1510.3L1936.4,1510.3L1937.5,1510.3L1938.6,1510.3L1939.7,1510.4L1940.8,1510.4L1941.9,1510.4L1943.0,1510.4L1944.1,1510.4L1945.2,1510.5L1946.3,1510.5L1947.4,1510.5L1948.5,1510.5L1949.6,1510.6L1950.7,1510.6L1951.8,1510.6L1952.9,1510.6L1954.0,1510.6L1955.1,1510.7L1956.2,1510.7L1957.3,1510.7L1958.4,1510.7L1959.5,1510.8L1960.6,1510.8L1961.7,1510.8L1962.8,1510.8L1963.9,1510.8L1965.0,1510.9L1966.1,1510.9L1967.2,1510.9L1968.3,1510.9L1969.4,1510.9L1970.5,1511.0L1971.6,1511.0L1972.7,1511.0L1973.8,1511.0L1974.8,1511.0L1975.9,1511.1L1977.0,1511.1L1978.1,1511.1L1979.2,1511.1L1980.3,1511.1" fill="none" stroke="#e62ae0" stroke-width="5" stroke-linejoin="round" stroke-linecap="round"/>
<path d="M1479.2,1503.4L1480.3,1503.4L1481.4,1503.4L1482.5,1503.4L1483.6,1503.4L1484.7,1503.4L1485.8,1503.4L1486.9,1503.4L1488.0,1503.4L1489.1,1503.4L1490.2,1503.4L1491.3,1503.4L1492.4,1503.4L1493.5,1503.4L1494.6,1503.4L1495.7,1503.3L1496.8,1503.3L1497.9,1503.3L1499.0,1503.3L1500.1,1503.3L1501.2,1503.3L1502.3,1503.3L1503.4,1503.3L1504.5,1503.3L1505.6,1503.3L1506.7,1503.3L1507.8,1503.2L1508.9,1503.2L1510.0,1503.2L1511.1,1503.2L1512.2,1503.2L1513.3,1503.2L1514.4,1503.1L1515.5,1503.1L1516.6,1503.1L1517.7,1503.1L1518.8,1503.1L1519.9,1503.0L1521.0,1503.0L1522.1,1503.0L1523.2,1502.9L1524.3,1502.9L1525.4,1502.9L1526.5,1502.8L1527.6,1502.8L1528.7,1502.8L1529.8,1502.7L1530.9,1502.7L1532.0,1502.7L1533.1,1502.6L1534.2,1502.6L1535.2,1502.5L1536.3,1502.5L1537.4,1502.4L1538.5,1502.4L1539.6,1502.3L1540.7,1502.3L1541.8,1502.2L1542.9,1502.1L1544.0,1502.1L1545.1,1502.0L1546.2,1502.0L1547.3,1501.9L1548.4,1501.8L1549.5,1501.7L1550.6,1501.7L1551.7,1501.6L1552.8,1501.5L1553.9,1501.4L1555.0,1501.3L1556.1,1501.2L1557.2,1501.1L1558.3,1501.0L1559.4,1500.9L1560.5,1500.8L1561.6,1500.7L1562.7,1500.6L1563.8,1500.5L1564.9,1500.4L1566.0,1500.3L1567.1,1500.1L1568.2,1500.0L1569.3,1499.9L1570.4,1499.7L1571.5,1499.6L1572.6,1499.5L1573.7,1499.3L1574.8,1499.2L1575.9,1499.0L1577.0,1498.9L1578.1,1498.7L1579.2,1498.5L1580.3,1498.4L1581.4,1498.2L1582.5,1498.0L1583.6,1497.8L1584.7,1497.6L1585.8,1497.4L1586.9,1497.2L1588.0,1497.0L1589.1,1496.8L1590.2,1496.6L1591.3,1496.4L1592.4,1496.2L1593.5,1496.0L1594.6,1495.7L1595.7,1495.5L1596.8,1495.3L1597.9,1495.0L1599.0,1494.8L1600.1,1494.5L1601.2,1494.3L1602.3,1494.0L1603.4,1493.7L1604.5,1493.5L1605.6,1493.2L1606.7,1492.9L1607.8,1492.6L1608.9,1492.3L1610.0,1492.0L1611.1,1491.7L1612.2,1491.4L1613.3,1491.1L1614.4,1490.8L1615.5,1490.5L1616.6,1490.2L1617.7,1489.8L1618.8,1489.5L1619.9,1489.2L1621.0,1488.8L1622.1,1488.5L1623.2,1488.1L1624.3,1487.8L1625.4,1487.4L1626.5,1487.1L1627.6,1486.7L1628.7,1486.3L1629.8,1486.0L1630.9,1485.6L1632.0,1485.2L1633.1,1484.8L1634.2,1484.4L1635.3,1484.0L1636.4,1483.6L1637.5,1483.2L1638.6,1482.8L1639.7,1482.4L1640.8,1482.0L1641.9,1481.6L1643.0,1481.2L1644.1,1480.8L1645.1,1480.4L1646.2,1480.0L1647.3,1479.6L1648.4,1479.1L1649.5,1478.7L1650.6,1478.3L1651.7,1477.9L1652.8,1477.4L1653.9,1477.0L1655.0,1476.6L1656.1,1476.2L1657.2,1475.8L1658.3,1475.3L1659.4,1474.9L1660.5,1474.5L1661.6,1474.1L1662.7,1473.6L1663.8,1473.2L1664.9,1472.8L1666.0,1472.4L1667.1,1472.0L1668.2,1471.6L1669.3,1471.1L1670.4,1470.7L1671.5,1470.3L1672.6,1469.9L1673.7,1469.5L1674.8,1469.1L1675.9,1468.7L1677.0,1468.4L1678.1,1468.0L1679.2,1467.6L1680.3,1467.2L1681.4,1466.9L1682.5,1466.5L1683.6,1466.1L1684.7,1465.8L1685.8,1465.4L1686.9,1465.1L1688.0,1464.8L1689.1,1464.4L1690.2,1464.1L1691.3,1463.8L1692.4,1463.5L1693.5,1463.2L1694.6,1462.9L1695.7,1462.6L1696.8,1462.3L1697.9,1462.1L1699.0,1461.8L1700.1,1461.5L1701.2,1461.3L1702.3,1461.1L1703.4,1460.8L1704.5,1460.6L1705.6,1460.4L1706.7,1460.2L1707.8,1460.0L1708.9,1459.8L1710.0,1459.7L1711.1,1459.5L1712.2,1459.4L1713.3,1459.2L1714.4,1459.1L1715.5,1459.0L1716.6,1458.9L1717.7,1458.8L1718.8,1458.7L1719.9,1458.6L1721.0,1458.6L1722.1,1458.5L1723.2,1458.5L1724.3,1458.4L1725.4,1458.4L1726.5,1458.4L1727.6,1458.4L1728.7,1458.4L1729.8,1458.4L1730.9,1458.5L1732.0,1458.5L1733.1,1458.6L1734.2,1458.6L1735.3,1458.7L1736.4,1458.8L1737.5,1458.9L1738.6,1459.0L1739.7,1459.1L1740.8,1459.3L1741.9,1459.4L1743.0,1459.6L1744.1,1459.7L1745.2,1459.9L1746.3,1460.1L1747.4,1460.3L1748.5,1460.5L1749.6,1460.7L1750.7,1460.9L1751.8,1461.2L1752.9,1461.4L1754.0,1461.7L1755.0,1461.9L1756.1,1462.2L1757.2,1462.5L1758.3,1462.8L1759.4,1463.1L1760.5,1463.4L1761.6,1463.7L1762.7,1464.0L1763.8,1464.4L1764.9,1464.7L1766.0,1465.0L1767.1,1465.4L1768.2,1465.7L1769.3,1466.1L1770.4,1466.5L1771.5,1466.9L1772.6,1467.2L1773.7,1467.6L1774.8,1468.0L1775.9,1468.4L1777.0,1468.8L1778.1,1469.2L1779.2,1469.7L1780.3,1470.1L1781.4,1470.5L1782.5,1470.9L1783.6,1471.4L1784.7,1471.8L1785.8,1472.2L1786.9,1472.7L1788.0,1473.1L1789.1,1473.6L1790.2,1474.0L1791.3,1474.5L1792.4,1474.9L1793.5,1475.4L1794.6,1475.8L1795.7,1476.3L1796.8,1476.8L1797.9,1477.2L1799.0,1477.7L1800.1,1478.1L1801.2,1478.6L1802.3,1479.1L1803.4,1479.5L1804.5,1480.0L1805.6,1480.4L1806.7,1480.9L1807.8,1481.4L1808.9,1481.8L1810.0,1482.3L1811.1,1482.7L1812.2,1483.2L1813.3,1483.6L1814.4,1484.1L1815.5,1484.5L1816.6,1485.0L1817.7,1485.4L1818.8,1485.9L1819.9,1486.3L1821.0,1486.7L1822.1,1487.2L1823.2,1487.6L1824.3,1488.0L1825.4,1488.4L1826.5,1488.9L1827.6,1489.3L1828.7,1489.7L1829.8,1490.1L1830.9,1490.5L1832.0,1490.9L1833.1,1491.3L1834.2,1491.7L1835.3,1492.1L1836.4,1492.5L1837.5,1492.8L1838.6,1493.2L1839.7,1493.6L1840.8,1493.9L1841.9,1494.3L1843.0,1494.7L1844.1,1495.0L1845.2,1495.4L1846.3,1495.7L1847.4,1496.0L1848.5,1496.4L1849.6,1496.7L1850.7,1497.0L1851.8,1497.3L1852.9,1497.6L1854.0,1498.0L1855.1,1498.3L1856.2,1498.6L1857.3,1498.8L1858.4,1499.1L1859.5,1499.4L1860.6,1499.7L1861.7,1500.0L1862.8,1500.2L1863.9,1500.5L1864.9,1500.8L1866.0,1501.0L1867.1,1501.3L1868.2,1501.5L1869.3,1501.7L1870.4,1502.0L1871.5,1502.2L1872.6,1502.4L1873.7,1502.7L1874.8,1502.9L1875.9,1503.1L1877.0,1503.3L1878.1,1503.5L1879.2,1503.7L1880.3,1503.9L1881.4,1504.1L1882.5,1504.3L1883.6,1504.5L1884.7,1504.6L1885.8,1504.8L1886.9,1505.0L1888.0,1505.2L1889.1,1505.3L1890.2,1505.5L1891.3,1505.6L1892.4,1505.8L1893.5,1505.9L1894.6,1506.1L1895.7,1506.2L1896.8,1506.4L1897.9,1506.5L1899.0,1506.6L1900.1,1506.8L1901.2,1506.9L1902.3,1507.0L1903.4,1507.1L1904.5,1507.2L1905.6,1507.4L1906.7,1507.5L1907.8,1507.6L1908.9,1507.7L1910.0,1507.8L1911.1,1507.9L1912.2,1508.0L1913.3,1508.1L1914.4,1508.2L1915.5,1508.3L1916.6,1508.3L1917.7,1508.4L1918.8,1508.5L1919.9,1508.6L1921.0,1508.7L1922.1,1508.7L1923.2,1508.8L1924.3,1508.9L1925.4,1509.0L1926.5,1509.0L1927.6,1509.1L1928.7,1509.2L1929.8,1509.2L1930.9,1509.3L1932.0,1509.4L1933.1,1509.4L1934.2,1509.5L1935.3,1509.5L1936.4,1509.6L1937.5,1509.6L1938.6,1509.7L1939.7,1509.7L1940.8,1509.8L1941.9,1509.8L1943.0,1509.9L1944.1,1509.9L1945.2,1510.0L1946.3,1510.0L1947.4,1510.1L1948.5,1510.1L1949.6,1510.2L1950.7,1510.2L1951.8,1510.2L1952.9,1510.3L1954.0,1510.3L1955.1,1510.4L1956.2,1510.4L1957.3,1510.4L1958.4,1510.5L1959.5,1510.5L1960.6,1510.5L1961.7,1510.6L1962.8,1510.6L1963.9,1510.6L1965.0,1510.7L1966.1,1510.7L1967.2,1510.7L1968.3,1510.7L1969.4,1510.8L1970.5,1510.8L1971.6,1510.8L1972.7,1510.9L1973.8,1510.9L1974.8,1510.9L1975.9,1510.9L1977.0,1511.0L1978.1,1511.0L1979.2,1511.0L1980.3,1511.0L1981.4,1511.1L1982.5,1511.1L1983.6,1511.1L1984.7,1511.1L1985.8,1511.2L1986.9,1511.2L1988.0,1511.2L1989.1,1511.2L1990.2,1511.3L1991.3,1511.3L1992.4,1511.3L1993.5,1511.3L1994.6,1511.4L1995.7,1511.4L1996.8,1511.4L1997.9,1511.4L1999.0,1511.4L2000.1,1511.5L2001.2,1511.5L2002.3,1511.5L2003.4,1511.5L2004.5,1511.6L2005.6,1511.6L2006.7,1511.6L2007.8,1511.6L2008.9,1511.6L2010.0,1511.7L2011.1,1511.7L2012.2,1511.7L2013.3,1511.7L2014.4,1511.7L2015.5,1511.8L2016.6,1511.8L2017.7,1511.8" fill="none" stroke="#2a74a4" stroke-width="5" stroke-linejoin="round" stroke-linecap="round"/>
<path d="M1573.7,1503.9L1574.8,1503.9L1575.9,1503.9L1577.0,1503.9L1578.1,1503.9L1579.2,1503.9L1580.3,1503.9L1581.4,1503.9L1582.5,1503.9L1583.6,1503.9L1584.7,1503.9L1585.8,1503.9L1586.9,1503.8L1588.0,1503.8L1589.1,1503.8L1590.2,1503.8L1591.3,1503.8L1592.4,1503.8L1593.5,1503.8L1594.6,1503.7L1595.7,1503.7L1596.8,1503.7L1597.9,1503.7L1599.0,1503.7L1600.1,1503.7L1601.2,1503.6L1602.3,1503.6L1603.4,1503.6L1604.5,1503.5L1605.6,1503.5L1606.7,1503.5L1607.8,1503.4L1608.9,1503.4L1610.0,1503.4L1611.1,1503.3L1612.2,1503.3L1613.3,1503.2L1614.4,1503.2L1615.5,1503.1L1616.6,1503.1L1617.7,1503.0L1618.8,1503.0L1619.9,1502.9L1621.0,1502.9L1622.1,1502.8L1623.2,1502.7L1624.3,1502.6L1625.4,1502.6L1626.5,1502.5L1627.6,1502.4L1628.7,1502.3L1629.8,1502.2L1630.9,1502.1L1632.0,1502.0L1633.1,1501.9L1634.2,1501.8L1635.3,1501.7L1636.4,1501.6L1637.5,1501.4L1638.6,1501.3L1639.7,1501.2L1640.8,1501.0L1641.9,1500.9L1643.0,1500.7L1644.1,1500.5L1645.1,1500.4L1646.2,1500.2L1647.3,1500.0L1648.4,1499.8L1649.5,1499.6L1650.6,1499.4L1651.7,1499.2L1652.8,1498.9L1653.9,1498.7L1655.0,1498.4L1656.1,1498.2L1657.2,1497.9L1658.3,1497.6L1659.4,1497.4L1660.5,1497.1L1661.6,1496.7L1662.7,1496.4L1663.8,1496.1L1664.9,1495.7L1666.0,1495.4L1667.1,1495.0L1668.2,1494.6L1669.3,1494.2L1670.4,1493.8L1671.5,1493.4L1672.6,1492.9L1673.7,1492.5L1674.8,1492.0L1675.9,1491.5L1677.0,1491.0L1678.1,1490.5L1679.2,1489.9L1680.3,1489.4L1681.4,1488.8L1682.5,1488.2L1683.6,1487.6L1684.7,1486.9L1685.8,1486.3L1686.9,1485.6L1688.0,1484.9L1689.1,1484.2L1690.2,1483.4L1691.3,1482.7L1692.4,1481.9L1693.5,1481.1L1694.6,1480.2L1695.7,1479.4L1696.8,1478.5L1697.9,1477.6L1699.0,1476.6L1700.1,1475.6L1701.2,1474.6L1702.3,1473.6L1703.4,1472.6L1704.5,1471.5L1705.6,1470.4L1706.7,1469.3L1707.8,1468.1L1708.9,1466.9L1710.0,1465.7L1711.1,1464.4L1712.2,1463.1L1713.3,1461.8L1714.4,1460.4L1715.5,1459.0L1716.6,1457.6L1717.7,1456.1L1718.8,1454.6L1719.9,1453.1L1721.0,1451.5L1722.1,1449.9L1723.2,1448.3L1724.3,1446.6L1725.4,1444.9L1726.5,1443.2L1727.6,1441.4L1728.7,1439.6L1729.8,1437.7L1730.9,1435.8L1732.0,1433.8L1733.1,1431.9L1734.2,1429.8L1735.3,1427.8L1736.4,1425.7L1737.5,1423.5L1738.6,1421.3L1739.7,1419.1L1740.8,1416.8L1741.9,1414.5L1743.0,1412.2L1744.1,1409.8L1745.2,1407.4L1746.3,1404.9L1747.4,1402.4L1748.5,1399.8L1749.6,1397.2L1750.7,1394.6L1751.8,1391.9L1752.9,1389.2L1754.0,1386.5L1755.0,1383.7L1756.1,1380.8L1757.2,1377.9L1758.3,1375.0L1759.4,1372.1L1760.5,1369.1L1761.6,1366.0L1762.7,1363.0L1763.8,1359.9L1764.9,1356.7L1766.0,1353.5L1767.1,1350.3L1768.2,1347.1L1769.3,1343.8L1770.4,1340.5L1771.5,1337.1L1772.6,1333.7L1773.7,1330.3L1774.8,1326.8L1775.9,1323.4L1777.0,1319.9L1778.1,1316.3L1779.2,1312.8L1780.3,1309.2L1781.4,1305.6L1782.5,1301.9L1783.6,1298.3L1784.7,1294.6L1785.8,1290.9L1786.9,1287.2L1788.0,1283.4L1789.1,1279.7L1790.2,1275.9L1791.3,1272.1L1792.4,1268.3L1793.5,1264.5L1794.6,1260.7L1795.7,1256.9L1796.8,1253.0L1797.9,1249.2L1799.0,1245.4L1800.1,1241.5L1801.2,1237.7L1802.3,1233.8L1803.4,1230.0L1804.5,1226.2L1805.6,1222.4L1806.7,1218.5L1807.8,1214.7L1808.9,1210.9L1810.0,1207.1L1811.1,1203.4L1812.2,1199.6L1813.3,1195.9L1814.4,1192.2L1815.5,1188.5L1816.6,1184.8L1817.7,1181.2L1818.8,1177.6L1819.9,1174.0L1821.0,1170.5L1822.1,1166.9L1823.2,1163.5L1824.3,1160.0L1825.4,1156.6L1826.5,1153.3L1827.6,1149.9L1828.7,1146.7L1829.8,1143.4L1830.9,1140.3L1832.0,1137.1L1833.1,1134.0L1834.2,1131.0L1835.3,1128.1L1836.4,1125.1L1837.5,1122.3L1838.6,1119.5L1839.7,1116.8L1840.8,1114.1L1841.9,1111.5L1843.0,1109.0L1844.1,1106.5L1845.2,1104.1L1846.3,1101.8L1847.4,1099.5L1848.5,1097.3L1849.6,1095.2L1850.7,1093.2L1851.8,1091.3L1852.9,1089.4L1854.0,1087.6L1855.1,1085.9L1856.2,1084.3L1857.3,1082.7L1858.4,1081.3L1859.5,1079.9L1860.6,1078.6L1861.7,1077.4L1862.8,1076.3L1863.9,1075.3L1864.9,1074.3L1866.0,1073.5L1867.1,1072.7L1868.2,1072.1L1869.3,1071.5L1870.4,1071.0L1871.5,1070.6L1872.6,1070.3L1873.7,1070.1L1874.8,1070.0L1875.9,1070.0L1877.0,1070.1L1878.1,1070.3L1879.2,1070.5L1880.3,1070.9L1881.4,1071.3L1882.5,1071.8L1883.6,1072.5L1884.7,1073.2L1885.8,1074.0L1886.9,1074.9L1888.0,1075.9L1889.1,1077.0L1890.2,1078.1L1891.3,1079.4L1892.4,1080.7L1893.5,1082.2L1894.6,1083.7L1895.7,1085.3L1896.8,1086.9L1897.9,1088.7L1899.0,1090.6L1900.1,1092.5L1901.2,1094.5L1902.3,1096.6L1903.4,1098.7L1904.5,1101.0L1905.6,1103.3L1906.7,1105.6L1907.8,1108.1L1908.9,1110.6L1910.0,1113.2L1911.1,1115.9L1912.2,1118.6L1913.3,1121.4L1914.4,1124.2L1915.5,1127.1L1916.6,1130.1L1917.7,1133.1L1918.8,1136.2L1919.9,1139.3L1921.0,1142.5L1922.1,1145.7L1923.2,1149.0L1924.3,1152.3L1925.4,1155.7L1926.5,1159.1L1927.6,1162.6L1928.7,1166.0L1929.8,1169.6L1930.9,1173.1L1932.0,1176.7L1933.1,1180.4L1934.2,1184.0L1935.3,1187.7L1936.4,1191.4L1937.5,1195.2L1938.6,1198.9L1939.7,1202.7L1940.8,1206.5L1941.9,1210.3L1943.0,1214.2L1944.1,1218.0L1945.2,1221.9L1946.3,1225.7L1947.4,1229.6L1948.5,1233.5L1949.6,1237.4L1950.7,1241.3L1951.8,1245.2L1952.9,1249.1L1954.0,1252.9L1955.1,1256.8L1956.2,1260.7L1957.3,1264.6L1958.4,1268.4L1959.5,1272.3L1960.6,1276.1L1961.7,1280.0L1962.8,1283.8L1963.9,1287.6L1965.0,1291.4L1966.1,1295.2L1967.2,1298.9L1968.3,1302.6L1969.4,1306.3L1970.5,1310.0L1971.6,1313.7L1972.7,1317.3L1973.8,1320.9L1974.8,1324.5L1975.9,1328.1L1977.0,1331.6L1978.1,1335.1L1979.2,1338.5L1980.3,1342.0L1981.4,1345.4L1982.5,1348.7L1983.6,1352.1L1984.7,1355.4L1985.8,1358.6L1986.9,1361.9L1988.0,1365.0L1989.1,1368.2L1990.2,1371.3L1991.3,1374.4L1992.4,1377.4L1993.5,1380.4L1994.6,1383.4L1995.7,1386.3L1996.8,1389.2L1997.9,1392.0L1999.0,1394.8L2000.1,1397.6L2001.2,1400.3L2002.3,1403.0L2003.4,1405.6L2004.5,1408.2L2005.6,1410.8L2006.7,1413.3L2007.8,1415.8L2008.9,1418.2L2010.0,1420.6L2011.1,1422.9L2012.2,1425.2L2013.3,1427.5L2014.4,1429.7L2015.5,1431.9L2016.6,1434.0L2017.7,1436.1L2018.8,1438.2L2019.9,1440.2L2021.0,1442.2L2022.1,1444.1L2023.2,1446.0L2024.3,1447.9L2025.4,1449.7L2026.5,1451.5L2027.6,1453.3L2028.7,1455.0L2029.8,1456.7L2030.9,1458.3L2032.0,1459.9L2033.1,1461.5L2034.2,1463.0L2035.3,1464.5L2036.4,1466.0L2037.5,1467.4L2038.6,1468.8L2039.7,1470.1L2040.8,1471.5L2041.9,1472.8L2043.0,1474.0L2044.1,1475.2L2045.2,1476.4L2046.3,1477.6L2047.4,1478.8L2048.5,1479.9L2049.6,1480.9L2050.7,1482.0L2051.8,1483.0L2052.9,1484.0L2054.0,1485.0L2055.1,1485.9L2056.2,1486.9L2057.3,1487.8L2058.4,1488.6L2059.5,1489.5L2060.6,1490.3L2061.7,1491.1L2062.8,1491.9L2063.9,1492.6L2065.0,1493.3L2066.1,1494.1L2067.2,1494.7L2068.3,1495.4L2069.4,1496.1L2070.5,1496.7L2071.6,1497.3L2072.7,1497.9L2073.8,1498.5L2074.9,1499.0L2076.0,1499.6L2077.1,1500.1L2078.2,1500.6L2079.3,1501.1L2080.4,1501.5L2081.5,1502.0L2082.6,1502.4L2083.7,1502.9L2084.7,1503.3L2085.8,1503.7L2086.9,1504.1L2088.0,1504.5L2089.1,1504.8L2090.2,1505.2L2091.3,1505.5L2092.4,1505.8L2093.5,1506.2L2094.6,1506.5L2095.7,1506.8L2096.8,1507.0L2097.9,1507.3L2099.0,1507.6L2100.1,1507.9L2101.2,1508.1L2102.3,1508.3L2103.4,1508.6L2104.5,1508.8L2105.6,1509.0L2106.7,1509.2L2107.8,1509.4L2108.9,1509.6L2110.0,1509.8L2111.1,1510.0L2112.2,1510.2L2113.3,1510.3L2114.4,1510.5L2115.5,1510.6L2116.6,1510.8L2117.7,1510.9L2118.8,1511.1L2119.9,1511.2L2121.0,1511.4L2122.1,1511.5L2123.2,1511.6L2124.3,1511.7L2125.4,1511.8L2126.5,1512.0L2127.6,1512.1L2128.7,1512.2L2129.8,1512.3L2130.9,1512.4L2132.0,1512.5L2133.1,1512.5L2134.2,1512.6L2135.3,1512.7L2136.4,1512.8L2137.5,1512.9L2138.6,1512.9L2139.7,1513.0L2140.8,1513.1L2141.9,1513.2L2143.0,1513.2L2144.1,1513.3L2145.2,1513.4L2146.3,1513.4L2147.4,1513.5L2148.5,1513.5L2149.6,1513.6L2150.7,1513.6L2151.8,1513.7L2152.9,1513.8L2154.0,1513.8L2155.1,1513.9L2156.2,1513.9L2157.3,1513.9L2158.4,1514.0L2159.5,1514.0L2160.6,1514.1L2161.7,1514.1L2162.8,1514.2L2163.9,1514.2L2165.0,1514.2L2166.1,1514.3L2167.2,1514.3L2168.3,1514.4L2169.4,1514.4L2170.5,1514.4L2171.6,1514.5L2172.7,1514.5L2173.8,1514.5L2174.9,1514.6L2176.0,1514.6L2177.1,1514.6L2178.2,1514.7" fill="none" stroke="#650c18" stroke-width="5" stroke-linejoin="round" stroke-linecap="round"/>
<path d="M1751.8,1505.7L1752.9,1505.7L1754.0,1505.7L1755.0,1505.8L1756.1,1505.8L1757.2,1505.8L1758.3,1505.8L1759.4,1505.8L1760.5,1505.8L1761.6,1505.8L1762.7,1505.8L1763.8,1505.8L1764.9,1505.9L1766.0,1505.9L1767.1,1505.9L1768.2,1505.9L1769.3,1505.9L1770.4,1505.9L1771.5,1505.9L1772.6,1505.9L1773.7,1505.9L1774.8,1505.9L1775.9,1505.9L1777.0,1505.9L1778.1,1505.9L1779.2,1505.9L1780.3,1505.9L1781.4,1505.8L1782.5,1505.8L1783.6,1505.8L1784.7,1505.8L1785.8,1505.8L1786.9,1505.8L1788.0,1505.7L1789.1,1505.7L1790.2,1505.7L1791.3,1505.6L1792.4,1505.6L1793.5,1505.6L1794.6,1505.5L1795.7,1505.5L1796.8,1505.4L1797.9,1505.4L1799.0,1505.3L1800.1,1505.3L1801.2,1505.2L1802.3,1505.1L1803.4,1505.1L1804.5,1505.0L1805.6,1504.9L1806.7,1504.8L1807.8,1504.7L1808.9,1504.6L1810.0,1504.5L1811.1,1504.4L1812.2,1504.3L1813.3,1504.2L1814.4,1504.1L1815.5,1503.9L1816.6,1503.8L1817.7,1503.6L1818.8,1503.5L1819.9,1503.3L1821.0,1503.1L1822.1,1502.9L1823.2,1502.7L1824.3,1502.5L1825.4,1502.3L1826.5,1502.1L1827.6,1501.9L1828.7,1501.6L1829.8,1501.4L1830.9,1501.1L1832.0,1500.8L1833.1,1500.5L1834.2,1500.2L1835.3,1499.9L1836.4,1499.6L1837.5,1499.2L1838.6,1498.9L1839.7,1498.5L1840.8,1498.1L1841.9,1497.7L1843.0,1497.3L1844.1,1496.8L1845.2,1496.4L1846.3,1495.9L1847.4,1495.4L1848.5,1494.9L1849.6,1494.4L1850.7,1493.8L1851.8,1493.3L1852.9,1492.7L1854.0,1492.1L1855.1,1491.4L1856.2,1490.8L1857.3,1490.1L1858.4,1489.4L1859.5,1488.6L1860.6,1487.9L1861.7,1487.1L1862.8,1486.3L1863.9,1485.5L1864.9,1484.6L1866.0,1483.7L1867.1,1482.8L1868.2,1481.8L1869.3,1480.9L1870.4,1479.9L1871.5,1478.8L1872.6,1477.7L1873.7,1476.6L1874.8,1475.5L1875.9,1474.3L1877.0,1473.1L1878.1,1471.9L1879.2,1470.6L1880.3,1469.3L1881.4,1468.0L1882.5,1466.6L1883.6,1465.2L1884.7,1463.7L1885.8,1462.2L1886.9,1460.7L1888.0,1459.1L1889.1,1457.5L1890.2,1455.8L1891.3,1454.1L1892.4,1452.4L1893.5,1450.6L1894.6,1448.8L1895.7,1446.9L1896.8,1445.0L1897.9,1443.1L1899.0,1441.1L1900.1,1439.1L1901.2,1437.0L1902.3,1434.8L1903.4,1432.7L1904.5,1430.5L1905.6,1428.2L1906.7,1425.9L1907.8,1423.5L1908.9,1421.1L1910.0,1418.7L1911.1,1416.2L1912.2,1413.6L1913.3,1411.1L1914.4,1408.4L1915.5,1405.8L1916.6,1403.0L1917.7,1400.3L1918.8,1397.5L1919.9,1394.6L1921.0,1391.7L1922.1,1388.7L1923.2,1385.8L1924.3,1382.7L1925.4,1379.6L1926.5,1376.5L1927.6,1373.4L1928.7,1370.2L1929.8,1366.9L1930.9,1363.6L1932.0,1360.3L1933.1,1357.0L1934.2,1353.6L1935.3,1350.1L1936.4,1346.7L1937.5,1343.1L1938.6,1339.6L1939.7,1336.0L1940.8,1332.4L1941.9,1328.8L1943.0,1325.1L1944.1,1321.4L1945.2,1317.7L1946.3,1314.0L1947.4,1310.2L1948.5,1306.4L1949.6,1302.6L1950.7,1298.8L1951.8,1294.9L1952.9,1291.0L1954.0,1287.2L1955.1,1283.3L1956.2,1279.4L1957.3,1275.4L1958.4,1271.5L1959.5,1267.6L1960.6,1263.6L1961.7,1259.7L1962.8,1255.8L1963.9,1251.8L1965.0,1247.9L1966.1,1244.0L1967.2,1240.0L1968.3,1236.1L1969.4,1232.2L1970.5,1228.3L1971.6,1224.4L1972.7,1220.6L1973.8,1216.8L1974.8,1212.9L1975.9,1209.2L1977.0,1205.4L1978.1,1201.7L1979.2,1198.0L1980.3,1194.3L1981.4,1190.7L1982.5,1187.1L1983.6,1183.5L1984.7,1180.0L1985.8,1176.5L1986.9,1173.1L1988.0,1169.7L1989.1,1166.4L1990.2,1163.1L1991.3,1159.9L1992.4,1156.8L1993.5,1153.7L1994.6,1150.6L1995.7,1147.7L1996.8,1144.8L1997.9,1141.9L1999.0,1139.2L2000.1,1136.5L2001.2,1133.8L2002.3,1131.3L2003.4,1128.8L2004.5,1126.4L2005.6,1124.1L2006.7,1121.9L2007.8,1119.7L2008.9,1117.7L2010.0,1115.7L2011.1,1113.8L2012.2,1112.0L2013.3,1110.3L2014.4,1108.7L2015.5,1107.1L2016.6,1105.7L2017.7,1104.4L2018.8,1103.1L2019.9,1102.0L2021.0,1101.0L2022.1,1100.0L2023.2,1099.2L2024.3,1098.4L2025.4,1097.8L2026.5,1097.2L2027.6,1096.8L2028.7,1096.5L2029.8,1096.2L2030.9,1096.1L2032.0,1096.1L2033.1,1096.1L2034.2,1096.3L2035.3,1096.6L2036.4,1097.0L2037.5,1097.4L2038.6,1098.0L2039.7,1098.7L2040.8,1099.5L2041.9,1100.4L2043.0,1101.3L2044.1,1102.4L2045.2,1103.6L2046.3,1104.9L2047.4,1106.2L2048.5,1107.7L2049.6,1109.3L2050.7,1110.9L2051.8,1112.7L2052.9,1114.5L2054.0,1116.4L2055.1,1118.5L2056.2,1120.6L2057.3,1122.7L2058.4,1125.0L2059.5,1127.4L2060.6,1129.8L2061.7,1132.3L2062.8,1134.9L2063.9,1137.6L2065.0,1140.3L2066.1,1143.1L2067.2,1146.0L2068.3,1148.9L2069.4,1151.9L2070.5,1155.0L2071.6,1158.1L2072.7,1161.3L2073.8,1164.6L2074.9,1167.9L2076.0,1171.3L2077.1,1174.7L2078.2,1178.1L2079.3,1181.6L2080.4,1185.2L2081.5,1188.8L2082.6,1192.4L2083.7,1196.1L2084.7,1199.8L2085.8,1203.5L2086.9,1207.3L2088.0,1211.1L2089.1,1214.9L2090.2,1218.8L2091.3,1222.7L2092.4,1226.6L2093.5,1230.5L2094.6,1234.4L2095.7,1238.3L2096.8,1242.3L2097.9,1246.3L2099.0,1250.2L2100.1,1254.2L2101.2,1258.2L2102.3,1262.2L2103.4,1266.2L2104.5,1270.1L2105.6,1274.1L2106.7,1278.1L2107.8,1282.0L2108.9,1286.0L2110.0,1289.9L2111.1,1293.8L2112.2,1297.8L2113.3,1301.7L2114.4,1305.5L2115.5,1309.4L2116.6,1313.2L2117.7,1317.0L2118.8,1320.8L2119.9,1324.6L2121.0,1328.3L2122.1,1332.0L2123.2,1335.7L2124.3,1339.3L2125.4,1343.0L2126.5,1346.5L2127.6,1350.1L2128.7,1353.6L2129.8,1357.1L2130.9,1360.5L2132.0,1363.9L2133.1,1367.3L2134.2,1370.6L2135.3,1373.9L2136.4,1377.1L2137.5,1380.4L2138.6,1383.5L2139.7,1386.6L2140.8,1389.7L2141.9,1392.7L2143.0,1395.7L2144.1,1398.7L2145.2,1401.6L2146.3,1404.4L2147.4,1407.3L2148.5,1410.0L2149.6,1412.7L2150.7,1415.4L2151.8,1418.0L2152.9,1420.6L2154.0,1423.2L2155.1,1425.7L2156.2,1428.1L2157.3,1430.5L2158.4,1432.9L2159.5,1435.2L2160.6,1437.4L2161.7,1439.7L2162.8,1441.8L2163.9,1444.0L2165.0,1446.1L2166.1,1448.1L2167.2,1450.1L2168.3,1452.1L2169.4,1454.0L2170.5,1455.8L2171.6,1457.7L2172.7,1459.5L2173.8,1461.2L2174.9,1462.9L2176.0,1464.6L2177.1,1466.2L2178.2,1467.8L2179.3,1469.3L2180.4,1470.8L2181.5,1472.3L2182.6,1473.7L2183.7,1475.1L2184.8,1476.5L2185.9,1477.8L2187.0,1479.1L2188.1,1480.3L2189.2,1481.6L2190.3,1482.7L2191.4,1483.9L2192.5,1485.0L2193.6,1486.1L2194.6,1487.2L2195.7,1488.2L2196.8,1489.2L2197.9,1490.2L2199.0,1491.1L2200.1,1492.0L2201.2,1492.9L2202.3,1493.8L2203.4,1494.6L2204.5,1495.4L2205.6,1496.2L2206.7,1497.0L2207.8,1497.7L2208.9,1498.4L2210.0,1499.1L2211.1,1499.8L2212.2,1500.4L2213.3,1501.0L2214.4,1501.6L2215.5,1502.2L2216.6,1502.8L2217.7,1503.3L2218.8,1503.9L2219.9,1504.4L2221.0,1504.9L2222.1,1505.3L2223.2,1505.8L2224.3,1506.2L2225.4,1506.7L2226.5,1507.1L2227.6,1507.5L2228.7,1507.9L2229.8,1508.2L2230.9,1508.6L2232.0,1508.9L2233.1,1509.3L2234.2,1509.6L2235.3,1509.9L2236.4,1510.2L2237.5,1510.5L2238.6,1510.8L2239.7,1511.0L2240.8,1511.3L2241.9,1511.5L2243.0,1511.8L2244.1,1512.0L2245.2,1512.2L2246.3,1512.4L2247.4,1512.6L2248.5,1512.8L2249.6,1513.0L2250.7,1513.2L2251.8,1513.4L2252.9,1513.6L2254.0,1513.7L2255.1,1513.9L2256.2,1514.0L2257.3,1514.2L2258.4,1514.3L2259.5,1514.5L2260.6,1514.6L2261.7,1514.7L2262.8,1514.8L2263.9,1514.9L2265.0,1515.1L2266.1,1515.2L2267.2,1515.3L2268.3,1515.4L2269.4,1515.5L2270.5,1515.6L2271.6,1515.7L2272.7,1515.7L2273.8,1515.8L2274.9,1515.9L2276.0,1516.0L2277.1,1516.1L2278.2,1516.1L2279.3,1516.2L2280.4,1516.3L2281.5,1516.4L2282.6,1516.4L2283.7,1516.5L2284.8,1516.5L2285.9,1516.6L2287.0,1516.7L2288.1,1516.7L2289.2,1516.8L2290.3,1516.8L2291.4,1516.9L2292.5,1516.9L2293.6,1517.0L2294.7,1517.0L2295.8,1517.1L2296.9,1517.1L2298.0,1517.2L2299.1,1517.2L2300.2,1517.3L2301.3,1517.3L2302.4,1517.3L2303.4,1517.4L2304.5,1517.4L2305.6,1517.5L2306.7,1517.5L2307.8,1517.5L2308.9,1517.6L2310.0,1517.6L2311.1,1517.6L2312.2,1517.7" fill="none" stroke="#7a7a16" stroke-width="5" stroke-linejoin="round" stroke-linecap="round"/>
<path d="M1918.8,1510.0L1919.9,1510.0L1921.0,1510.0L1922.1,1510.0L1923.2,1510.1L1924.3,1510.1L1925.4,1510.1L1926.5,1510.1L1927.6,1510.1L1928.7,1510.2L1929.8,1510.2L1930.9,1510.2L1932.0,1510.2L1933.1,1510.2L1934.2,1510.3L1935.3,1510.3L1936.4,1510.3L1937.5,1510.3L1938.6,1510.3L1939.7,1510.3L1940.8,1510.4L1941.9,1510.4L1943.0,1510.4L1944.1,1510.4L1945.2,1510.4L1946.3,1510.4L1947.4,1510.5L1948.5,1510.5L1949.6,1510.5L1950.7,1510.5L1951.8,1510.5L1952.9,1510.5L1954.0,1510.5L1955.1,1510.6L1956.2,1510.6L1957.3,1510.6L1958.4,1510.6L1959.5,1510.6L1960.6,1510.6L1961.7,1510.6L1962.8,1510.6L1963.9,1510.6L1965.0,1510.7L1966.1,1510.7L1967.2,1510.7L1968.3,1510.7L1969.4,1510.7L1970.5,1510.7L1971.6,1510.7L1972.7,1510.7L1973.8,1510.7L1974.8,1510.7L1975.9,1510.7L1977.0,1510.7L1978.1,1510.7L1979.2,1510.7L1980.3,1510.7L1981.4,1510.7L1982.5,1510.7L1983.6,1510.7L1984.7,1510.7L1985.8,1510.6L1986.9,1510.6L1988.0,1510.6L1989.1,1510.6L1990.2,1510.6L1991.3,1510.6L1992.4,1510.6L1993.5,1510.5L1994.6,1510.5L1995.7,1510.5L1996.8,1510.5L1997.9,1510.4L1999.0,1510.4L2000.1,1510.4L2001.2,1510.3L2002.3,1510.3L2003.4,1510.3L2004.5,1510.2L2005.6,1510.2L2006.7,1510.1L2007.8,1510.1L2008.9,1510.0L2010.0,1510.0L2011.1,1509.9L2012.2,1509.9L2013.3,1509.8L2014.4,1509.8L2015.5,1509.7L2016.6,1509.6L2017.7,1509.5L2018.8,1509.5L2019.9,1509.4L2021.0,1509.3L2022.1,1509.2L2023.2,1509.1L2024.3,1509.0L2025.4,1508.9L2026.5,1508.8L2027.6,1508.7L2028.7,1508.6L2029.8,1508.5L2030.9,1508.4L2032.0,1508.3L2033.1,1508.2L2034.2,1508.0L2035.3,1507.9L2036.4,1507.8L2037.5,1507.6L2038.6,1507.5L2039.7,1507.3L2040.8,1507.1L2041.9,1507.0L2043.0,1506.8L2044.1,1506.6L2045.2,1506.5L2046.3,1506.3L2047.4,1506.1L2048.5,1505.9L2049.6,1505.7L2050.7,1505.5L2051.8,1505.3L2052.9,1505.0L2054.0,1504.8L2055.1,1504.6L2056.2,1504.4L2057.3,1504.1L2058.4,1503.9L2059.5,1503.6L2060.6,1503.3L2061.7,1503.1L2062.8,1502.8L2063.9,1502.5L2065.0,1502.2L2066.1,1501.9L2067.2,1501.6L2068.3,1501.3L2069.4,1501.0L2070.5,1500.7L2071.6,1500.4L2072.7,1500.0L2073.8,1499.7L2074.9,1499.4L2076.0,1499.0L2077.1,1498.6L2078.2,1498.3L2079.3,1497.9L2080.4,1497.5L2081.5,1497.1L2082.6,1496.7L2083.7,1496.3L2084.7,1495.9L2085.8,1495.5L2086.9,1495.1L2088.0,1494.7L2089.1,1494.3L2090.2,1493.8L2091.3,1493.4L2092.4,1492.9L2093.5,1492.5L2094.6,1492.0L2095.7,1491.6L2096.8,1491.1L2097.9,1490.6L2099.0,1490.2L2100.1,1489.7L2101.2,1489.2L2102.3,1488.7L2103.4,1488.2L2104.5,1487.7L2105.6,1487.2L2106.7,1486.7L2107.8,1486.2L2108.9,1485.7L2110.0,1485.2L2111.1,1484.7L2112.2,1484.1L2113.3,1483.6L2114.4,1483.1L2115.5,1482.6L2116.6,1482.0L2117.7,1481.5L2118.8,1481.0L2119.9,1480.5L2121.0,1479.9L2122.1,1479.4L2123.2,1478.9L2124.3,1478.3L2125.4,1477.8L2126.5,1477.3L2127.6,1476.7L2128.7,1476.2L2129.8,1475.7L2130.9,1475.2L2132.0,1474.7L2133.1,1474.1L2134.2,1473.6L2135.3,1473.1L2136.4,1472.6L2137.5,1472.1L2138.6,1471.6L2139.7,1471.1L2140.8,1470.7L2141.9,1470.2L2143.0,1469.7L2144.1,1469.2L2145.2,1468.8L2146.3,1468.3L2147.4,1467.9L2148.5,1467.5L2149.6,1467.0L2150.7,1466.6L2151.8,1466.2L2152.9,1465.8L2154.0,1465.4L2155.1,1465.0L2156.2,1464.6L2157.3,1464.3L2158.4,1463.9L2159.5,1463.6L2160.6,1463.2L2161.7,1462.9L2162.8,1462.6L2163.9,1462.3L2165.0,1462.0L2166.1,1461.7L2167.2,1461.5L2168.3,1461.2L2169.4,1461.0L2170.5,1460.7L2171.6,1460.5L2172.7,1460.3L2173.8,1460.1L2174.9,1460.0L2176.0,1459.8L2177.1,1459.7L2178.2,1459.5L2179.3,1459.4L2180.4,1459.3L2181.5,1459.2L2182.6,1459.2L2183.7,1459.1L2184.8,1459.1L2185.9,1459.0L2187.0,1459.0L2188.1,1459.0L2189.2,1459.0L2190.3,1459.1L2191.4,1459.1L2192.5,1459.2L2193.6,1459.2L2194.6,1459.3L2195.7,1459.4L2196.8,1459.6L2197.9,1459.7L2199.0,1459.8L2200.1,1460.0L2201.2,1460.2L2202.3,1460.4L2203.4,1460.6L2204.5,1460.8L2205.6,1461.0L2206.7,1461.3L2207.8,1461.5L2208.9,1461.8L2210.0,1462.1L2211.1,1462.4L2212.2,1462.7L2213.3,1463.0L2214.4,1463.3L2215.5,1463.7L2216.6,1464.1L2217.7,1464.4L2218.8,1464.8L2219.9,1465.2L2221.0,1465.6L2222.1,1466.0L2223.2,1466.4L2224.3,1466.9L2225.4,1467.3L2226.5,1467.8L2227.6,1468.2L2228.7,1468.7L2229.8,1469.2L2230.9,1469.6L2232.0,1470.1L2233.1,1470.6L2234.2,1471.1L2235.3,1471.7L2236.4,1472.2L2237.5,1472.7L2238.6,1473.2L2239.7,1473.8L2240.8,1474.3L2241.9,1474.8L2243.0,1475.4L2244.1,1476.0L2245.2,1476.5L2246.3,1477.1L2247.4,1477.6L2248.5,1478.2L2249.6,1478.8L2250.7,1479.3L2251.8,1479.9L2252.9,1480.5L2254.0,1481.1L2255.1,1481.6L2256.2,1482.2L2257.3,1482.8L2258.4,1483.4L2259.5,1483.9L2260.6,1484.5L2261.7,1485.1L2262.8,1485.7L2263.9,1486.2L2265.0,1486.8L2266.1,1487.4L2267.2,1487.9L2268.3,1488.5L2269.4,1489.1L2270.5,1489.6L2271.6,1490.2L2272.7,1490.7L2273.8,1491.3L2274.9,1491.8L2276.0,1492.4L2277.1,1492.9L2278.2,1493.4L2279.3,1494.0L2280.4,1494.5L2281.5,1495.0L2282.6,1495.5L2283.7,1496.0L2284.8,1496.5L2285.9,1497.0L2287.0,1497.5L2288.1,1498.0L2289.2,1498.5L2290.3,1498.9L2291.4,1499.4L2292.5,1499.9L2293.6,1500.3L2294.7,1500.8L2295.8,1501.2L2296.9,1501.7L2298.0,1502.1L2299.1,1502.5L2300.2,1502.9L2301.3,1503.3L2302.4,1503.8L2303.4,1504.2L2304.5,1504.5L2305.6,1504.9L2306.7,1505.3L2307.8,1505.7L2308.9,1506.0L2310.0,1506.4L2311.1,1506.8L2312.2,1507.1L2313.3,1507.4L2314.4,1507.8L2315.5,1508.1L2316.6,1508.4L2317.7,1508.7L2318.8,1509.1L2319.9,1509.4L2321.0,1509.7L2322.1,1509.9L2323.2,1510.2L2324.3,1510.5L2325.4,1510.8L2326.5,1511.0L2327.6,1511.3L2328.7,1511.6L2329.8,1511.8L2330.9,1512.0L2332.0,1512.3L2333.1,1512.5L2334.2,1512.7L2335.3,1513.0L2336.4,1513.2L2337.5,1513.4L2338.6,1513.6L2339.7,1513.8L2340.8,1514.0L2341.9,1514.2L2343.0,1514.4L2344.1,1514.6L2345.2,1514.7L2346.3,1514.9L2347.4,1515.1L2348.5,1515.2L2349.6,1515.4L2350.7,1515.6L2351.8,1515.7L2352.9,1515.9L2354.0,1516.0L2355.1,1516.1L2356.2,1516.3L2357.3,1516.4L2358.4,1516.5L2359.5,1516.7L2360.6,1516.8L2361.7,1516.9L2362.8,1517.0L2363.9,1517.2L2365.0,1517.3L2366.1,1517.4L2367.2,1517.5L2368.3,1517.6L2369.4,1517.7L2370.5,1517.8L2371.6,1517.9L2372.7,1518.0L2373.8,1518.1L2374.9,1518.2L2376.0,1518.3L2377.1,1518.3L2378.2,1518.4L2379.3,1518.5L2380.4,1518.6L2381.5,1518.7L2382.6,1518.8L2383.7,1518.8L2384.8,1518.9L2385.9,1519.0L2387.0,1519.1L2388.1,1519.1L2389.2,1519.2L2390.3,1519.3L2391.4,1519.3L2392.5,1519.4L2393.6,1519.5L2394.7,1519.5L2395.8,1519.6L2396.9,1519.6L2398.0,1519.7L2399.1,1519.8L2400.2,1519.8L2401.3,1519.9L2402.4,1519.9L2403.5,1520.0L2404.6,1520.0L2405.7,1520.1L2406.8,1520.1L2407.9,1520.2L2409.0,1520.2L2410.1,1520.3L2411.2,1520.3L2412.3,1520.4L2413.4,1520.4L2414.4,1520.5L2415.5,1520.5L2416.6,1520.6L2417.7,1520.6L2418.8,1520.7" fill="none" stroke="#22ecec" stroke-width="5" stroke-linejoin="round" stroke-linecap="round"/>
<path d="M2089.1,1513.0L2090.2,1513.1L2091.3,1513.1L2092.4,1513.1L2093.5,1513.1L2094.6,1513.1L2095.7,1513.1L2096.8,1513.2L2097.9,1513.2L2099.0,1513.2L2100.1,1513.2L2101.2,1513.2L2102.3,1513.2L2103.4,1513.3L2104.5,1513.3L2105.6,1513.3L2106.7,1513.3L2107.8,1513.3L2108.9,1513.3L2110.0,1513.4L2111.1,1513.4L2112.2,1513.4L2113.3,1513.4L2114.4,1513.4L2115.5,1513.4L2116.6,1513.4L2117.7,1513.4L2118.8,1513.5L2119.9,1513.5L2121.0,1513.5L2122.1,1513.5L2123.2,1513.5L2124.3,1513.5L2125.4,1513.5L2126.5,1513.5L2127.6,1513.5L2128.7,1513.5L2129.8,1513.5L2130.9,1513.5L2132.0,1513.5L2133.1,1513.5L2134.2,1513.5L2135.3,1513.5L2136.4,1513.5L2137.5,1513.5L2138.6,1513.5L2139.7,1513.5L2140.8,1513.4L2141.9,1513.4L2143.0,1513.4L2144.1,1513.4L2145.2,1513.4L2146.3,1513.3L2147.4,1513.3L2148.5,1513.3L2149.6,1513.2L2150.7,1513.2L2151.8,1513.1L2152.9,1513.1L2154.0,1513.0L2155.1,1513.0L2156.2,1512.9L2157.3,1512.9L2158.4,1512.8L2159.5,1512.7L2160.6,1512.7L2161.7,1512.6L2162.8,1512.5L2163.9,1512.4L2165.0,1512.3L2166.1,1512.2L2167.2,1512.1L2168.3,1512.0L2169.4,1511.9L2170.5,1511.8L2171.6,1511.6L2172.7,1511.5L2173.8,1511.4L2174.9,1511.2L2176.0,1511.1L2177.1,1510.9L2178.2,1510.7L2179.3,1510.6L2180.4,1510.4L2181.5,1510.2L2182.6,1510.0L2183.7,1509.8L2184.8,1509.5L2185.9,1509.3L2187.0,1509.1L2188.1,1508.8L2189.2,1508.6L2190.3,1508.3L2191.4,1508.1L2192.5,1507.8L2193.6,1507.5L2194.6,1507.2L2195.7,1506.9L2196.8,1506.6L2197.9,1506.2L2199.0,1505.9L2200.1,1505.5L2201.2,1505.2L2202.3,1504.8L2203.4,1504.4L2204.5,1504.0L2205.6,1503.6L2206.7,1503.2L2207.8,1502.8L2208.9,1502.3L2210.0,1501.9L2211.1,1501.5L2212.2,1501.0L2213.3,1500.5L2214.4,1500.0L2215.5,1499.5L2216.6,1499.0L2217.7,1498.5L2218.8,1498.0L2219.9,1497.5L2221.0,1496.9L2222.1,1496.4L2223.2,1495.8L2224.3,1495.2L2225.4,1494.7L2226.5,1494.1L2227.6,1493.5L2228.7,1492.9L2229.8,1492.3L2230.9,1491.7L2232.0,1491.1L2233.1,1490.5L2234.2,1489.9L2235.3,1489.2L2236.4,1488.6L2237.5,1488.0L2238.6,1487.3L2239.7,1486.7L2240.8,1486.1L2241.9,1485.4L2243.0,1484.8L2244.1,1484.2L2245.2,1483.5L2246.3,1482.9L2247.4,1482.3L2248.5,1481.6L2249.6,1481.0L2250.7,1480.4L2251.8,1479.8L2252.9,1479.2L2254.0,1478.5L2255.1,1478.0L2256.2,1477.4L2257.3,1476.8L2258.4,1476.2L2259.5,1475.7L2260.6,1475.1L2261.7,1474.6L2262.8,1474.0L2263.9,1473.5L2265.0,1473.0L2266.1,1472.5L2267.2,1472.1L2268.3,1471.6L2269.4,1471.2L2270.5,1470.7L2271.6,1470.3L2272.7,1469.9L2273.8,1469.5L2274.9,1469.2L2276.0,1468.9L2277.1,1468.5L2278.2,1468.2L2279.3,1468.0L2280.4,1467.7L2281.5,1467.5L2282.6,1467.3L2283.7,1467.1L2284.8,1466.9L2285.9,1466.8L2287.0,1466.6L2288.1,1466.5L2289.2,1466.4L2290.3,1466.4L2291.4,1466.4L2292.5,1466.3L2293.6,1466.4L2294.7,1466.4L2295.8,1466.5L2296.9,1466.5L2298.0,1466.7L2299.1,1466.8L2300.2,1466.9L2301.3,1467.1L2302.4,1467.3L2303.4,1467.5L2304.5,1467.8L2305.6,1468.1L2306.7,1468.3L2307.8,1468.6L2308.9,1469.0L2310.0,1469.3L2311.1,1469.7L2312.2,1470.1L2313.3,1470.5L2314.4,1470.9L2315.5,1471.4L2316.6,1471.8L2317.7,1472.3L2318.8,1472.8L2319.9,1473.3L2321.0,1473.8L2322.1,1474.4L2323.2,1474.9L2324.3,1475.5L2325.4,1476.1L2326.5,1476.7L2327.6,1477.3L2328.7,1477.9L2329.8,1478.5L2330.9,1479.2L2332.0,1479.8L2333.1,1480.4L2334.2,1481.1L2335.3,1481.8L2336.4,1482.4L2337.5,1483.1L2338.6,1483.8L2339.7,1484.5L2340.8,1485.2L2341.9,1485.8L2343.0,1486.5L2344.1,1487.2L2345.2,1487.9L2346.3,1488.6L2347.4,1489.3L2348.5,1490.0L2349.6,1490.7L2350.7,1491.3L2351.8,1492.0L2352.9,1492.7L2354.0,1493.4L2355.1,1494.1L2356.2,1494.7L2357.3,1495.4L2358.4,1496.0L2359.5,1496.7L2360.6,1497.3L2361.7,1498.0L2362.8,1498.6L2363.9,1499.2L2365.0,1499.8L2366.1,1500.4L2367.2,1501.0L2368.3,1501.6L2369.4,1502.2L2370.5,1502.7L2371.6,1503.3L2372.7,1503.9L2373.8,1504.4L2374.9,1504.9L2376.0,1505.4L2377.1,1506.0L2378.2,1506.5L2379.3,1506.9L2380.4,1507.4L2381.5,1507.9L2382.6,1508.4L2383.7,1508.8L2384.8,1509.2L2385.9,1509.7L2387.0,1510.1L2388.1,1510.5L2389.2,1510.9L2390.3,1511.3L2391.4,1511.7L2392.5,1512.0L2393.6,1512.4L2394.7,1512.7L2395.8,1513.1L2396.9,1513.4L2398.0,1513.7L2399.1,1514.0L2400.2,1514.3L2401.3,1514.6L2402.4,1514.9L2403.5,1515.2L2404.6,1515.5L2405.7,1515.7L2406.8,1516.0L2407.9,1516.2L2409.0,1516.4L2410.1,1516.7L2411.2,1516.9L2412.3,1517.1L2413.4,1517.3L2414.4,1517.5L2415.5,1517.7L2416.6,1517.9L2417.7,1518.1L2418.8,1518.2" fill="none" stroke="#26e026" stroke-width="5" stroke-linejoin="round" stroke-linecap="round"/>
<path d="M1479.2,1498.3L1480.3,1497.1L1481.4,1497.0L1482.5,1496.9L1483.6,1496.7L1484.7,1496.6L1485.8,1496.4L1486.9,1496.3L1488.0,1496.1L1489.1,1495.9L1490.2,1495.7L1491.3,1495.5L1492.4,1495.3L1493.5,1495.0L1494.6,1494.8L1495.7,1494.6L1496.8,1494.3L1497.9,1494.1L1499.0,1493.9L1500.1,1493.6L1501.2,1493.4L1502.3,1493.1L1503.4,1492.9L1504.5,1492.6L1505.6,1492.4L1506.7,1492.2L1507.8,1491.9L1508.9,1491.7L1510.0,1491.4L1511.1,1491.2L1512.2,1490.9L1513.3,1490.7L1514.4,1490.4L1515.5,1490.2L1516.6,1489.9L1517.7,1489.7L1518.8,1489.4L1519.9,1489.1L1521.0,1488.9L1522.1,1488.6L1523.2,1488.4L1524.3,1488.1L1525.4,1487.8L1526.5,1487.6L1527.6,1487.3L1528.7,1487.0L1529.8,1486.7L1530.9,1486.5L1532.0,1486.2L1533.1,1485.9L1534.2,1485.6L1535.2,1485.3L1536.3,1485.0L1537.4,1484.8L1538.5,1484.5L1539.6,1484.2L1540.7,1483.9L1541.8,1483.6L1542.9,1483.3L1544.0,1483.0L1545.1,1482.7L1546.2,1482.4L1547.3,1482.1L1548.4,1481.7L1549.5,1481.4L1550.6,1481.1L1551.7,1480.8L1552.8,1480.5L1553.9,1480.2L1555.0,1479.9L1556.1,1479.5L1557.2,1479.2L1558.3,1478.9L1559.4,1478.6L1560.5,1478.2L1561.6,1477.9L1562.7,1477.6L1563.8,1477.2L1564.9,1476.9L1566.0,1476.6L1567.1,1476.2L1568.2,1475.9L1569.3,1475.5L1570.4,1475.2L1571.5,1474.9L1572.6,1474.5L1573.7,1474.2L1574.8,1473.8L1575.9,1473.4L1577.0,1473.1L1578.1,1472.7L1579.2,1472.4L1580.3,1472.0L1581.4,1471.6L1582.5,1471.2L1583.6,1470.9L1584.7,1470.5L1585.8,1470.1L1586.9,1469.7L1588.0,1469.4L1589.1,1469.0L1590.2,1468.6L1591.3,1468.2L1592.4,1467.8L1593.5,1467.4L1594.6,1467.0L1595.7,1466.6L1596.8,1466.2L1597.9,1465.8L1599.0,1465.4L1600.1,1464.9L1601.2,1464.5L1602.3,1464.1L1603.4,1463.7L1604.5,1463.2L1605.6,1462.8L1606.7,1462.4L1607.8,1461.9L1608.9,1461.5L1610.0,1461.1L1611.1,1460.6L1612.2,1460.2L1613.3,1459.7L1614.4,1459.2L1615.5,1458.8L1616.6,1458.3L1617.7,1457.8L1618.8,1457.4L1619.9,1456.9L1621.0,1456.4L1622.1,1455.9L1623.2,1455.4L1624.3,1454.9L1625.4,1454.4L1626.5,1453.9L1627.6,1453.4L1628.7,1452.9L1629.8,1452.4L1630.9,1451.9L1632.0,1451.3L1633.1,1450.8L1634.2,1450.2L1635.3,1449.7L1636.4,1449.1L1637.5,1448.6L1638.6,1448.0L1639.7,1447.4L1640.8,1446.8L1641.9,1446.3L1643.0,1445.7L1644.1,1445.1L1645.1,1444.5L1646.2,1443.8L1647.3,1443.2L1648.4,1442.6L1649.5,1441.9L1650.6,1441.3L1651.7,1440.6L1652.8,1440.0L1653.9,1439.3L1655.0,1438.6L1656.1,1437.9L1657.2,1437.2L1658.3,1436.5L1659.4,1435.8L1660.5,1435.1L1661.6,1434.4L1662.7,1433.6L1663.8,1432.9L1664.9,1432.1L1666.0,1431.3L1667.1,1430.5L1668.2,1429.7L1669.3,1428.9L1670.4,1428.1L1671.5,1427.2L1672.6,1426.4L1673.7,1425.5L1674.8,1424.6L1675.9,1423.8L1677.0,1422.9L1678.1,1421.9L1679.2,1421.0L1680.3,1420.1L1681.4,1419.1L1682.5,1418.2L1683.6,1417.2L1684.7,1416.2L1685.8,1415.2L1686.9,1414.2L1688.0,1413.2L1689.1,1412.2L1690.2,1411.1L1691.3,1410.0L1692.4,1409.0L1693.5,1407.9L1694.6,1406.8L1695.7,1405.7L1696.8,1404.6L1697.9,1403.4L1699.0,1402.3L1700.1,1401.1L1701.2,1399.9L1702.3,1398.7L1703.4,1397.5L1704.5,1396.3L1705.6,1395.1L1706.7,1393.8L1707.8,1392.5L1708.9,1391.3L1710.0,1390.0L1711.1,1388.6L1712.2,1387.3L1713.3,1385.9L1714.4,1384.5L1715.5,1383.1L1716.6,1381.6L1717.7,1380.1L1718.8,1378.6L1719.9,1377.1L1721.0,1375.5L1722.1,1373.9L1723.2,1372.3L1724.3,1370.6L1725.4,1368.9L1726.5,1367.2L1727.6,1365.5L1728.7,1363.7L1729.8,1361.9L1730.9,1360.1L1732.0,1358.3L1733.1,1356.4L1734.2,1354.5L1735.3,1352.6L1736.4,1350.6L1737.5,1348.6L1738.6,1346.6L1739.7,1344.6L1740.8,1342.6L1741.9,1340.5L1743.0,1338.4L1744.1,1336.3L1745.2,1334.1L1746.3,1332.0L1747.4,1329.8L1748.5,1327.5L1749.6,1325.2L1750.7,1322.9L1751.8,1320.6L1752.9,1318.2L1754.0,1315.8L1755.0,1313.3L1756.1,1310.9L1757.2,1308.3L1758.3,1305.8L1759.4,1303.2L1760.5,1300.5L1761.6,1297.9L1762.7,1295.1L1763.8,1292.4L1764.9,1289.6L1766.0,1286.8L1767.1,1283.9L1768.2,1281.0L1769.3,1278.1L1770.4,1275.1L1771.5,1272.0L1772.6,1268.9L1773.7,1265.8L1774.8,1262.6L1775.9,1259.3L1777.0,1256.0L1778.1,1252.7L1779.2,1249.3L1780.3,1245.8L1781.4,1242.3L1782.5,1238.8L1783.6,1235.2L1784.7,1231.6L1785.8,1228.0L1786.9,1224.3L1788.0,1220.6L1789.1,1217.0L1790.2,1213.3L1791.3,1209.6L1792.4,1205.9L1793.5,1202.2L1794.6,1198.5L1795.7,1194.8L1796.8,1191.2L1797.9,1187.5L1799.0,1183.9L1800.1,1180.2L1801.2,1176.6L1802.3,1173.0L1803.4,1169.4L1804.5,1165.8L1805.6,1162.2L1806.7,1158.6L1807.8,1155.1L1808.9,1151.6L1810.0,1148.1L1811.1,1144.6L1812.2,1141.2L1813.3,1137.8L1814.4,1134.4L1815.5,1131.1L1816.6,1127.8L1817.7,1124.6L1818.8,1121.4L1819.9,1118.2L1821.0,1115.1L1822.1,1112.1L1823.2,1109.1L1824.3,1106.1L1825.4,1103.1L1826.5,1100.2L1827.6,1097.4L1828.7,1094.6L1829.8,1091.8L1830.9,1089.0L1832.0,1086.3L1833.1,1083.7L1834.2,1081.0L1835.3,1078.5L1836.4,1075.9L1837.5,1073.5L1838.6,1071.0L1839.7,1068.7L1840.8,1066.4L1841.9,1064.1L1843.0,1061.9L1844.1,1059.8L1845.2,1057.7L1846.3,1055.7L1847.4,1053.8L1848.5,1051.9L1849.6,1050.1L1850.7,1048.3L1851.8,1046.6L1852.9,1044.9L1854.0,1043.3L1855.1,1041.7L1856.2,1040.2L1857.3,1038.7L1858.4,1037.3L1859.5,1035.9L1860.6,1034.5L1861.7,1033.2L1862.8,1032.0L1863.9,1030.8L1864.9,1029.6L1866.0,1028.5L1867.1,1027.5L1868.2,1026.5L1869.3,1025.5L1870.4,1024.6L1871.5,1023.8L1872.6,1023.0L1873.7,1022.2L1874.8,1021.5L1875.9,1020.9L1877.0,1020.2L1878.1,1019.6L1879.2,1019.0L1880.3,1018.5L1881.4,1018.0L1882.5,1017.5L1883.6,1017.0L1884.7,1016.5L1885.8,1016.1L1886.9,1015.7L1888.0,1015.4L1889.1,1015.0L1890.2,1014.7L1891.3,1014.5L1892.4,1014.2L1893.5,1014.0L1894.6,1013.8L1895.7,1013.7L1896.8,1013.6L1897.9,1013.5L1899.0,1013.5L1900.1,1013.5L1901.2,1013.6L1902.3,1013.7L1903.4,1013.8L1904.5,1013.9L1905.6,1014.1L1906.7,1014.3L1907.8,1014.5L1908.9,1014.8L1910.0,1015.1L1911.1,1015.4L1912.2,1015.7L1913.3,1016.0L1914.4,1016.4L1915.5,1016.7L1916.6,1017.1L1917.7,1017.5L1918.8,1017.9L1919.9,1018.3L1921.0,1018.8L1922.1,1019.3L1923.2,1019.7L1924.3,1020.2L1925.4,1020.8L1926.5,1021.3L1927.6,1021.8L1928.7,1022.4L1929.8,1022.9L1930.9,1023.5L1932.0,1024.1L1933.1,1024.6L1934.2,1025.1L1935.3,1025.7L1936.4,1026.2L1937.5,1026.6L1938.6,1027.1L1939.7,1027.5L1940.8,1027.9L1941.9,1028.2L1943.0,1028.5L1944.1,1028.7L1945.2,1028.9L1946.3,1029.0L1947.4,1029.1L1948.5,1029.2L1949.6,1029.2L1950.7,1029.2L1951.8,1029.1L1952.9,1029.0L1954.0,1028.8L1955.1,1028.6L1956.2,1028.4L1957.3,1028.2L1958.4,1027.9L1959.5,1027.6L1960.6,1027.3L1961.7,1026.9L1962.8,1026.5L1963.9,1026.1L1965.0,1025.7L1966.1,1025.2L1967.2,1024.8L1968.3,1024.3L1969.4,1023.8L1970.5,1023.2L1971.6,1022.7L1972.7,1022.1L1973.8,1021.6L1974.8,1021.0L1975.9,1020.4L1977.0,1019.9L1978.1,1019.3L1979.2,1018.8L1980.3,1018.3L1981.4,1017.8L1982.5,1017.3L1983.6,1016.8L1984.7,1016.4L1985.8,1016.0L1986.9,1015.6L1988.0,1015.2L1989.1,1014.8L1990.2,1014.4L1991.3,1014.1L1992.4,1013.8L1993.5,1013.5L1994.6,1013.2L1995.7,1012.9L1996.8,1012.7L1997.9,1012.5L1999.0,1012.3L2000.1,1012.1L2001.2,1012.0L2002.3,1011.9L2003.4,1011.9L2004.5,1011.9L2005.6,1011.9L2006.7,1011.9L2007.8,1012.0L2008.9,1012.2L2010.0,1012.3L2011.1,1012.6L2012.2,1012.8L2013.3,1013.1L2014.4,1013.5L2015.5,1013.9L2016.6,1014.3L2017.7,1014.8L2018.8,1015.3L2019.9,1015.8L2021.0,1016.5L2022.1,1017.1L2023.2,1017.8L2024.3,1018.6L2025.4,1019.4L2026.5,1020.4L2027.6,1021.4L2028.7,1022.4L2029.8,1023.6L2030.9,1024.9L2032.0,1026.3L2033.1,1027.8L2034.2,1029.4L2035.3,1031.2L2036.4,1033.1L2037.5,1035.0L2038.6,1037.1L2039.7,1039.3L2040.8,1041.6L2041.9,1043.9L2043.0,1046.4L2044.1,1048.9L2045.2,1051.5L2046.3,1054.2L2047.4,1056.9L2048.5,1059.7L2049.6,1062.6L2050.7,1065.5L2051.8,1068.5L2052.9,1071.5L2054.0,1074.6L2055.1,1077.8L2056.2,1081.0L2057.3,1084.2L2058.4,1087.5L2059.5,1090.8L2060.6,1094.2L2061.7,1097.6L2062.8,1101.0L2063.9,1104.4L2065.0,1107.9L2066.1,1111.4L2067.2,1114.9L2068.3,1118.4L2069.4,1121.9L2070.5,1125.5L2071.6,1129.0L2072.7,1132.6L2073.8,1136.2L2074.9,1139.8L2076.0,1143.4L2077.1,1147.0L2078.2,1150.7L2079.3,1154.3L2080.4,1157.9L2081.5,1161.6L2082.6,1165.3L2083.7,1169.0L2084.7,1172.6L2085.8,1176.3L2086.9,1180.0L2088.0,1183.7L2089.1,1187.4L2090.2,1191.1L2091.3,1194.8L2092.4,1198.5L2093.5,1202.2L2094.6,1205.9L2095.7,1209.6L2096.8,1213.3L2097.9,1217.0L2099.0,1220.6L2100.1,1224.2L2101.2,1227.9L2102.3,1231.4L2103.4,1235.0L2104.5,1238.5L2105.6,1242.0L2106.7,1245.4L2107.8,1248.8L2108.9,1252.2L2110.0,1255.5L2111.1,1258.7L2112.2,1261.9L2113.3,1265.1L2114.4,1268.2L2115.5,1271.3L2116.6,1274.4L2117.7,1277.4L2118.8,1280.4L2119.9,1283.3L2121.0,1286.2L2122.1,1289.1L2123.2,1292.0L2124.3,1294.9L2125.4,1297.7L2126.5,1300.5L2127.6,1303.3L2128.7,1306.1L2129.8,1308.8L2130.9,1311.6L2132.0,1314.3L2133.1,1317.1L2134.2,1319.8L2135.3,1322.5L2136.4,1325.1L2137.5,1327.8L2138.6,1330.4L2139.7,1333.0L2140.8,1335.6L2141.9,1338.2L2143.0,1340.7L2144.1,1343.2L2145.2,1345.6L2146.3,1348.0L2147.4,1350.3L2148.5,1352.6L2149.6,1354.9L2150.7,1357.1L2151.8,1359.3L2152.9,1361.4L2154.0,1363.5L2155.1,1365.5L2156.2,1367.5L2157.3,1369.5L2158.4,1371.4L2159.5,1373.3L2160.6,1375.2L2161.7,1377.0L2162.8,1378.8L2163.9,1380.5L2165.0,1382.2L2166.1,1383.9L2167.2,1385.6L2168.3,1387.2L2169.4,1388.7L2170.5,1390.2L2171.6,1391.7L2172.7,1393.2L2173.8,1394.6L2174.9,1395.9L2176.0,1397.2L2177.1,1398.5L2178.2,1399.8L2179.3,1401.0L2180.4,1402.1L2181.5,1403.3L2182.6,1404.4L2183.7,1405.4L2184.8,1406.5L2185.9,1407.5L2187.0,1408.5L2188.1,1409.4L2189.2,1410.4L2190.3,1411.3L2191.4,1412.2L2192.5,1413.0L2193.6,1413.9L2194.6,1414.7L2195.7,1415.5L2196.8,1416.2L2197.9,1416.9L2199.0,1417.7L2200.1,1418.3L2201.2,1419.0L2202.3,1419.6L2203.4,1420.2L2204.5,1420.8L2205.6,1421.4L2206.7,1421.9L2207.8,1422.4L2208.9,1422.9L2210.0,1423.4L2211.1,1423.9L2212.2,1424.3L2213.3,1424.7L2214.4,1425.2L2215.5,1425.6L2216.6,1425.9L2217.7,1426.3L2218.8,1426.7L2219.9,1427.0L2221.0,1427.4L2222.1,1427.7L2223.2,1428.1L2224.3,1428.4L2225.4,1428.7L2226.5,1429.0L2227.6,1429.3L2228.7,1429.6L2229.8,1429.9L2230.9,1430.2L2232.0,1430.5L2233.1,1430.8L2234.2,1431.1L2235.3,1431.3L2236.4,1431.6L2237.5,1431.9L2238.6,1432.1L2239.7,1432.4L2240.8,1432.6L2241.9,1432.9L2243.0,1433.1L2244.1,1433.3L2245.2,1433.6L2246.3,1433.8L2247.4,1434.0L2248.5,1434.2L2249.6,1434.4L2250.7,1434.7L2251.8,1434.9L2252.9,1435.1L2254.0,1435.3L2255.1,1435.5L2256.2,1435.7L2257.3,1435.9L2258.4,1436.1L2259.5,1436.3L2260.6,1436.5L2261.7,1436.7L2262.8,1436.9L2263.9,1437.1L2265.0,1437.3L2266.1,1437.5L2267.2,1437.7L2268.3,1438.0L2269.4,1438.2L2270.5,1438.4L2271.6,1438.7L2272.7,1438.9L2273.8,1439.2L2274.9,1439.5L2276.0,1439.8L2277.1,1440.1L2278.2,1440.4L2279.3,1440.7L2280.4,1441.0L2281.5,1441.4L2282.6,1441.7L2283.7,1442.1L2284.8,1442.4L2285.9,1442.8L2287.0,1443.2L2288.1,1443.6L2289.2,1444.0L2290.3,1444.4L2291.4,1444.9L2292.5,1445.3L2293.6,1445.8L2294.7,1446.2L2295.8,1446.7L2296.9,1447.1L2298.0,1447.6L2299.1,1448.1L2300.2,1448.6L2301.3,1449.2L2302.4,1449.7L2303.4,1450.2L2304.5,1450.8L2305.6,1451.3L2306.7,1451.9L2307.8,1452.5L2308.9,1453.1L2310.0,1453.8L2311.1,1454.4L2312.2,1455.1L2313.3,1455.8L2314.4,1456.5L2315.5,1457.3L2316.6,1458.0L2317.7,1458.8L2318.8,1459.6L2319.9,1460.4L2321.0,1461.3L2322.1,1462.1L2323.2,1463.0L2324.3,1463.9L2325.4,1464.8L2326.5,1465.7L2327.6,1466.6L2328.7,1467.5L2329.8,1468.5L2330.9,1469.4L2332.0,1470.3L2333.1,1471.2L2334.2,1472.2L2335.3,1473.1L2336.4,1474.0L2337.5,1474.9L2338.6,1475.7L2339.7,1476.6L2340.8,1477.5L2341.9,1478.3L2343.0,1479.2L2344.1,1480.0L2345.2,1480.8L2346.3,1481.6L2347.4,1482.4L2348.5,1483.2L2349.6,1483.9L2350.7,1484.7L2351.8,1485.4L2352.9,1486.2L2354.0,1486.9L2355.1,1487.7L2356.2,1488.4L2357.3,1489.1L2358.4,1489.8L2359.5,1490.6L2360.6,1491.3L2361.7,1491.9L2362.8,1492.6L2363.9,1493.3L2365.0,1494.0L2366.1,1494.6L2367.2,1495.3L2368.3,1495.9L2369.4,1496.5L2370.5,1497.1L2371.6,1497.7L2372.7,1498.3L2373.8,1498.9L2374.9,1499.5L2376.0,1500.0L2377.1,1500.5L2378.2,1501.1L2379.3,1501.6L2380.4,1502.1L2381.5,1502.5L2382.6,1503.0L2383.7,1503.5L2384.8,1503.9L2385.9,1504.4L2387.0,1504.8L2388.1,1505.2L2389.2,1505.6L2390.3,1506.0L2391.4,1506.4L2392.5,1506.8L2393.6,1507.2L2394.7,1507.6L2395.8,1508.0L2396.9,1508.3L2398.0,1508.7L2399.1,1509.0L2400.2,1509.4L2401.3,1509.7L2402.4,1510.1L2403.5,1510.4L2404.6,1510.7L2405.7,1511.1L2406.8,1511.4L2407.9,1511.6L2409.0,1511.9L2410.1,1512.2L2411.2,1512.4L2412.3,1512.7L2413.4,1512.9L2414.4,1513.1L2415.5,1513.2L2416.6,1513.4L2417.7,1513.6L2418.8,1515.2" fill="none" stroke="#f0821e" stroke-width="5.5" stroke-linejoin="round" stroke-linecap="round"/>
<path d="M1479.2,1503.5L1480.3,1503.5L1481.4,1503.5L1482.5,1503.5L1483.6,1503.5L1484.7,1503.5L1485.8,1503.5L1486.9,1503.6L1488.0,1503.6L1489.1,1503.6L1490.2,1503.6L1491.3,1503.6L1492.4,1503.6L1493.5,1503.6L1494.6,1503.6L1495.7,1503.6L1496.8,1503.6L1497.9,1503.6L1499.0,1503.6L1500.1,1503.6L1501.2,1503.6L1502.3,1503.6L1503.4,1503.7L1504.5,1503.7L1505.6,1503.7L1506.7,1503.7L1507.8,1503.7L1508.9,1503.7L1510.0,1503.7L1511.1,1503.7L1512.2,1503.7L1513.3,1503.7L1514.4,1503.7L1515.5,1503.7L1516.6,1503.7L1517.7,1503.7L1518.8,1503.7L1519.9,1503.8L1521.0,1503.8L1522.1,1503.8L1523.2,1503.8L1524.3,1503.8L1525.4,1503.8L1526.5,1503.8L1527.6,1503.8L1528.7,1503.8L1529.8,1503.8L1530.9,1503.8L1532.0,1503.8L1533.1,1503.8L1534.2,1503.8L1535.2,1503.8L1536.3,1503.8L1537.4,1503.9L1538.5,1503.9L1539.6,1503.9L1540.7,1503.9L1541.8,1503.9L1542.9,1503.9L1544.0,1503.9L1545.1,1503.9L1546.2,1503.9L1547.3,1503.9L1548.4,1503.9L1549.5,1503.9L1550.6,1503.9L1551.7,1503.9L1552.8,1503.9L1553.9,1503.9L1555.0,1504.0L1556.1,1504.0L1557.2,1504.0L1558.3,1504.0L1559.4,1504.0L1560.5,1504.0L1561.6,1504.0L1562.7,1504.0L1563.8,1504.0L1564.9,1504.0L1566.0,1504.0L1567.1,1504.0L1568.2,1504.0L1569.3,1504.0L1570.4,1504.0L1571.5,1504.0L1572.6,1504.1L1573.7,1504.1L1574.8,1504.1L1575.9,1504.1L1577.0,1504.1L1578.1,1504.1L1579.2,1504.1L1580.3,1504.1L1581.4,1504.1L1582.5,1504.1L1583.6,1504.1L1584.7,1504.1L1585.8,1504.1L1586.9,1504.1L1588.0,1504.1L1589.1,1504.1L1590.2,1504.2L1591.3,1504.2L1592.4,1504.2L1593.5,1504.2L1594.6,1504.2L1595.7,1504.2L1596.8,1504.2L1597.9,1504.2L1599.0,1504.2L1600.1,1504.2L1601.2,1504.2L1602.3,1504.2L1603.4,1504.2L1604.5,1504.2L1605.6,1504.2L1606.7,1504.3L1607.8,1504.3L1608.9,1504.3L1610.0,1504.3L1611.1,1504.3L1612.2,1504.3L1613.3,1504.3L1614.4,1504.3L1615.5,1504.3L1616.6,1504.3L1617.7,1504.3L1618.8,1504.3L1619.9,1504.3L1621.0,1504.3L1622.1,1504.4L1623.2,1504.4L1624.3,1504.4L1625.4,1504.4L1626.5,1504.4L1627.6,1504.4L1628.7,1504.4L1629.8,1504.4L1630.9,1504.4L1632.0,1504.4L1633.1,1504.4L1634.2,1504.4L1635.3,1504.4L1636.4,1504.5L1637.5,1504.5L1638.6,1504.5L1639.7,1504.5L1640.8,1504.5L1641.9,1504.5L1643.0,1504.5L1644.1,1504.5L1645.1,1504.5L1646.2,1504.5L1647.3,1504.5L1648.4,1504.5L1649.5,1504.6L1650.6,1504.6L1651.7,1504.6L1652.8,1504.6L1653.9,1504.6L1655.0,1504.6L1656.1,1504.6L1657.2,1504.6L1658.3,1504.6L1659.4,1504.6L1660.5,1504.6L1661.6,1504.7L1662.7,1504.7L1663.8,1504.7L1664.9,1504.7L1666.0,1504.7L1667.1,1504.7L1668.2,1504.7L1669.3,1504.7L1670.4,1504.7L1671.5,1504.7L1672.6,1504.7L1673.7,1504.8L1674.8,1504.8L1675.9,1504.8L1677.0,1504.8L1678.1,1504.8L1679.2,1504.8L1680.3,1504.8L1681.4,1504.8L1682.5,1504.8L1683.6,1504.8L1684.7,1504.9L1685.8,1504.9L1686.9,1504.9L1688.0,1504.9L1689.1,1504.9L1690.2,1504.9L1691.3,1504.9L1692.4,1504.9L1693.5,1504.9L1694.6,1505.0L1695.7,1505.0L1696.8,1505.0L1697.9,1505.0L1699.0,1505.0L1700.1,1505.0L1701.2,1505.0L1702.3,1505.0L1703.4,1505.0L1704.5,1505.1L1705.6,1505.1L1706.7,1505.1L1707.8,1505.1L1708.9,1505.1L1710.0,1505.1L1711.1,1505.1L1712.2,1505.2L1713.3,1505.2L1714.4,1505.2L1715.5,1505.2L1716.6,1505.2L1717.7,1505.2L1718.8,1505.3L1719.9,1505.3L1721.0,1505.3L1722.1,1505.3L1723.2,1505.3L1724.3,1505.3L1725.4,1505.4L1726.5,1505.4L1727.6,1505.4L1728.7,1505.4L1729.8,1505.4L1730.9,1505.4L1732.0,1505.5L1733.1,1505.5L1734.2,1505.5L1735.3,1505.5L1736.4,1505.5L1737.5,1505.6L1738.6,1505.6L1739.7,1505.6L1740.8,1505.6L1741.9,1505.7L1743.0,1505.7L1744.1,1505.7L1745.2,1505.7L1746.3,1505.7L1747.4,1505.8L1748.5,1505.8L1749.6,1505.8L1750.7,1505.8L1751.8,1505.9L1752.9,1505.9L1754.0,1505.9L1755.0,1505.9L1756.1,1505.9L1757.2,1506.0L1758.3,1506.0L1759.4,1506.0L1760.5,1506.0L1761.6,1506.1L1762.7,1506.1L1763.8,1506.1L1764.9,1506.1L1766.0,1506.2L1767.1,1506.2L1768.2,1506.2L1769.3,1506.2L1770.4,1506.3L1771.5,1506.3L1772.6,1506.3L1773.7,1506.3L1774.8,1506.4L1775.9,1506.4L1777.0,1506.4L1778.1,1506.4L1779.2,1506.5L1780.3,1506.5L1781.4,1506.5L1782.5,1506.6L1783.6,1506.6L1784.7,1506.6L1785.8,1506.6L1786.9,1506.7L1788.0,1506.7L1789.1,1506.7L1790.2,1506.7L1791.3,1506.8L1792.4,1506.8L1793.5,1506.8L1794.6,1506.9L1795.7,1506.9L1796.8,1506.9L1797.9,1506.9L1799.0,1507.0L1800.1,1507.0L1801.2,1507.0L1802.3,1507.1L1803.4,1507.1L1804.5,1507.1L1805.6,1507.1L1806.7,1507.2L1807.8,1507.2L1808.9,1507.2L1810.0,1507.3L1811.1,1507.3L1812.2,1507.3L1813.3,1507.3L1814.4,1507.4L1815.5,1507.4L1816.6,1507.4L1817.7,1507.5L1818.8,1507.5L1819.9,1507.5L1821.0,1507.6L1822.1,1507.6L1823.2,1507.6L1824.3,1507.6L1825.4,1507.7L1826.5,1507.7L1827.6,1507.7L1828.7,1507.8L1829.8,1507.8L1830.9,1507.8L1832.0,1507.9L1833.1,1507.9L1834.2,1507.9L1835.3,1507.9L1836.4,1508.0L1837.5,1508.0L1838.6,1508.0L1839.7,1508.1L1840.8,1508.1L1841.9,1508.1L1843.0,1508.1L1844.1,1508.2L1845.2,1508.2L1846.3,1508.2L1847.4,1508.3L1848.5,1508.3L1849.6,1508.3L1850.7,1508.4L1851.8,1508.4L1852.9,1508.4L1854.0,1508.4L1855.1,1508.5L1856.2,1508.5L1857.3,1508.5L1858.4,1508.6L1859.5,1508.6L1860.6,1508.6L1861.7,1508.6L1862.8,1508.7L1863.9,1508.7L1864.9,1508.7L1866.0,1508.8L1867.1,1508.8L1868.2,1508.8L1869.3,1508.8L1870.4,1508.9L1871.5,1508.9L1872.6,1508.9L1873.7,1509.0L1874.8,1509.0L1875.9,1509.0L1877.0,1509.0L1878.1,1509.1L1879.2,1509.1L1880.3,1509.1L1881.4,1509.2L1882.5,1509.2L1883.6,1509.2L1884.7,1509.2L1885.8,1509.3L1886.9,1509.3L1888.0,1509.3L1889.1,1509.3L1890.2,1509.4L1891.3,1509.4L1892.4,1509.4L1893.5,1509.4L1894.6,1509.5L1895.7,1509.5L1896.8,1509.5L1897.9,1509.5L1899.0,1509.6L1900.1,1509.6L1901.2,1509.6L1902.3,1509.6L1903.4,1509.7L1904.5,1509.7L1905.6,1509.7L1906.7,1509.7L1907.8,1509.8L1908.9,1509.8L1910.0,1509.8L1911.1,1509.8L1912.2,1509.9L1913.3,1509.9L1914.4,1509.9L1915.5,1509.9L1916.6,1510.0L1917.7,1510.0L1918.8,1510.0L1919.9,1510.0L1921.0,1510.0L1922.1,1510.1L1923.2,1510.1L1924.3,1510.1L1925.4,1510.1L1926.5,1510.2L1927.6,1510.2L1928.7,1510.2L1929.8,1510.2L1930.9,1510.2L1932.0,1510.3L1933.1,1510.3L1934.2,1510.3L1935.3,1510.3L1936.4,1510.3L1937.5,1510.4L1938.6,1510.4L1939.7,1510.4L1940.8,1510.4L1941.9,1510.5L1943.0,1510.5L1944.1,1510.5L1945.2,1510.5L1946.3,1510.5L1947.4,1510.6L1948.5,1510.6L1949.6,1510.6L1950.7,1510.6L1951.8,1510.6L1952.9,1510.7L1954.0,1510.7L1955.1,1510.7L1956.2,1510.7L1957.3,1510.7L1958.4,1510.8L1959.5,1510.8L1960.6,1510.8L1961.7,1510.8L1962.8,1510.8L1963.9,1510.9L1965.0,1510.9L1966.1,1510.9L1967.2,1510.9L1968.3,1510.9L1969.4,1511.0L1970.5,1511.0L1971.6,1511.0L1972.7,1511.0L1973.8,1511.0L1974.8,1511.1L1975.9,1511.1L1977.0,1511.1L1978.1,1511.1L1979.2,1511.1L1980.3,1511.2L1981.4,1511.2L1982.5,1511.2L1983.6,1511.2L1984.7,1511.2L1985.8,1511.3L1986.9,1511.3L1988.0,1511.3L1989.1,1511.3L1990.2,1511.3L1991.3,1511.4L1992.4,1511.4L1993.5,1511.4L1994.6,1511.4L1995.7,1511.4L1996.8,1511.4L1997.9,1511.5L1999.0,1511.5L2000.1,1511.5L2001.2,1511.5L2002.3,1511.5L2003.4,1511.6L2004.5,1511.6L2005.6,1511.6L2006.7,1511.6L2007.8,1511.6L2008.9,1511.7L2010.0,1511.7L2011.1,1511.7L2012.2,1511.7L2013.3,1511.7L2014.4,1511.8L2015.5,1511.8L2016.6,1511.8L2017.7,1511.8L2018.8,1511.8L2019.9,1511.8L2021.0,1511.9L2022.1,1511.9L2023.2,1511.9L2024.3,1511.9L2025.4,1511.9L2026.5,1512.0L2027.6,1512.0L2028.7,1512.0L2029.8,1512.0L2030.9,1512.0L2032.0,1512.1L2033.1,1512.1L2034.2,1512.1L2035.3,1512.1L2036.4,1512.1L2037.5,1512.2L2038.6,1512.2L2039.7,1512.2L2040.8,1512.2L2041.9,1512.2L2043.0,1512.2L2044.1,1512.3L2045.2,1512.3L2046.3,1512.3L2047.4,1512.3L2048.5,1512.3L2049.6,1512.4L2050.7,1512.4L2051.8,1512.4L2052.9,1512.4L2054.0,1512.4L2055.1,1512.5L2056.2,1512.5L2057.3,1512.5L2058.4,1512.5L2059.5,1512.5L2060.6,1512.6L2061.7,1512.6L2062.8,1512.6L2063.9,1512.6L2065.0,1512.6L2066.1,1512.6L2067.2,1512.7L2068.3,1512.7L2069.4,1512.7L2070.5,1512.7L2071.6,1512.7L2072.7,1512.8L2073.8,1512.8L2074.9,1512.8L2076.0,1512.8L2077.1,1512.8L2078.2,1512.9L2079.3,1512.9L2080.4,1512.9L2081.5,1512.9L2082.6,1512.9L2083.7,1513.0L2084.7,1513.0L2085.8,1513.0L2086.9,1513.0L2088.0,1513.0L2089.1,1513.1L2090.2,1513.1L2091.3,1513.1L2092.4,1513.1L2093.5,1513.1L2094.6,1513.2L2095.7,1513.2L2096.8,1513.2L2097.9,1513.2L2099.0,1513.2L2100.1,1513.3L2101.2,1513.3L2102.3,1513.3L2103.4,1513.3L2104.5,1513.3L2105.6,1513.4L2106.7,1513.4L2107.8,1513.4L2108.9,1513.4L2110.0,1513.4L2111.1,1513.5L2112.2,1513.5L2113.3,1513.5L2114.4,1513.5L2115.5,1513.5L2116.6,1513.6L2117.7,1513.6L2118.8,1513.6L2119.9,1513.6L2121.0,1513.7L2122.1,1513.7L2123.2,1513.7L2124.3,1513.7L2125.4,1513.7L2126.5,1513.8L2127.6,1513.8L2128.7,1513.8L2129.8,1513.8L2130.9,1513.8L2132.0,1513.9L2133.1,1513.9L2134.2,1513.9L2135.3,1513.9L2136.4,1514.0L2137.5,1514.0L2138.6,1514.0L2139.7,1514.0L2140.8,1514.0L2141.9,1514.1L2143.0,1514.1L2144.1,1514.1L2145.2,1514.1L2146.3,1514.2L2147.4,1514.2L2148.5,1514.2L2149.6,1514.2L2150.7,1514.2L2151.8,1514.3L2152.9,1514.3L2154.0,1514.3L2155.1,1514.3L2156.2,1514.4L2157.3,1514.4L2158.4,1514.4L2159.5,1514.4L2160.6,1514.4L2161.7,1514.5L2162.8,1514.5L2163.9,1514.5L2165.0,1514.5L2166.1,1514.6L2167.2,1514.6L2168.3,1514.6L2169.4,1514.6L2170.5,1514.7L2171.6,1514.7L2172.7,1514.7L2173.8,1514.7L2174.9,1514.7L2176.0,1514.8L2177.1,1514.8L2178.2,1514.8L2179.3,1514.8L2180.4,1514.9L2181.5,1514.9L2182.6,1514.9L2183.7,1514.9L2184.8,1514.9L2185.9,1515.0L2187.0,1515.0L2188.1,1515.0L2189.2,1515.0L2190.3,1515.1L2191.4,1515.1L2192.5,1515.1L2193.6,1515.1L2194.6,1515.2L2195.7,1515.2L2196.8,1515.2L2197.9,1515.2L2199.0,1515.2L2200.1,1515.3L2201.2,1515.3L2202.3,1515.3L2203.4,1515.3L2204.5,1515.4L2205.6,1515.4L2206.7,1515.4L2207.8,1515.4L2208.9,1515.5L2210.0,1515.5L2211.1,1515.5L2212.2,1515.5L2213.3,1515.6L2214.4,1515.6L2215.5,1515.6L2216.6,1515.6L2217.7,1515.6L2218.8,1515.7L2219.9,1515.7L2221.0,1515.7L2222.1,1515.7L2223.2,1515.8L2224.3,1515.8L2225.4,1515.8L2226.5,1515.8L2227.6,1515.9L2228.7,1515.9L2229.8,1515.9L2230.9,1515.9L2232.0,1516.0L2233.1,1516.0L2234.2,1516.0L2235.3,1516.0L2236.4,1516.1L2237.5,1516.1L2238.6,1516.1L2239.7,1516.1L2240.8,1516.2L2241.9,1516.2L2243.0,1516.2L2244.1,1516.2L2245.2,1516.2L2246.3,1516.3L2247.4,1516.3L2248.5,1516.3L2249.6,1516.3L2250.7,1516.4L2251.8,1516.4L2252.9,1516.4L2254.0,1516.4L2255.1,1516.5L2256.2,1516.5L2257.3,1516.5L2258.4,1516.5L2259.5,1516.6L2260.6,1516.6L2261.7,1516.6L2262.8,1516.6L2263.9,1516.7L2265.0,1516.7L2266.1,1516.7L2267.2,1516.7L2268.3,1516.8L2269.4,1516.8L2270.5,1516.8L2271.6,1516.8L2272.7,1516.9L2273.8,1516.9L2274.9,1516.9L2276.0,1516.9L2277.1,1517.0L2278.2,1517.0L2279.3,1517.0L2280.4,1517.1L2281.5,1517.1L2282.6,1517.1L2283.7,1517.1L2284.8,1517.2L2285.9,1517.2L2287.0,1517.2L2288.1,1517.2L2289.2,1517.3L2290.3,1517.3L2291.4,1517.3L2292.5,1517.3L2293.6,1517.4L2294.7,1517.4L2295.8,1517.4L2296.9,1517.4L2298.0,1517.5L2299.1,1517.5L2300.2,1517.5L2301.3,1517.5L2302.4,1517.6L2303.4,1517.6L2304.5,1517.6L2305.6,1517.7L2306.7,1517.7L2307.8,1517.7L2308.9,1517.7L2310.0,1517.8L2311.1,1517.8L2312.2,1517.8L2313.3,1517.8L2314.4,1517.9L2315.5,1517.9L2316.6,1517.9L2317.7,1518.0L2318.8,1518.0L2319.9,1518.0L2321.0,1518.0L2322.1,1518.1L2323.2,1518.1L2324.3,1518.1L2325.4,1518.1L2326.5,1518.2L2327.6,1518.2L2328.7,1518.2L2329.8,1518.3L2330.9,1518.3L2332.0,1518.3L2333.1,1518.3L2334.2,1518.4L2335.3,1518.4L2336.4,1518.4L2337.5,1518.5L2338.6,1518.5L2339.7,1518.5L2340.8,1518.5L2341.9,1518.6L2343.0,1518.6L2344.1,1518.6L2345.2,1518.7L2346.3,1518.7L2347.4,1518.7L2348.5,1518.7L2349.6,1518.8L2350.7,1518.8L2351.8,1518.8L2352.9,1518.9L2354.0,1518.9L2355.1,1518.9L2356.2,1518.9L2357.3,1519.0L2358.4,1519.0L2359.5,1519.0L2360.6,1519.1L2361.7,1519.1L2362.8,1519.1L2363.9,1519.1L2365.0,1519.2L2366.1,1519.2L2367.2,1519.2L2368.3,1519.3L2369.4,1519.3L2370.5,1519.3L2371.6,1519.4L2372.7,1519.4L2373.8,1519.4L2374.9,1519.5L2376.0,1519.5L2377.1,1519.5L2378.2,1519.6L2379.3,1519.6L2380.4,1519.6L2381.5,1519.7L2382.6,1519.7L2383.7,1519.7L2384.8,1519.8L2385.9,1519.8L2387.0,1519.8L2388.1,1519.9L2389.2,1519.9L2390.3,1519.9L2391.4,1520.0L2392.5,1520.0L2393.6,1520.0L2394.7,1520.1L2395.8,1520.1L2396.9,1520.1L2398.0,1520.2L2399.1,1520.2L2400.2,1520.2L2401.3,1520.3L2402.4,1520.3L2403.5,1520.4L2404.6,1520.4L2405.7,1520.4L2406.8,1520.5L2407.9,1520.5L2409.0,1520.5L2410.1,1520.6L2411.2,1520.6L2412.3,1520.6L2413.4,1520.7L2414.4,1520.7L2415.5,1520.7L2416.6,1520.8L2417.7,1520.8L2418.8,1520.8" fill="none" stroke="#16168a" stroke-width="5.5" stroke-linejoin="round" stroke-linecap="round"/>
<text x="1929.0" y="998.0" font-size="43.5" text-anchor="start" fill="#1a1a1a" stroke="#1a1a1a" stroke-width="0.6">Ni-O/O=C-OH</text>
<text x="2152.0" y="1428.0" font-size="43.5" text-anchor="start" fill="#1a1a1a" stroke="#1a1a1a" stroke-width="0.6">Ni-O</text>
</g>
</svg>
</body></html>
